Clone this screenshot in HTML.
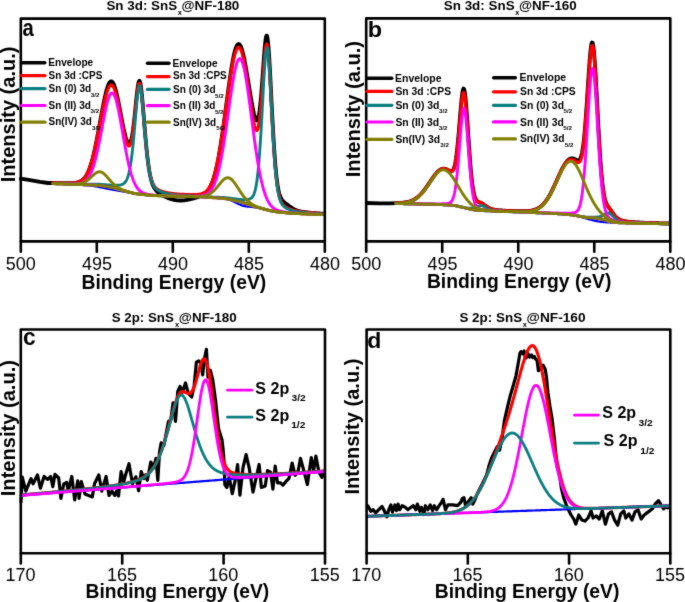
<!DOCTYPE html>
<html><head><meta charset="utf-8"><style>
html,body{margin:0;padding:0;background:#fff;}
svg{display:block;font-family:"Liberation Sans", sans-serif;font-kerning:none;}
</style></head><body>
<svg width="685" height="602" viewBox="0 0 685 602">
<defs><filter id="soft" x="0" y="0" width="685" height="602" filterUnits="userSpaceOnUse" color-interpolation-filters="sRGB"><feConvolveMatrix order="3" kernelMatrix="0.01134 0.08382 0.01134 0.08382 0.61935 0.08382 0.01134 0.08382 0.01134" divisor="1" edgeMode="duplicate" preserveAlpha="false"/></filter></defs>
<rect width="685" height="602" fill="#fff"/>
<g filter="url(#soft)">
<rect width="685" height="602" fill="#fff"/>
<g id="curves">
<path d="M20.8,178.7 L30.0,180.2 L40.0,181.9 L48.0,183.0 L53.0,183.0 L53.5,183.0 L54.0,183.0 L54.5,183.0 L55.0,183.1 L55.5,183.1 L56.0,183.1 L56.5,183.1 L57.0,183.1 L57.5,183.1 L58.0,183.1 L58.5,183.1 L59.0,183.1 L59.5,183.1 L60.0,183.1 L60.5,183.1 L61.0,183.1 L61.5,183.1 L62.0,183.1 L62.5,183.2 L63.0,183.2 L63.5,183.2 L64.0,183.2 L64.5,183.2 L65.0,183.2 L65.5,183.2 L66.0,183.2 L66.5,183.2 L67.0,183.2 L67.5,183.2 L68.0,183.2 L68.5,183.2 L69.0,183.2 L69.5,183.2 L70.0,183.2 L70.5,183.1 L71.0,183.1 L71.5,183.1 L72.0,183.1 L72.5,183.1 L73.0,183.0 L73.5,183.0 L74.0,183.0 L74.5,182.9 L75.0,182.9 L75.5,182.8 L76.0,182.7 L76.5,182.6 L77.0,182.5 L77.5,182.4 L78.0,182.3 L78.5,182.1 L79.0,182.0 L79.5,181.8 L80.0,181.5 L80.5,181.3 L81.0,181.0 L81.5,180.7 L82.0,180.4 L82.5,180.0 L83.0,179.5 L83.5,179.1 L84.0,178.5 L84.5,178.0 L85.0,177.3 L85.5,176.6 L86.0,175.8 L86.5,175.0 L87.0,174.1 L87.5,173.1 L88.0,172.1 L88.5,170.9 L89.0,169.7 L89.5,168.4 L90.0,167.0 L90.5,165.5 L91.0,163.9 L91.5,162.3 L92.0,160.5 L92.5,158.7 L93.0,156.7 L93.5,154.7 L94.0,152.6 L94.5,150.4 L95.0,148.1 L95.5,145.7 L96.0,143.3 L96.5,140.8 L97.0,138.3 L97.5,135.7 L98.0,133.0 L98.5,130.3 L99.0,127.6 L99.5,124.9 L100.0,122.1 L100.5,119.4 L101.0,116.7 L101.5,114.0 L102.0,111.3 L102.5,108.6 L103.0,106.1 L103.5,103.5 L104.0,101.1 L104.5,98.7 L105.0,96.5 L105.5,94.3 L106.0,92.3 L106.5,90.4 L107.0,88.7 L107.5,87.1 L108.0,85.7 L108.5,84.5 L109.0,83.4 L109.5,82.6 L110.0,81.9 L110.5,81.5 L111.0,81.3 L111.5,81.4 L112.0,81.6 L112.5,82.1 L113.0,82.7 L113.5,83.6 L114.0,84.8 L114.5,86.1 L115.0,87.6 L115.5,89.3 L116.0,91.1 L116.5,93.1 L117.0,95.3 L117.5,97.5 L118.0,99.9 L118.5,102.4 L119.0,104.9 L119.5,107.5 L120.0,110.1 L120.5,112.7 L121.0,115.4 L121.5,118.0 L122.0,120.6 L122.5,123.1 L123.0,125.6 L123.5,128.0 L124.0,130.3 L124.5,132.5 L125.0,134.6 L125.5,136.5 L126.0,138.3 L126.5,139.8 L127.0,141.2 L127.5,142.3 L128.0,143.1 L128.5,143.6 L129.0,143.8 L129.5,143.6 L130.0,143.0 L130.5,141.9 L131.0,140.4 L131.5,138.5 L132.0,136.1 L132.5,133.1 L133.0,129.8 L133.5,125.9 L134.0,121.7 L134.5,117.2 L135.0,112.4 L135.5,107.4 L136.0,102.4 L136.5,97.5 L137.0,92.9 L137.5,88.8 L138.0,85.3 L138.5,82.7 L139.0,81.2 L139.5,80.8 L140.0,81.7 L140.5,83.7 L141.0,86.9 L141.5,91.0 L142.0,96.0 L142.5,101.5 L143.0,107.4 L143.5,113.6 L144.0,119.8 L144.5,126.0 L145.0,132.0 L145.5,137.9 L146.0,143.4 L146.5,148.6 L147.0,153.5 L147.5,158.0 L148.0,162.1 L148.5,165.8 L149.0,169.2 L149.5,172.2 L150.0,174.9 L150.5,177.2 L151.0,179.3 L151.5,181.1 L152.0,182.8 L152.5,184.2 L153.0,185.4 L153.5,186.5 L154.0,187.4 L154.5,188.3 L155.0,189.0 L155.5,189.7 L156.0,190.3 L156.5,190.8 L157.0,191.4 L157.5,191.8 L158.0,192.3 L158.5,192.7 L159.0,193.0 L159.5,193.4 L160.0,193.8 L160.5,194.1 L161.0,194.4 L161.5,194.7 L162.0,195.0 L162.5,195.3 L163.0,195.6 L163.5,195.9 L164.0,196.1 L164.5,196.4 L165.0,196.6 L165.5,196.9 L166.0,197.1 L166.5,197.3 L167.0,197.6 L167.5,197.8 L168.0,198.0 L168.5,198.2 L169.0,198.4 L169.5,198.5 L170.0,198.7 L170.5,198.9 L171.0,199.1 L171.5,199.2 L172.0,199.4 L172.5,199.5 L173.0,199.6 L173.5,199.7 L174.0,199.8 L174.5,200.0 L175.0,200.0 L175.5,200.1 L176.0,200.2 L176.5,200.3 L177.0,200.3 L177.5,200.4 L178.0,200.4 L178.5,200.5 L179.0,200.5 L179.5,200.5 L180.0,200.5 L180.5,200.5 L181.0,200.5 L181.5,200.5 L182.0,200.5 L182.5,200.5 L183.0,200.4 L183.5,200.4 L184.0,200.3 L184.5,200.3 L185.0,200.2 L185.5,200.1 L186.0,200.1 L186.5,200.0 L187.0,199.9 L187.5,199.8 L188.0,199.7 L188.5,199.6 L189.0,199.5 L189.5,199.4 L190.0,199.3 L190.5,199.2 L191.0,199.1 L191.5,198.9 L192.0,198.8 L192.5,198.7 L193.0,198.6 L193.5,198.4 L194.0,198.3 L194.5,198.1 L195.0,198.0 L195.5,197.9 L196.0,197.7 L196.5,197.6 L197.0,197.4 L197.5,197.2 L198.0,197.1 L198.5,196.9 L199.0,196.7 L199.5,196.5 L200.0,196.3 L200.5,196.1 L201.0,195.9 L201.5,195.7 L202.0,195.4 L202.5,195.2 L203.0,194.9 L203.5,194.6 L204.0,194.2 L204.5,193.9 L205.0,193.5 L205.5,193.0 L206.0,192.6 L206.5,192.1 L207.0,191.5 L207.5,190.9 L208.0,190.3 L208.5,189.6 L209.0,188.8 L209.5,188.0 L210.0,187.1 L210.5,186.1 L211.0,185.0 L211.5,183.9 L212.0,182.7 L212.5,181.4 L213.0,180.0 L213.5,178.5 L214.0,176.8 L214.5,175.1 L215.0,173.3 L215.5,171.4 L216.0,169.3 L216.5,167.2 L217.0,164.9 L217.5,162.5 L218.0,160.0 L218.5,157.4 L219.0,154.6 L219.5,151.8 L220.0,148.8 L220.5,145.8 L221.0,142.6 L221.5,139.3 L222.0,136.0 L222.5,132.5 L223.0,129.0 L223.5,125.4 L224.0,121.8 L224.5,118.1 L225.0,114.4 L225.5,110.6 L226.0,106.8 L226.5,103.0 L227.0,99.3 L227.5,95.5 L228.0,91.8 L228.5,88.1 L229.0,84.5 L229.5,81.0 L230.0,77.5 L230.5,74.2 L231.0,70.9 L231.5,67.8 L232.0,64.8 L232.5,62.0 L233.0,59.3 L233.5,56.8 L234.0,54.5 L234.5,52.4 L235.0,50.6 L235.5,48.9 L236.0,47.5 L236.5,46.3 L237.0,45.3 L237.5,44.6 L238.0,44.2 L238.5,44.0 L239.0,44.1 L239.5,44.4 L240.0,45.0 L240.5,45.8 L241.0,46.9 L241.5,48.2 L242.0,49.7 L242.5,51.5 L243.0,53.4 L243.5,55.5 L244.0,57.8 L244.5,60.2 L245.0,62.8 L245.5,65.5 L246.0,68.3 L246.5,71.2 L247.0,74.1 L247.5,77.1 L248.0,80.1 L248.5,83.1 L249.0,86.2 L249.5,89.2 L250.0,92.3 L250.5,95.3 L251.0,98.2 L251.5,101.1 L252.0,103.9 L252.5,106.6 L253.0,109.2 L253.5,111.6 L254.0,113.9 L254.5,115.9 L255.0,117.6 L255.5,119.0 L256.0,120.0 L256.5,120.5 L257.0,120.6 L257.5,120.0 L258.0,118.8 L258.5,117.0 L259.0,114.4 L259.5,111.1 L260.0,107.1 L260.5,102.4 L261.0,96.9 L261.5,90.9 L262.0,84.4 L262.5,77.5 L263.0,70.5 L263.5,63.4 L264.0,56.5 L264.5,50.2 L265.0,44.6 L265.5,40.1 L266.0,37.0 L266.5,35.6 L267.0,35.8 L267.5,37.9 L268.0,41.8 L268.5,47.4 L269.0,54.3 L269.5,62.4 L270.0,71.4 L270.5,80.9 L271.0,90.8 L271.5,100.8 L272.0,110.6 L272.5,120.2 L273.0,129.4 L273.5,138.0 L274.0,146.1 L274.5,153.6 L275.0,160.4 L275.5,166.5 L276.0,171.9 L276.5,176.7 L277.0,180.8 L277.5,184.5 L278.0,187.5 L278.5,190.2 L279.0,192.4 L279.5,194.3 L280.0,195.8 L280.5,197.1 L281.0,198.2 L281.5,199.1 L282.0,199.9 L282.5,200.6 L283.0,201.1 L283.5,201.6 L284.0,202.1 L284.5,202.5 L285.0,202.9 L285.5,203.3 L286.0,203.7 L286.5,204.0 L287.0,204.4 L287.5,204.8 L288.0,205.2 L288.5,205.5 L289.0,205.9 L289.5,206.3 L290.0,206.6 L290.5,207.0 L291.0,207.3 L291.5,207.7 L292.0,208.0 L292.5,208.3 L293.0,208.6 L293.5,208.9 L294.0,209.2 L294.5,209.5 L295.0,209.7 L295.5,209.9 L296.0,210.1 L296.5,210.3 L297.0,210.5 L297.5,210.7 L298.0,210.8 L298.5,211.0 L299.0,211.1 L299.5,211.2 L300.0,211.3 L300.5,211.4 L301.0,211.5 L301.5,211.6 L302.0,211.7 L302.5,211.8 L303.0,211.9 L303.5,212.0 L304.0,212.0 L304.5,212.1 L305.0,212.2 L305.5,212.2 L306.0,212.3 L306.5,212.3 L307.0,212.4 L307.5,212.5 L308.0,212.5 L308.5,212.6 L309.0,212.6 L309.5,212.7 L310.0,212.7 L310.5,212.8 L311.0,212.8 L311.5,212.9 L312.0,212.9 L312.5,212.9 L313.0,213.0 L313.5,213.0 L314.0,213.1 L314.5,213.1 L315.0,213.2 L315.5,213.2 L316.0,213.2 L316.5,213.3 L317.0,213.3 L317.5,213.4 L318.0,213.4 L318.5,213.4 L319.0,213.5 L319.5,213.5 L320.0,213.5 L320.5,213.6 L321.0,213.6 L321.5,213.6 L322.0,213.7 L322.5,213.7 L323.0,213.7 L323.5,213.8 L324.0,213.8" fill="none" stroke="#000000" stroke-width="3.8" stroke-linejoin="round" stroke-linecap="round" />
<path d="M53.0,183.0 L53.5,183.0 L54.0,183.0 L54.5,183.0 L55.0,183.1 L55.5,183.1 L56.0,183.1 L56.5,183.1 L57.0,183.1 L57.5,183.1 L58.0,183.1 L58.5,183.1 L59.0,183.1 L59.5,183.1 L60.0,183.1 L60.5,183.1 L61.0,183.1 L61.5,183.1 L62.0,183.1 L62.5,183.2 L63.0,183.2 L63.5,183.2 L64.0,183.2 L64.5,183.2 L65.0,183.2 L65.5,183.2 L66.0,183.2 L66.5,183.2 L67.0,183.2 L67.5,183.2 L68.0,183.2 L68.5,183.2 L69.0,183.2 L69.5,183.2 L70.0,183.2 L70.5,183.1 L71.0,183.1 L71.5,183.1 L72.0,183.1 L72.5,183.1 L73.0,183.0 L73.5,183.0 L74.0,183.0 L74.5,182.9 L75.0,182.9 L75.5,182.8 L76.0,182.7 L76.5,182.6 L77.0,182.5 L77.5,182.4 L78.0,182.3 L78.5,182.1 L79.0,182.0 L79.5,181.8 L80.0,181.5 L80.5,181.3 L81.0,181.0 L81.5,180.7 L82.0,180.4 L82.5,180.0 L83.0,179.5 L83.5,179.1 L84.0,178.5 L84.5,178.0 L85.0,177.3 L85.5,176.6 L86.0,175.9 L86.5,175.0 L87.0,174.1 L87.5,173.1 L88.0,172.1 L88.5,171.0 L89.0,169.7 L89.5,168.4 L90.0,167.1 L90.5,165.6 L91.0,164.0 L91.5,162.4 L92.0,160.6 L92.5,158.8 L93.0,156.9 L93.5,154.9 L94.0,152.8 L94.5,150.7 L95.0,148.4 L95.5,146.1 L96.0,143.8 L96.5,141.3 L97.0,138.8 L97.5,136.3 L98.0,133.8 L98.5,131.2 L99.0,128.6 L99.5,126.0 L100.0,123.3 L100.5,120.7 L101.0,118.1 L101.5,115.6 L102.0,113.1 L102.5,110.6 L103.0,108.1 L103.5,105.8 L104.0,103.5 L104.5,101.3 L105.0,99.2 L105.5,97.2 L106.0,95.3 L106.5,93.6 L107.0,91.9 L107.5,90.5 L108.0,89.2 L108.5,88.0 L109.0,87.0 L109.5,86.2 L110.0,85.6 L110.5,85.2 L111.0,85.0 L111.5,85.0 L112.0,85.2 L112.5,85.6 L113.0,86.2 L113.5,87.0 L114.0,88.0 L114.5,89.2 L115.0,90.6 L115.5,92.2 L116.0,93.9 L116.5,95.7 L117.0,97.7 L117.5,99.9 L118.0,102.1 L118.5,104.5 L119.0,106.9 L119.5,109.4 L120.0,112.0 L120.5,114.6 L121.0,117.2 L121.5,119.8 L122.0,122.5 L122.5,125.0 L123.0,127.6 L123.5,130.0 L124.0,132.4 L124.5,134.7 L125.0,136.8 L125.5,138.8 L126.0,140.6 L126.5,142.2 L127.0,143.5 L127.5,144.6 L128.0,145.4 L128.5,145.8 L129.0,145.9 L129.5,145.7 L130.0,145.0 L130.5,143.9 L131.0,142.3 L131.5,140.3 L132.0,137.9 L132.5,135.0 L133.0,131.6 L133.5,127.8 L134.0,123.7 L134.5,119.2 L135.0,114.5 L135.5,109.6 L136.0,104.7 L136.5,99.9 L137.0,95.4 L137.5,91.3 L138.0,87.9 L138.5,85.3 L139.0,83.8 L139.5,83.4 L140.0,84.2 L140.5,86.2 L141.0,89.3 L141.5,93.3 L142.0,98.1 L142.5,103.4 L143.0,109.1 L143.5,115.1 L144.0,121.1 L144.5,127.1 L145.0,133.0 L145.5,138.6 L146.0,143.9 L146.5,149.0 L147.0,153.6 L147.5,157.9 L148.0,161.9 L148.5,165.4 L149.0,168.6 L149.5,171.5 L150.0,174.0 L150.5,176.3 L151.0,178.3 L151.5,180.0 L152.0,181.5 L152.5,182.8 L153.0,183.9 L153.5,184.9 L154.0,185.7 L154.5,186.5 L155.0,187.1 L155.5,187.7 L156.0,188.2 L156.5,188.6 L157.0,189.0 L157.5,189.3 L158.0,189.7 L158.5,190.0 L159.0,190.2 L159.5,190.5 L160.0,190.7 L160.5,190.9 L161.0,191.1 L161.5,191.3 L162.0,191.5 L162.5,191.6 L163.0,191.8 L163.5,191.9 L164.0,192.1 L164.5,192.2 L165.0,192.3 L165.5,192.4 L166.0,192.5 L166.5,192.6 L167.0,192.7 L167.5,192.8 L168.0,192.9 L168.5,193.0 L169.0,193.1 L169.5,193.2 L170.0,193.3 L170.5,193.3 L171.0,193.4 L171.5,193.5 L172.0,193.5 L172.5,193.6 L173.0,193.7 L173.5,193.7 L174.0,193.8 L174.5,193.8 L175.0,193.9 L175.5,193.9 L176.0,194.0 L176.5,194.0 L177.0,194.1 L177.5,194.1 L178.0,194.1 L178.5,194.2 L179.0,194.2 L179.5,194.3 L180.0,194.3 L180.5,194.3 L181.0,194.4 L181.5,194.4 L182.0,194.4 L182.5,194.4 L183.0,194.5 L183.5,194.5 L184.0,194.5 L184.5,194.5 L185.0,194.6 L185.5,194.6 L186.0,194.6 L186.5,194.6 L187.0,194.6 L187.5,194.7 L188.0,194.7 L188.5,194.7 L189.0,194.7 L189.5,194.7 L190.0,194.7 L190.5,194.7 L191.0,194.7 L191.5,194.7 L192.0,194.7 L192.5,194.7 L193.0,194.7 L193.5,194.7 L194.0,194.7 L194.5,194.7 L195.0,194.7 L195.5,194.7 L196.0,194.6 L196.5,194.6 L197.0,194.6 L197.5,194.5 L198.0,194.5 L198.5,194.4 L199.0,194.3 L199.5,194.3 L200.0,194.2 L200.5,194.1 L201.0,194.0 L201.5,193.8 L202.0,193.7 L202.5,193.5 L203.0,193.3 L203.5,193.1 L204.0,192.8 L204.5,192.5 L205.0,192.2 L205.5,191.9 L206.0,191.5 L206.5,191.0 L207.0,190.6 L207.5,190.0 L208.0,189.4 L208.5,188.8 L209.0,188.1 L209.5,187.3 L210.0,186.4 L210.5,185.5 L211.0,184.5 L211.5,183.4 L212.0,182.2 L212.5,180.9 L213.0,179.6 L213.5,178.1 L214.0,176.5 L214.5,174.8 L215.0,173.0 L215.5,171.1 L216.0,169.1 L216.5,167.0 L217.0,164.7 L217.5,162.4 L218.0,159.9 L218.5,157.3 L219.0,154.6 L219.5,151.8 L220.0,148.8 L220.5,145.8 L221.0,142.7 L221.5,139.4 L222.0,136.1 L222.5,132.7 L223.0,129.3 L223.5,125.8 L224.0,122.2 L224.5,118.6 L225.0,114.9 L225.5,111.2 L226.0,107.5 L226.5,103.9 L227.0,100.2 L227.5,96.6 L228.0,93.0 L228.5,89.4 L229.0,85.9 L229.5,82.5 L230.0,79.2 L230.5,76.0 L231.0,72.9 L231.5,69.9 L232.0,67.1 L232.5,64.4 L233.0,61.9 L233.5,59.5 L234.0,57.3 L234.5,55.4 L235.0,53.6 L235.5,52.0 L236.0,50.6 L236.5,49.5 L237.0,48.6 L237.5,47.9 L238.0,47.5 L238.5,47.3 L239.0,47.4 L239.5,47.7 L240.0,48.3 L240.5,49.1 L241.0,50.1 L241.5,51.4 L242.0,52.8 L242.5,54.6 L243.0,56.5 L243.5,58.6 L244.0,60.9 L244.5,63.4 L245.0,66.1 L245.5,68.9 L246.0,71.9 L246.5,75.0 L247.0,78.2 L247.5,81.5 L248.0,84.9 L248.5,88.3 L249.0,91.8 L249.5,95.3 L250.0,98.8 L250.5,102.3 L251.0,105.7 L251.5,109.1 L252.0,112.4 L252.5,115.5 L253.0,118.5 L253.5,121.2 L254.0,123.7 L254.5,125.9 L255.0,127.7 L255.5,129.1 L256.0,130.1 L256.5,130.5 L257.0,130.4 L257.5,129.7 L258.0,128.3 L258.5,126.2 L259.0,123.4 L259.5,119.9 L260.0,115.7 L260.5,110.8 L261.0,105.3 L261.5,99.2 L262.0,92.7 L262.5,85.8 L263.0,78.7 L263.5,71.7 L264.0,64.9 L264.5,58.7 L265.0,53.2 L265.5,48.8 L266.0,45.7 L266.5,44.2 L267.0,44.4 L267.5,46.4 L268.0,50.1 L268.5,55.4 L269.0,62.1 L269.5,69.9 L270.0,78.5 L270.5,87.6 L271.0,97.1 L271.5,106.6 L272.0,116.0 L272.5,125.2 L273.0,133.9 L273.5,142.2 L274.0,150.0 L274.5,157.1 L275.0,163.6 L275.5,169.5 L276.0,174.7 L276.5,179.4 L277.0,183.5 L277.5,187.0 L278.0,190.1 L278.5,192.7 L279.0,195.0 L279.5,197.0 L280.0,198.6 L280.5,200.0 L281.0,201.2 L281.5,202.2 L282.0,203.1 L282.5,203.8 L283.0,204.5 L283.5,205.1 L284.0,205.6 L284.5,206.0 L285.0,206.4 L285.5,206.8 L286.0,207.1 L286.5,207.4 L287.0,207.7 L287.5,208.0 L288.0,208.2 L288.5,208.5 L289.0,208.7 L289.5,208.9 L290.0,209.1 L290.5,209.3 L291.0,209.5 L291.5,209.6 L292.0,209.8 L292.5,209.9 L293.0,210.1 L293.5,210.2 L294.0,210.3 L294.5,210.5 L295.0,210.6 L295.5,210.7 L296.0,210.8 L296.5,210.9 L297.0,211.0 L297.5,211.1 L298.0,211.2 L298.5,211.3 L299.0,211.3 L299.5,211.4 L300.0,211.5 L300.5,211.6 L301.0,211.6 L301.5,211.7 L302.0,211.8 L302.5,211.9 L303.0,211.9 L303.5,212.0 L304.0,212.1 L304.5,212.1 L305.0,212.2 L305.5,212.2 L306.0,212.3 L306.5,212.3 L307.0,212.4 L307.5,212.5 L308.0,212.5 L308.5,212.6 L309.0,212.6 L309.5,212.7 L310.0,212.7 L310.5,212.8 L311.0,212.8 L311.5,212.9 L312.0,212.9 L312.5,212.9 L313.0,213.0 L313.5,213.0 L314.0,213.1 L314.5,213.1 L315.0,213.2 L315.5,213.2 L316.0,213.2 L316.5,213.3 L317.0,213.3 L317.5,213.4 L318.0,213.4 L318.5,213.4 L319.0,213.5 L319.5,213.5 L320.0,213.5 L320.5,213.6 L321.0,213.6 L321.5,213.6 L322.0,213.7 L322.5,213.7 L323.0,213.7 L323.5,213.8 L324.0,213.8" fill="none" stroke="#ff0000" stroke-width="3.3" stroke-linejoin="round" stroke-linecap="round" />
<path d="M53.0,183.6 L53.5,183.7 L54.0,183.7 L54.5,183.7 L55.0,183.7 L55.5,183.7 L56.0,183.7 L56.5,183.7 L57.0,183.7 L57.5,183.8 L58.0,183.8 L58.5,183.8 L59.0,183.8 L59.5,183.8 L60.0,183.9 L60.5,183.9 L61.0,183.9 L61.5,183.9 L62.0,183.9 L62.5,183.9 L63.0,184.0 L63.5,184.0 L64.0,184.0 L64.5,184.0 L65.0,184.0 L65.5,184.1 L66.0,184.1 L66.5,184.1 L67.0,184.1 L67.5,184.1 L68.0,184.1 L68.5,184.2 L69.0,184.2 L69.5,184.2 L70.0,184.2 L70.5,184.2 L71.0,184.3 L71.5,184.3 L72.0,184.3 L72.5,184.3 L73.0,184.3 L73.5,184.4 L74.0,184.4 L74.5,184.4 L75.0,184.4 L75.5,184.5 L76.0,184.5 L76.5,184.5 L77.0,184.5 L77.5,184.6 L78.0,184.6 L78.5,184.6 L79.0,184.7 L79.5,184.7 L80.0,184.7 L80.5,184.7 L81.0,184.8 L81.5,184.8 L82.0,184.9 L82.5,184.9 L83.0,184.9 L83.5,185.0 L84.0,185.0 L84.5,185.1 L85.0,185.1 L85.5,185.2 L86.0,185.2 L86.5,185.2 L87.0,185.3 L87.5,185.4 L88.0,185.4 L88.5,185.5 L89.0,185.5 L89.5,185.6 L90.0,185.6 L90.5,185.7 L91.0,185.8 L91.5,185.8 L92.0,185.9 L92.5,186.0 L93.0,186.0 L93.5,186.1 L94.0,186.2 L94.5,186.2 L95.0,186.3 L95.5,186.4 L96.0,186.5 L96.5,186.5 L97.0,186.6 L97.5,186.7 L98.0,186.8 L98.5,186.9 L99.0,187.0 L99.5,187.1 L100.0,187.2 L100.5,187.3 L101.0,187.4 L101.5,187.5 L102.0,187.6 L102.5,187.7 L103.0,187.8 L103.5,187.9 L104.0,188.0 L104.5,188.1 L105.0,188.2 L105.5,188.3 L106.0,188.4 L106.5,188.5 L107.0,188.6 L107.5,188.7 L108.0,188.8 L108.5,188.9 L109.0,189.0 L109.5,189.1 L110.0,189.2 L110.5,189.3 L111.0,189.3 L111.5,189.4 L112.0,189.5 L112.5,189.6 L113.0,189.7 L113.5,189.8 L114.0,189.9 L114.5,190.0 L115.0,190.1 L115.5,190.1 L116.0,190.2 L116.5,190.3 L117.0,190.4 L117.5,190.5 L118.0,190.6 L118.5,190.7 L119.0,190.8 L119.5,190.9 L120.0,190.9 L120.5,191.0 L121.0,191.1 L121.5,191.2 L122.0,191.3 L122.5,191.4 L123.0,191.5 L123.5,191.6 L124.0,191.7 L124.5,191.7 L125.0,191.8 L125.5,191.9 L126.0,192.0 L126.5,192.1 L127.0,192.2 L127.5,192.3 L128.0,192.4 L128.5,192.5 L129.0,192.6 L129.5,192.7 L130.0,192.8 L130.5,192.9 L131.0,193.0 L131.5,193.1 L132.0,193.2 L132.5,193.3 L133.0,193.4 L133.5,193.5 L134.0,193.6 L134.5,193.7 L135.0,193.8 L135.5,193.8 L136.0,193.9 L136.5,194.0 L137.0,194.0 L137.5,194.1 L138.0,194.1 L138.5,194.2 L139.0,194.2 L139.5,194.3 L140.0,194.3 L140.5,194.4 L141.0,194.4 L141.5,194.5 L142.0,194.5 L142.5,194.6 L143.0,194.6 L143.5,194.7 L144.0,194.7 L144.5,194.8 L145.0,194.8 L145.5,194.9 L146.0,194.9 L146.5,195.0 L147.0,195.0 L147.5,195.1 L148.0,195.1 L148.5,195.2 L149.0,195.2 L149.5,195.2 L150.0,195.3 L150.5,195.3 L151.0,195.4 L151.5,195.4 L152.0,195.4 L152.5,195.5 L153.0,195.5 L153.5,195.5 L154.0,195.6 L154.5,195.6 L155.0,195.6 L155.5,195.6 L156.0,195.7 L156.5,195.7 L157.0,195.7 L157.5,195.7 L158.0,195.7 L158.5,195.7 L159.0,195.8 L159.5,195.8 L160.0,195.8 L160.5,195.8 L161.0,195.8 L161.5,195.8 L162.0,195.8 L162.5,195.9 L163.0,195.9 L163.5,195.9 L164.0,195.9 L164.5,195.9 L165.0,195.9 L165.5,195.9 L166.0,196.0 L166.5,196.0 L167.0,196.0 L167.5,196.0 L168.0,196.0 L168.5,196.0 L169.0,196.0 L169.5,196.1 L170.0,196.1 L170.5,196.1 L171.0,196.1 L171.5,196.1 L172.0,196.1 L172.5,196.1 L173.0,196.2 L173.5,196.2 L174.0,196.2 L174.5,196.2 L175.0,196.2 L175.5,196.2 L176.0,196.2 L176.5,196.3 L177.0,196.3 L177.5,196.3 L178.0,196.3 L178.5,196.3 L179.0,196.3 L179.5,196.3 L180.0,196.3 L180.5,196.4 L181.0,196.4 L181.5,196.4 L182.0,196.4 L182.5,196.4 L183.0,196.4 L183.5,196.4 L184.0,196.5 L184.5,196.5 L185.0,196.5 L185.5,196.5 L186.0,196.5 L186.5,196.5 L187.0,196.5 L187.5,196.6 L188.0,196.6 L188.5,196.6 L189.0,196.6 L189.5,196.6 L190.0,196.6 L190.5,196.6 L191.0,196.7 L191.5,196.7 L192.0,196.7 L192.5,196.7 L193.0,196.7 L193.5,196.7 L194.0,196.7 L194.5,196.7 L195.0,196.8 L195.5,196.8 L196.0,196.8 L196.5,196.8 L197.0,196.8 L197.5,196.8 L198.0,196.9 L198.5,196.9 L199.0,196.9 L199.5,196.9 L200.0,196.9 L200.5,197.0 L201.0,197.0 L201.5,197.0 L202.0,197.0 L202.5,197.1 L203.0,197.1 L203.5,197.1 L204.0,197.2 L204.5,197.2 L205.0,197.2 L205.5,197.3 L206.0,197.3 L206.5,197.3 L207.0,197.3 L207.5,197.4 L208.0,197.4 L208.5,197.4 L209.0,197.5 L209.5,197.5 L210.0,197.5 L210.5,197.6 L211.0,197.6 L211.5,197.6 L212.0,197.7 L212.5,197.7 L213.0,197.7 L213.5,197.8 L214.0,197.8 L214.5,197.8 L215.0,197.9 L215.5,197.9 L216.0,197.9 L216.5,198.0 L217.0,198.0 L217.5,198.0 L218.0,198.1 L218.5,198.1 L219.0,198.1 L219.5,198.2 L220.0,198.2 L220.5,198.2 L221.0,198.3 L221.5,198.3 L222.0,198.4 L222.5,198.4 L223.0,198.5 L223.5,198.6 L224.0,198.6 L224.5,198.7 L225.0,198.8 L225.5,198.9 L226.0,199.0 L226.5,199.1 L227.0,199.2 L227.5,199.3 L228.0,199.5 L228.5,199.6 L229.0,199.8 L229.5,199.9 L230.0,200.1 L230.5,200.3 L231.0,200.4 L231.5,200.6 L232.0,200.8 L232.5,201.0 L233.0,201.3 L233.5,201.5 L234.0,201.7 L234.5,201.9 L235.0,202.2 L235.5,202.4 L236.0,202.7 L236.5,202.9 L237.0,203.2 L237.5,203.4 L238.0,203.7 L238.5,203.9 L239.0,204.2 L239.5,204.4 L240.0,204.6 L240.5,204.9 L241.0,205.1 L241.5,205.3 L242.0,205.4 L242.5,205.6 L243.0,205.8 L243.5,205.9 L244.0,206.0 L244.5,206.1 L245.0,206.2 L245.5,206.3 L246.0,206.4 L246.5,206.4 L247.0,206.5 L247.5,206.6 L248.0,206.6 L248.5,206.6 L249.0,206.7 L249.5,206.7 L250.0,206.8 L250.5,206.8 L251.0,206.9 L251.5,206.9 L252.0,207.0 L252.5,207.0 L253.0,207.1 L253.5,207.1 L254.0,207.2 L254.5,207.3 L255.0,207.3 L255.5,207.4 L256.0,207.5 L256.5,207.6 L257.0,207.7 L257.5,207.8 L258.0,207.9 L258.5,208.0 L259.0,208.0 L259.5,208.2 L260.0,208.3 L260.5,208.4 L261.0,208.5 L261.5,208.6 L262.0,208.7 L262.5,208.8 L263.0,208.9 L263.5,209.1 L264.0,209.2 L264.5,209.3 L265.0,209.4 L265.5,209.6 L266.0,209.7 L266.5,209.8 L267.0,209.9 L267.5,210.1 L268.0,210.2 L268.5,210.3 L269.0,210.4 L269.5,210.6 L270.0,210.7 L270.5,210.8 L271.0,210.9 L271.5,211.0 L272.0,211.1 L272.5,211.2 L273.0,211.3 L273.5,211.4 L274.0,211.5 L274.5,211.6 L275.0,211.6 L275.5,211.7 L276.0,211.8 L276.5,211.8 L277.0,211.9 L277.5,211.9 L278.0,212.0 L278.5,212.0 L279.0,212.1 L279.5,212.1 L280.0,212.2 L280.5,212.2 L281.0,212.3 L281.5,212.3 L282.0,212.4 L282.5,212.4 L283.0,212.5 L283.5,212.5 L284.0,212.6 L284.5,212.6 L285.0,212.7 L285.5,212.7 L286.0,212.8 L286.5,212.8 L287.0,212.9 L287.5,212.9 L288.0,213.0 L288.5,213.0 L289.0,213.1 L289.5,213.1 L290.0,213.2 L290.5,213.2 L291.0,213.2 L291.5,213.3 L292.0,213.3 L292.5,213.3 L293.0,213.4 L293.5,213.4 L294.0,213.4 L294.5,213.4 L295.0,213.5 L295.5,213.5 L296.0,213.5 L296.5,213.5 L297.0,213.6 L297.5,213.6 L298.0,213.6 L298.5,213.6 L299.0,213.6 L299.5,213.7 L300.0,213.7 L300.5,213.7 L301.0,213.7 L301.5,213.7 L302.0,213.8 L302.5,213.8 L303.0,213.8 L303.5,213.8 L304.0,213.9 L304.5,213.9 L305.0,213.9 L305.5,213.9 L306.0,213.9 L306.5,214.0 L307.0,214.0 L307.5,214.0 L308.0,214.0 L308.5,214.0 L309.0,214.1 L309.5,214.1 L310.0,214.1 L310.5,214.1 L311.0,214.1 L311.5,214.2 L312.0,214.2 L312.5,214.2 L313.0,214.2 L313.5,214.3 L314.0,214.3 L314.5,214.3 L315.0,214.3 L315.5,214.3 L316.0,214.4 L316.5,214.4 L317.0,214.4 L317.5,214.4 L318.0,214.4 L318.5,214.5 L319.0,214.5 L319.5,214.5 L320.0,214.5 L320.5,214.5 L321.0,214.6 L321.5,214.6 L322.0,214.6 L322.5,214.6 L323.0,214.6 L323.5,214.6 L324.0,214.6" fill="none" stroke="#0000ff" stroke-width="2.2" stroke-linejoin="round" stroke-linecap="round" />
<path d="M53.0,183.4 L53.5,183.4 L54.0,183.4 L54.5,183.4 L55.0,183.4 L55.5,183.4 L56.0,183.4 L56.5,183.5 L57.0,183.5 L57.5,183.5 L58.0,183.5 L58.5,183.5 L59.0,183.5 L59.5,183.5 L60.0,183.5 L60.5,183.6 L61.0,183.6 L61.5,183.6 L62.0,183.6 L62.5,183.6 L63.0,183.6 L63.5,183.6 L64.0,183.7 L64.5,183.7 L65.0,183.7 L65.5,183.7 L66.0,183.7 L66.5,183.7 L67.0,183.7 L67.5,183.7 L68.0,183.8 L68.5,183.8 L69.0,183.8 L69.5,183.8 L70.0,183.8 L70.5,183.8 L71.0,183.8 L71.5,183.8 L72.0,183.9 L72.5,183.9 L73.0,183.9 L73.5,183.9 L74.0,183.9 L74.5,183.9 L75.0,183.9 L75.5,183.9 L76.0,184.0 L76.5,184.0 L77.0,184.0 L77.5,184.0 L78.0,184.0 L78.5,184.0 L79.0,184.0 L79.5,184.0 L80.0,184.0 L80.5,184.1 L81.0,184.1 L81.5,184.1 L82.0,184.1 L82.5,184.1 L83.0,184.1 L83.5,184.1 L84.0,184.1 L84.5,184.1 L85.0,184.1 L85.5,184.1 L86.0,184.2 L86.5,184.2 L87.0,184.2 L87.5,184.2 L88.0,184.2 L88.5,184.2 L89.0,184.2 L89.5,184.2 L90.0,184.2 L90.5,184.2 L91.0,184.2 L91.5,184.2 L92.0,184.2 L92.5,184.2 L93.0,184.2 L93.5,184.2 L94.0,184.2 L94.5,184.2 L95.0,184.2 L95.5,184.2 L96.0,184.2 L96.5,184.2 L97.0,184.3 L97.5,184.3 L98.0,184.3 L98.5,184.3 L99.0,184.3 L99.5,184.3 L100.0,184.3 L100.5,184.4 L101.0,184.4 L101.5,184.4 L102.0,184.5 L102.5,184.5 L103.0,184.5 L103.5,184.6 L104.0,184.6 L104.5,184.7 L105.0,184.7 L105.5,184.7 L106.0,184.8 L106.5,184.8 L107.0,184.9 L107.5,184.9 L108.0,184.9 L108.5,185.0 L109.0,185.0 L109.5,185.0 L110.0,185.1 L110.5,185.1 L111.0,185.1 L111.5,185.1 L112.0,185.2 L112.5,185.2 L113.0,185.2 L113.5,185.3 L114.0,185.3 L114.5,185.3 L115.0,185.3 L115.5,185.3 L116.0,185.3 L116.5,185.3 L117.0,185.3 L117.5,185.3 L118.0,185.3 L118.5,185.2 L119.0,185.2 L119.5,185.1 L120.0,185.1 L120.5,185.0 L121.0,184.8 L121.5,184.7 L122.0,184.5 L122.5,184.3 L123.0,184.0 L123.5,183.7 L124.0,183.3 L124.5,182.9 L125.0,182.4 L125.5,181.7 L126.0,181.0 L126.5,180.1 L127.0,179.1 L127.5,177.8 L128.0,176.4 L128.5,174.7 L129.0,172.8 L129.5,170.5 L130.0,168.0 L130.5,165.1 L131.0,161.9 L131.5,158.3 L132.0,154.3 L132.5,149.9 L133.0,145.2 L133.5,140.1 L134.0,134.7 L134.5,129.1 L135.0,123.3 L135.5,117.4 L136.0,111.6 L136.5,105.9 L137.0,100.6 L137.5,95.8 L138.0,91.7 L138.5,88.6 L139.0,86.5 L139.5,85.7 L140.0,86.2 L140.5,87.8 L141.0,90.7 L141.5,94.5 L142.0,99.1 L142.5,104.4 L143.0,110.1 L143.5,116.0 L144.0,122.0 L144.5,128.0 L145.0,133.9 L145.5,139.5 L146.0,144.8 L146.5,149.9 L147.0,154.6 L147.5,158.9 L148.0,162.8 L148.5,166.4 L149.0,169.6 L149.5,172.4 L150.0,175.0 L150.5,177.2 L151.0,179.1 L151.5,180.9 L152.0,182.3 L152.5,183.6 L153.0,184.7 L153.5,185.7 L154.0,186.5 L154.5,187.3 L155.0,187.9 L155.5,188.5 L156.0,189.0 L156.5,189.4 L157.0,189.8 L157.5,190.1 L158.0,190.4 L158.5,190.7 L159.0,191.0 L159.5,191.2 L160.0,191.5 L160.5,191.7 L161.0,191.9 L161.5,192.0 L162.0,192.2 L162.5,192.4 L163.0,192.5 L163.5,192.7 L164.0,192.8 L164.5,192.9 L165.0,193.1 L165.5,193.2 L166.0,193.3 L166.5,193.4 L167.0,193.5 L167.5,193.6 L168.0,193.7 L168.5,193.8 L169.0,193.9 L169.5,194.0 L170.0,194.0 L170.5,194.1 L171.0,194.2 L171.5,194.3 L172.0,194.3 L172.5,194.4 L173.0,194.5 L173.5,194.5 L174.0,194.6 L174.5,194.6 L175.0,194.7 L175.5,194.7 L176.0,194.8 L176.5,194.9 L177.0,194.9 L177.5,195.0 L178.0,195.0 L178.5,195.0 L179.0,195.1 L179.5,195.1 L180.0,195.2 L180.5,195.2 L181.0,195.3 L181.5,195.3 L182.0,195.3 L182.5,195.4 L183.0,195.4 L183.5,195.4 L184.0,195.5 L184.5,195.5 L185.0,195.6 L185.5,195.6 L186.0,195.6 L186.5,195.7 L187.0,195.7 L187.5,195.7 L188.0,195.7 L188.5,195.8 L189.0,195.8 L189.5,195.8 L190.0,195.9 L190.5,195.9 L191.0,195.9 L191.5,195.9 L192.0,196.0 L192.5,196.0 L193.0,196.0 L193.5,196.1 L194.0,196.1 L194.5,196.1 L195.0,196.1 L195.5,196.2 L196.0,196.2 L196.5,196.2 L197.0,196.2 L197.5,196.3 L198.0,196.3 L198.5,196.3 L199.0,196.4 L199.5,196.4 L200.0,196.4 L200.5,196.4 L201.0,196.5 L201.5,196.5 L202.0,196.5 L202.5,196.6 L203.0,196.6 L203.5,196.7 L204.0,196.7 L204.5,196.7 L205.0,196.8 L205.5,196.8 L206.0,196.8 L206.5,196.9 L207.0,196.9 L207.5,197.0 L208.0,197.0 L208.5,197.0 L209.0,197.1 L209.5,197.1 L210.0,197.1 L210.5,197.2 L211.0,197.2 L211.5,197.3 L212.0,197.3 L212.5,197.3 L213.0,197.4 L213.5,197.4 L214.0,197.4 L214.5,197.5 L215.0,197.5 L215.5,197.6 L216.0,197.6 L216.5,197.6 L217.0,197.7 L217.5,197.7 L218.0,197.7 L218.5,197.8 L219.0,197.8 L219.5,197.8 L220.0,197.9 L220.5,197.9 L221.0,198.0 L221.5,198.0 L222.0,198.1 L222.5,198.1 L223.0,198.2 L223.5,198.2 L224.0,198.3 L224.5,198.3 L225.0,198.4 L225.5,198.5 L226.0,198.6 L226.5,198.6 L227.0,198.7 L227.5,198.8 L228.0,198.9 L228.5,199.0 L229.0,199.1 L229.5,199.2 L230.0,199.3 L230.5,199.4 L231.0,199.5 L231.5,199.6 L232.0,199.7 L232.5,199.8 L233.0,200.0 L233.5,200.1 L234.0,200.2 L234.5,200.3 L235.0,200.4 L235.5,200.5 L236.0,200.6 L236.5,200.8 L237.0,200.9 L237.5,201.0 L238.0,201.2 L238.5,201.3 L239.0,201.4 L239.5,201.6 L240.0,201.7 L240.5,201.8 L241.0,202.0 L241.5,202.1 L242.0,202.3 L242.5,202.4 L243.0,202.6 L243.5,202.7 L244.0,202.9 L244.5,203.0 L245.0,203.2 L245.5,203.3 L246.0,203.5 L246.5,203.6 L247.0,203.8 L247.5,203.9 L248.0,204.1 L248.5,204.3 L249.0,204.4 L249.5,204.6 L250.0,204.8 L250.5,205.0 L251.0,205.1 L251.5,205.3 L252.0,205.5 L252.5,205.7 L253.0,205.8 L253.5,206.0 L254.0,206.2 L254.5,206.3 L255.0,206.5 L255.5,206.7 L256.0,206.8 L256.5,207.0 L257.0,207.1 L257.5,207.3 L258.0,207.4 L258.5,207.6 L259.0,207.7 L259.5,207.8 L260.0,208.0 L260.5,208.1 L261.0,208.2 L261.5,208.4 L262.0,208.5 L262.5,208.6 L263.0,208.8 L263.5,208.9 L264.0,209.0 L264.5,209.2 L265.0,209.3 L265.5,209.4 L266.0,209.5 L266.5,209.7 L267.0,209.8 L267.5,209.9 L268.0,210.1 L268.5,210.2 L269.0,210.3 L269.5,210.4 L270.0,210.6 L270.5,210.7 L271.0,210.8 L271.5,210.9 L272.0,211.0 L272.5,211.1 L273.0,211.2 L273.5,211.3 L274.0,211.4 L274.5,211.4 L275.0,211.5 L275.5,211.6 L276.0,211.7 L276.5,211.7 L277.0,211.8 L277.5,211.8 L278.0,211.9 L278.5,211.9 L279.0,212.0 L279.5,212.0 L280.0,212.1 L280.5,212.2 L281.0,212.2 L281.5,212.3 L282.0,212.3 L282.5,212.4 L283.0,212.4 L283.5,212.5 L284.0,212.5 L284.5,212.6 L285.0,212.6 L285.5,212.7 L286.0,212.7 L286.5,212.8 L287.0,212.8 L287.5,212.9 L288.0,212.9 L288.5,212.9 L289.0,213.0 L289.5,213.0 L290.0,213.1 L290.5,213.1 L291.0,213.1 L291.5,213.2 L292.0,213.2 L292.5,213.2 L293.0,213.3 L293.5,213.3 L294.0,213.3 L294.5,213.4 L295.0,213.4 L295.5,213.4 L296.0,213.4 L296.5,213.5 L297.0,213.5 L297.5,213.5 L298.0,213.5 L298.5,213.5 L299.0,213.6 L299.5,213.6 L300.0,213.6 L300.5,213.6 L301.0,213.6 L301.5,213.7 L302.0,213.7 L302.5,213.7 L303.0,213.7 L303.5,213.8 L304.0,213.8 L304.5,213.8 L305.0,213.8 L305.5,213.8 L306.0,213.9 L306.5,213.9 L307.0,213.9 L307.5,213.9 L308.0,214.0 L308.5,214.0 L309.0,214.0 L309.5,214.0 L310.0,214.0 L310.5,214.1 L311.0,214.1 L311.5,214.1 L312.0,214.1 L312.5,214.1 L313.0,214.2 L313.5,214.2 L314.0,214.2 L314.5,214.2 L315.0,214.3 L315.5,214.3 L316.0,214.3 L316.5,214.3 L317.0,214.3 L317.5,214.4 L318.0,214.4 L318.5,214.4 L319.0,214.4 L319.5,214.4 L320.0,214.5 L320.5,214.5 L321.0,214.5 L321.5,214.5 L322.0,214.5 L322.5,214.6 L323.0,214.6 L323.5,214.6 L324.0,214.6" fill="none" stroke="#0b7f7f" stroke-width="2.9" stroke-linejoin="round" stroke-linecap="round" />
<path d="M53.0,183.6 L53.5,183.6 L54.0,183.6 L54.5,183.6 L55.0,183.6 L55.5,183.7 L56.0,183.7 L56.5,183.7 L57.0,183.7 L57.5,183.7 L58.0,183.7 L58.5,183.8 L59.0,183.8 L59.5,183.8 L60.0,183.8 L60.5,183.8 L61.0,183.8 L61.5,183.9 L62.0,183.9 L62.5,183.9 L63.0,183.9 L63.5,183.9 L64.0,184.0 L64.5,184.0 L65.0,184.0 L65.5,184.0 L66.0,184.0 L66.5,184.0 L67.0,184.1 L67.5,184.1 L68.0,184.1 L68.5,184.1 L69.0,184.1 L69.5,184.1 L70.0,184.2 L70.5,184.2 L71.0,184.2 L71.5,184.2 L72.0,184.2 L72.5,184.3 L73.0,184.3 L73.5,184.3 L74.0,184.3 L74.5,184.3 L75.0,184.3 L75.5,184.4 L76.0,184.4 L76.5,184.4 L77.0,184.4 L77.5,184.4 L78.0,184.5 L78.5,184.5 L79.0,184.5 L79.5,184.5 L80.0,184.5 L80.5,184.5 L81.0,184.6 L81.5,184.6 L82.0,184.6 L82.5,184.6 L83.0,184.6 L83.5,184.7 L84.0,184.7 L84.5,184.7 L85.0,184.7 L85.5,184.7 L86.0,184.8 L86.5,184.8 L87.0,184.8 L87.5,184.8 L88.0,184.9 L88.5,184.9 L89.0,184.9 L89.5,184.9 L90.0,184.9 L90.5,185.0 L91.0,185.0 L91.5,185.0 L92.0,185.0 L92.5,185.0 L93.0,185.1 L93.5,185.1 L94.0,185.1 L94.5,185.1 L95.0,185.1 L95.5,185.2 L96.0,185.2 L96.5,185.2 L97.0,185.2 L97.5,185.3 L98.0,185.3 L98.5,185.4 L99.0,185.4 L99.5,185.4 L100.0,185.5 L100.5,185.5 L101.0,185.6 L101.5,185.7 L102.0,185.7 L102.5,185.8 L103.0,185.9 L103.5,186.0 L104.0,186.0 L104.5,186.1 L105.0,186.2 L105.5,186.3 L106.0,186.4 L106.5,186.5 L107.0,186.6 L107.5,186.6 L108.0,186.7 L108.5,186.8 L109.0,186.9 L109.5,187.0 L110.0,187.1 L110.5,187.2 L111.0,187.3 L111.5,187.4 L112.0,187.5 L112.5,187.7 L113.0,187.8 L113.5,187.9 L114.0,188.0 L114.5,188.2 L115.0,188.3 L115.5,188.4 L116.0,188.6 L116.5,188.7 L117.0,188.8 L117.5,189.0 L118.0,189.1 L118.5,189.2 L119.0,189.4 L119.5,189.5 L120.0,189.6 L120.5,189.8 L121.0,189.9 L121.5,190.1 L122.0,190.2 L122.5,190.3 L123.0,190.5 L123.5,190.6 L124.0,190.7 L124.5,190.9 L125.0,191.0 L125.5,191.1 L126.0,191.3 L126.5,191.4 L127.0,191.5 L127.5,191.7 L128.0,191.8 L128.5,191.9 L129.0,192.1 L129.5,192.2 L130.0,192.3 L130.5,192.5 L131.0,192.6 L131.5,192.7 L132.0,192.8 L132.5,193.0 L133.0,193.1 L133.5,193.2 L134.0,193.3 L134.5,193.4 L135.0,193.5 L135.5,193.6 L136.0,193.7 L136.5,193.7 L137.0,193.8 L137.5,193.9 L138.0,193.9 L138.5,194.0 L139.0,194.1 L139.5,194.1 L140.0,194.2 L140.5,194.2 L141.0,194.3 L141.5,194.3 L142.0,194.4 L142.5,194.4 L143.0,194.5 L143.5,194.5 L144.0,194.6 L144.5,194.6 L145.0,194.7 L145.5,194.7 L146.0,194.8 L146.5,194.8 L147.0,194.9 L147.5,194.9 L148.0,195.0 L148.5,195.0 L149.0,195.1 L149.5,195.1 L150.0,195.1 L150.5,195.2 L151.0,195.2 L151.5,195.3 L152.0,195.3 L152.5,195.3 L153.0,195.4 L153.5,195.4 L154.0,195.4 L154.5,195.5 L155.0,195.5 L155.5,195.5 L156.0,195.5 L156.5,195.5 L157.0,195.5 L157.5,195.6 L158.0,195.6 L158.5,195.6 L159.0,195.6 L159.5,195.6 L160.0,195.6 L160.5,195.6 L161.0,195.7 L161.5,195.7 L162.0,195.7 L162.5,195.7 L163.0,195.7 L163.5,195.7 L164.0,195.7 L164.5,195.7 L165.0,195.8 L165.5,195.8 L166.0,195.8 L166.5,195.8 L167.0,195.8 L167.5,195.8 L168.0,195.8 L168.5,195.8 L169.0,195.8 L169.5,195.9 L170.0,195.9 L170.5,195.9 L171.0,195.9 L171.5,195.9 L172.0,195.9 L172.5,195.9 L173.0,195.9 L173.5,196.0 L174.0,196.0 L174.5,196.0 L175.0,196.0 L175.5,196.0 L176.0,196.0 L176.5,196.0 L177.0,196.0 L177.5,196.0 L178.0,196.1 L178.5,196.1 L179.0,196.1 L179.5,196.1 L180.0,196.1 L180.5,196.1 L181.0,196.1 L181.5,196.1 L182.0,196.1 L182.5,196.2 L183.0,196.2 L183.5,196.2 L184.0,196.2 L184.5,196.2 L185.0,196.2 L185.5,196.2 L186.0,196.2 L186.5,196.2 L187.0,196.2 L187.5,196.3 L188.0,196.3 L188.5,196.3 L189.0,196.3 L189.5,196.3 L190.0,196.3 L190.5,196.3 L191.0,196.3 L191.5,196.3 L192.0,196.3 L192.5,196.4 L193.0,196.4 L193.5,196.4 L194.0,196.4 L194.5,196.4 L195.0,196.4 L195.5,196.4 L196.0,196.4 L196.5,196.4 L197.0,196.4 L197.5,196.5 L198.0,196.5 L198.5,196.5 L199.0,196.5 L199.5,196.5 L200.0,196.5 L200.5,196.5 L201.0,196.6 L201.5,196.6 L202.0,196.6 L202.5,196.6 L203.0,196.6 L203.5,196.7 L204.0,196.7 L204.5,196.7 L205.0,196.7 L205.5,196.8 L206.0,196.8 L206.5,196.8 L207.0,196.8 L207.5,196.9 L208.0,196.9 L208.5,196.9 L209.0,196.9 L209.5,196.9 L210.0,197.0 L210.5,197.0 L211.0,197.0 L211.5,197.0 L212.0,197.1 L212.5,197.1 L213.0,197.1 L213.5,197.1 L214.0,197.1 L214.5,197.2 L215.0,197.2 L215.5,197.2 L216.0,197.2 L216.5,197.2 L217.0,197.2 L217.5,197.3 L218.0,197.3 L218.5,197.3 L219.0,197.3 L219.5,197.3 L220.0,197.4 L220.5,197.4 L221.0,197.4 L221.5,197.4 L222.0,197.4 L222.5,197.5 L223.0,197.5 L223.5,197.5 L224.0,197.5 L224.5,197.6 L225.0,197.6 L225.5,197.7 L226.0,197.7 L226.5,197.8 L227.0,197.8 L227.5,197.9 L228.0,198.0 L228.5,198.0 L229.0,198.1 L229.5,198.1 L230.0,198.2 L230.5,198.3 L231.0,198.3 L231.5,198.4 L232.0,198.5 L232.5,198.5 L233.0,198.6 L233.5,198.7 L234.0,198.7 L234.5,198.8 L235.0,198.8 L235.5,198.9 L236.0,199.0 L236.5,199.0 L237.0,199.1 L237.5,199.1 L238.0,199.2 L238.5,199.3 L239.0,199.3 L239.5,199.4 L240.0,199.4 L240.5,199.5 L241.0,199.5 L241.5,199.6 L242.0,199.6 L242.5,199.6 L243.0,199.7 L243.5,199.7 L244.0,199.7 L244.5,199.7 L245.0,199.7 L245.5,199.7 L246.0,199.7 L246.5,199.6 L247.0,199.6 L247.5,199.5 L248.0,199.5 L248.5,199.4 L249.0,199.2 L249.5,199.1 L250.0,198.9 L250.5,198.6 L251.0,198.3 L251.5,197.9 L252.0,197.4 L252.5,196.8 L253.0,196.1 L253.5,195.1 L254.0,194.0 L254.5,192.6 L255.0,190.9 L255.5,188.9 L256.0,186.4 L256.5,183.6 L257.0,180.2 L257.5,176.3 L258.0,171.8 L258.5,166.7 L259.0,160.9 L259.5,154.5 L260.0,147.4 L260.5,139.8 L261.0,131.6 L261.5,122.9 L262.0,113.8 L262.5,104.5 L263.0,95.2 L263.5,85.9 L264.0,77.1 L264.5,68.9 L265.0,61.7 L265.5,55.7 L266.0,51.2 L266.5,48.4 L267.0,47.6 L267.5,48.7 L268.0,51.7 L268.5,56.5 L269.0,62.7 L269.5,70.2 L270.0,78.6 L270.5,87.7 L271.0,97.2 L271.5,106.8 L272.0,116.3 L272.5,125.6 L273.0,134.5 L273.5,142.9 L274.0,150.8 L274.5,158.1 L275.0,164.7 L275.5,170.7 L276.0,176.0 L276.5,180.7 L277.0,184.8 L277.5,188.4 L278.0,191.4 L278.5,194.1 L279.0,196.3 L279.5,198.2 L280.0,199.9 L280.5,201.2 L281.0,202.4 L281.5,203.3 L282.0,204.2 L282.5,204.9 L283.0,205.5 L283.5,206.0 L284.0,206.5 L284.5,206.9 L285.0,207.3 L285.5,207.7 L286.0,208.0 L286.5,208.3 L287.0,208.5 L287.5,208.8 L288.0,209.0 L288.5,209.2 L289.0,209.4 L289.5,209.6 L290.0,209.8 L290.5,210.0 L291.0,210.1 L291.5,210.3 L292.0,210.4 L292.5,210.6 L293.0,210.7 L293.5,210.8 L294.0,210.9 L294.5,211.1 L295.0,211.2 L295.5,211.3 L296.0,211.4 L296.5,211.5 L297.0,211.5 L297.5,211.6 L298.0,211.7 L298.5,211.8 L299.0,211.9 L299.5,211.9 L300.0,212.0 L300.5,212.1 L301.0,212.1 L301.5,212.2 L302.0,212.3 L302.5,212.3 L303.0,212.4 L303.5,212.5 L304.0,212.5 L304.5,212.6 L305.0,212.6 L305.5,212.7 L306.0,212.7 L306.5,212.8 L307.0,212.8 L307.5,212.9 L308.0,212.9 L308.5,213.0 L309.0,213.0 L309.5,213.1 L310.0,213.1 L310.5,213.2 L311.0,213.2 L311.5,213.2 L312.0,213.3 L312.5,213.3 L313.0,213.4 L313.5,213.4 L314.0,213.4 L314.5,213.5 L315.0,213.5 L315.5,213.6 L316.0,213.6 L316.5,213.6 L317.0,213.7 L317.5,213.7 L318.0,213.7 L318.5,213.8 L319.0,213.8 L319.5,213.8 L320.0,213.9 L320.5,213.9 L321.0,213.9 L321.5,214.0 L322.0,214.0 L322.5,214.0 L323.0,214.0 L323.5,214.1 L324.0,214.1" fill="none" stroke="#0b7f7f" stroke-width="2.9" stroke-linejoin="round" stroke-linecap="round" />
<path d="M53.0,183.4 L53.5,183.5 L54.0,183.5 L54.5,183.5 L55.0,183.5 L55.5,183.5 L56.0,183.5 L56.5,183.5 L57.0,183.5 L57.5,183.5 L58.0,183.6 L58.5,183.6 L59.0,183.6 L59.5,183.6 L60.0,183.6 L60.5,183.6 L61.0,183.6 L61.5,183.6 L62.0,183.7 L62.5,183.7 L63.0,183.7 L63.5,183.7 L64.0,183.7 L64.5,183.7 L65.0,183.7 L65.5,183.7 L66.0,183.8 L66.5,183.8 L67.0,183.8 L67.5,183.8 L68.0,183.8 L68.5,183.8 L69.0,183.8 L69.5,183.8 L70.0,183.8 L70.5,183.8 L71.0,183.8 L71.5,183.8 L72.0,183.8 L72.5,183.8 L73.0,183.8 L73.5,183.8 L74.0,183.8 L74.5,183.8 L75.0,183.8 L75.5,183.8 L76.0,183.7 L76.5,183.7 L77.0,183.7 L77.5,183.6 L78.0,183.6 L78.5,183.5 L79.0,183.4 L79.5,183.4 L80.0,183.3 L80.5,183.1 L81.0,183.0 L81.5,182.9 L82.0,182.7 L82.5,182.5 L83.0,182.3 L83.5,182.0 L84.0,181.8 L84.5,181.5 L85.0,181.1 L85.5,180.7 L86.0,180.3 L86.5,179.8 L87.0,179.3 L87.5,178.7 L88.0,178.1 L88.5,177.4 L89.0,176.6 L89.5,175.8 L90.0,174.8 L90.5,173.9 L91.0,172.8 L91.5,171.6 L92.0,170.4 L92.5,169.1 L93.0,167.7 L93.5,166.1 L94.0,164.5 L94.5,162.8 L95.0,161.0 L95.5,159.2 L96.0,157.2 L96.5,155.1 L97.0,152.9 L97.5,150.7 L98.0,148.4 L98.5,146.0 L99.0,143.6 L99.5,141.0 L100.0,138.5 L100.5,135.9 L101.0,133.2 L101.5,130.6 L102.0,127.9 L102.5,125.3 L103.0,122.6 L103.5,120.0 L104.0,117.4 L104.5,114.9 L105.0,112.5 L105.5,110.1 L106.0,107.8 L106.5,105.7 L107.0,103.6 L107.5,101.7 L108.0,100.0 L108.5,98.4 L109.0,97.0 L109.5,95.8 L110.0,94.8 L110.5,94.0 L111.0,93.5 L111.5,93.1 L112.0,93.0 L112.5,93.1 L113.0,93.4 L113.5,93.9 L114.0,94.7 L114.5,95.7 L115.0,96.9 L115.5,98.3 L116.0,99.8 L116.5,101.6 L117.0,103.5 L117.5,105.6 L118.0,107.9 L118.5,110.2 L119.0,112.7 L119.5,115.3 L120.0,117.9 L120.5,120.7 L121.0,123.4 L121.5,126.3 L122.0,129.1 L122.5,132.0 L123.0,134.9 L123.5,137.7 L124.0,140.6 L124.5,143.4 L125.0,146.1 L125.5,148.8 L126.0,151.5 L126.5,154.0 L127.0,156.5 L127.5,159.0 L128.0,161.3 L128.5,163.6 L129.0,165.7 L129.5,167.8 L130.0,169.7 L130.5,171.6 L131.0,173.4 L131.5,175.1 L132.0,176.6 L132.5,178.1 L133.0,179.5 L133.5,180.8 L134.0,182.0 L134.5,183.2 L135.0,184.2 L135.5,185.2 L136.0,186.1 L136.5,186.9 L137.0,187.6 L137.5,188.3 L138.0,188.9 L138.5,189.5 L139.0,190.0 L139.5,190.5 L140.0,190.9 L140.5,191.3 L141.0,191.7 L141.5,192.0 L142.0,192.3 L142.5,192.5 L143.0,192.8 L143.5,193.0 L144.0,193.2 L144.5,193.4 L145.0,193.6 L145.5,193.7 L146.0,193.9 L146.5,194.0 L147.0,194.1 L147.5,194.2 L148.0,194.3 L148.5,194.4 L149.0,194.5 L149.5,194.6 L150.0,194.7 L150.5,194.8 L151.0,194.8 L151.5,194.9 L152.0,195.0 L152.5,195.0 L153.0,195.1 L153.5,195.1 L154.0,195.2 L154.5,195.2 L155.0,195.2 L155.5,195.3 L156.0,195.3 L156.5,195.3 L157.0,195.4 L157.5,195.4 L158.0,195.4 L158.5,195.4 L159.0,195.5 L159.5,195.5 L160.0,195.5 L160.5,195.5 L161.0,195.5 L161.5,195.6 L162.0,195.6 L162.5,195.6 L163.0,195.6 L163.5,195.6 L164.0,195.7 L164.5,195.7 L165.0,195.7 L165.5,195.7 L166.0,195.7 L166.5,195.7 L167.0,195.8 L167.5,195.8 L168.0,195.8 L168.5,195.8 L169.0,195.8 L169.5,195.8 L170.0,195.9 L170.5,195.9 L171.0,195.9 L171.5,195.9 L172.0,195.9 L172.5,196.0 L173.0,196.0 L173.5,196.0 L174.0,196.0 L174.5,196.0 L175.0,196.0 L175.5,196.1 L176.0,196.1 L176.5,196.1 L177.0,196.1 L177.5,196.1 L178.0,196.1 L178.5,196.1 L179.0,196.2 L179.5,196.2 L180.0,196.2 L180.5,196.2 L181.0,196.2 L181.5,196.2 L182.0,196.3 L182.5,196.3 L183.0,196.3 L183.5,196.3 L184.0,196.3 L184.5,196.3 L185.0,196.4 L185.5,196.4 L186.0,196.4 L186.5,196.4 L187.0,196.4 L187.5,196.4 L188.0,196.4 L188.5,196.5 L189.0,196.5 L189.5,196.5 L190.0,196.5 L190.5,196.5 L191.0,196.5 L191.5,196.6 L192.0,196.6 L192.5,196.6 L193.0,196.6 L193.5,196.6 L194.0,196.6 L194.5,196.6 L195.0,196.7 L195.5,196.7 L196.0,196.7 L196.5,196.7 L197.0,196.7 L197.5,196.7 L198.0,196.8 L198.5,196.8 L199.0,196.8 L199.5,196.8 L200.0,196.9 L200.5,196.9 L201.0,196.9 L201.5,196.9 L202.0,197.0 L202.5,197.0 L203.0,197.0 L203.5,197.0 L204.0,197.1 L204.5,197.1 L205.0,197.1 L205.5,197.2 L206.0,197.2 L206.5,197.2 L207.0,197.3 L207.5,197.3 L208.0,197.3 L208.5,197.4 L209.0,197.4 L209.5,197.4 L210.0,197.5 L210.5,197.5 L211.0,197.5 L211.5,197.6 L212.0,197.6 L212.5,197.6 L213.0,197.7 L213.5,197.7 L214.0,197.7 L214.5,197.8 L215.0,197.8 L215.5,197.8 L216.0,197.9 L216.5,197.9 L217.0,197.9 L217.5,198.0 L218.0,198.0 L218.5,198.0 L219.0,198.1 L219.5,198.1 L220.0,198.1 L220.5,198.2 L221.0,198.2 L221.5,198.2 L222.0,198.3 L222.5,198.3 L223.0,198.4 L223.5,198.4 L224.0,198.5 L224.5,198.6 L225.0,198.6 L225.5,198.7 L226.0,198.8 L226.5,198.8 L227.0,198.9 L227.5,199.0 L228.0,199.1 L228.5,199.2 L229.0,199.3 L229.5,199.4 L230.0,199.5 L230.5,199.6 L231.0,199.7 L231.5,199.8 L232.0,199.9 L232.5,200.0 L233.0,200.1 L233.5,200.2 L234.0,200.3 L234.5,200.5 L235.0,200.6 L235.5,200.7 L236.0,200.8 L236.5,200.9 L237.0,201.1 L237.5,201.2 L238.0,201.3 L238.5,201.4 L239.0,201.6 L239.5,201.7 L240.0,201.9 L240.5,202.0 L241.0,202.1 L241.5,202.3 L242.0,202.4 L242.5,202.6 L243.0,202.7 L243.5,202.9 L244.0,203.0 L244.5,203.2 L245.0,203.3 L245.5,203.5 L246.0,203.6 L246.5,203.8 L247.0,203.9 L247.5,204.1 L248.0,204.2 L248.5,204.4 L249.0,204.6 L249.5,204.7 L250.0,204.9 L250.5,205.1 L251.0,205.3 L251.5,205.4 L252.0,205.6 L252.5,205.8 L253.0,206.0 L253.5,206.1 L254.0,206.3 L254.5,206.5 L255.0,206.6 L255.5,206.8 L256.0,206.9 L256.5,207.1 L257.0,207.2 L257.5,207.4 L258.0,207.5 L258.5,207.7 L259.0,207.8 L259.5,207.9 L260.0,208.1 L260.5,208.2 L261.0,208.3 L261.5,208.5 L262.0,208.6 L262.5,208.7 L263.0,208.9 L263.5,209.0 L264.0,209.1 L264.5,209.2 L265.0,209.4 L265.5,209.5 L266.0,209.6 L266.5,209.8 L267.0,209.9 L267.5,210.0 L268.0,210.2 L268.5,210.3 L269.0,210.4 L269.5,210.5 L270.0,210.6 L270.5,210.8 L271.0,210.9 L271.5,211.0 L272.0,211.1 L272.5,211.2 L273.0,211.3 L273.5,211.4 L274.0,211.5 L274.5,211.5 L275.0,211.6 L275.5,211.7 L276.0,211.7 L276.5,211.8 L277.0,211.9 L277.5,211.9 L278.0,212.0 L278.5,212.0 L279.0,212.1 L279.5,212.1 L280.0,212.2 L280.5,212.2 L281.0,212.3 L281.5,212.3 L282.0,212.4 L282.5,212.4 L283.0,212.5 L283.5,212.5 L284.0,212.6 L284.5,212.6 L285.0,212.7 L285.5,212.7 L286.0,212.8 L286.5,212.8 L287.0,212.9 L287.5,212.9 L288.0,213.0 L288.5,213.0 L289.0,213.1 L289.5,213.1 L290.0,213.1 L290.5,213.2 L291.0,213.2 L291.5,213.2 L292.0,213.3 L292.5,213.3 L293.0,213.3 L293.5,213.4 L294.0,213.4 L294.5,213.4 L295.0,213.4 L295.5,213.5 L296.0,213.5 L296.5,213.5 L297.0,213.5 L297.5,213.6 L298.0,213.6 L298.5,213.6 L299.0,213.6 L299.5,213.6 L300.0,213.7 L300.5,213.7 L301.0,213.7 L301.5,213.7 L302.0,213.7 L302.5,213.8 L303.0,213.8 L303.5,213.8 L304.0,213.8 L304.5,213.9 L305.0,213.9 L305.5,213.9 L306.0,213.9 L306.5,213.9 L307.0,214.0 L307.5,214.0 L308.0,214.0 L308.5,214.0 L309.0,214.0 L309.5,214.1 L310.0,214.1 L310.5,214.1 L311.0,214.1 L311.5,214.2 L312.0,214.2 L312.5,214.2 L313.0,214.2 L313.5,214.2 L314.0,214.3 L314.5,214.3 L315.0,214.3 L315.5,214.3 L316.0,214.3 L316.5,214.4 L317.0,214.4 L317.5,214.4 L318.0,214.4 L318.5,214.4 L319.0,214.5 L319.5,214.5 L320.0,214.5 L320.5,214.5 L321.0,214.5 L321.5,214.6 L322.0,214.6 L322.5,214.6 L323.0,214.6 L323.5,214.6 L324.0,214.6" fill="none" stroke="#ff00ff" stroke-width="2.9" stroke-linejoin="round" stroke-linecap="round" />
<path d="M53.0,183.6 L53.5,183.6 L54.0,183.6 L54.5,183.6 L55.0,183.6 L55.5,183.7 L56.0,183.7 L56.5,183.7 L57.0,183.7 L57.5,183.7 L58.0,183.7 L58.5,183.8 L59.0,183.8 L59.5,183.8 L60.0,183.8 L60.5,183.8 L61.0,183.8 L61.5,183.9 L62.0,183.9 L62.5,183.9 L63.0,183.9 L63.5,183.9 L64.0,184.0 L64.5,184.0 L65.0,184.0 L65.5,184.0 L66.0,184.0 L66.5,184.0 L67.0,184.1 L67.5,184.1 L68.0,184.1 L68.5,184.1 L69.0,184.1 L69.5,184.1 L70.0,184.2 L70.5,184.2 L71.0,184.2 L71.5,184.2 L72.0,184.2 L72.5,184.3 L73.0,184.3 L73.5,184.3 L74.0,184.3 L74.5,184.3 L75.0,184.3 L75.5,184.4 L76.0,184.4 L76.5,184.4 L77.0,184.4 L77.5,184.4 L78.0,184.5 L78.5,184.5 L79.0,184.5 L79.5,184.5 L80.0,184.5 L80.5,184.6 L81.0,184.6 L81.5,184.6 L82.0,184.6 L82.5,184.6 L83.0,184.7 L83.5,184.7 L84.0,184.7 L84.5,184.7 L85.0,184.7 L85.5,184.8 L86.0,184.8 L86.5,184.8 L87.0,184.8 L87.5,184.8 L88.0,184.9 L88.5,184.9 L89.0,184.9 L89.5,184.9 L90.0,184.9 L90.5,185.0 L91.0,185.0 L91.5,185.0 L92.0,185.0 L92.5,185.0 L93.0,185.1 L93.5,185.1 L94.0,185.1 L94.5,185.1 L95.0,185.1 L95.5,185.2 L96.0,185.2 L96.5,185.2 L97.0,185.2 L97.5,185.3 L98.0,185.3 L98.5,185.4 L99.0,185.4 L99.5,185.4 L100.0,185.5 L100.5,185.5 L101.0,185.6 L101.5,185.7 L102.0,185.7 L102.5,185.8 L103.0,185.9 L103.5,186.0 L104.0,186.0 L104.5,186.1 L105.0,186.2 L105.5,186.3 L106.0,186.4 L106.5,186.5 L107.0,186.6 L107.5,186.6 L108.0,186.7 L108.5,186.8 L109.0,186.9 L109.5,187.0 L110.0,187.1 L110.5,187.2 L111.0,187.3 L111.5,187.4 L112.0,187.5 L112.5,187.7 L113.0,187.8 L113.5,187.9 L114.0,188.0 L114.5,188.2 L115.0,188.3 L115.5,188.4 L116.0,188.5 L116.5,188.7 L117.0,188.8 L117.5,189.0 L118.0,189.1 L118.5,189.2 L119.0,189.4 L119.5,189.5 L120.0,189.6 L120.5,189.8 L121.0,189.9 L121.5,190.1 L122.0,190.2 L122.5,190.3 L123.0,190.5 L123.5,190.6 L124.0,190.7 L124.5,190.9 L125.0,191.0 L125.5,191.1 L126.0,191.3 L126.5,191.4 L127.0,191.5 L127.5,191.7 L128.0,191.8 L128.5,191.9 L129.0,192.1 L129.5,192.2 L130.0,192.3 L130.5,192.5 L131.0,192.6 L131.5,192.7 L132.0,192.8 L132.5,193.0 L133.0,193.1 L133.5,193.2 L134.0,193.3 L134.5,193.4 L135.0,193.5 L135.5,193.6 L136.0,193.6 L136.5,193.7 L137.0,193.8 L137.5,193.9 L138.0,193.9 L138.5,194.0 L139.0,194.0 L139.5,194.1 L140.0,194.2 L140.5,194.2 L141.0,194.3 L141.5,194.3 L142.0,194.4 L142.5,194.4 L143.0,194.5 L143.5,194.5 L144.0,194.6 L144.5,194.6 L145.0,194.7 L145.5,194.7 L146.0,194.7 L146.5,194.8 L147.0,194.8 L147.5,194.9 L148.0,194.9 L148.5,195.0 L149.0,195.0 L149.5,195.1 L150.0,195.1 L150.5,195.2 L151.0,195.2 L151.5,195.2 L152.0,195.3 L152.5,195.3 L153.0,195.3 L153.5,195.4 L154.0,195.4 L154.5,195.4 L155.0,195.4 L155.5,195.5 L156.0,195.5 L156.5,195.5 L157.0,195.5 L157.5,195.5 L158.0,195.5 L158.5,195.6 L159.0,195.6 L159.5,195.6 L160.0,195.6 L160.5,195.6 L161.0,195.6 L161.5,195.6 L162.0,195.6 L162.5,195.6 L163.0,195.7 L163.5,195.7 L164.0,195.7 L164.5,195.7 L165.0,195.7 L165.5,195.7 L166.0,195.7 L166.5,195.7 L167.0,195.7 L167.5,195.8 L168.0,195.8 L168.5,195.8 L169.0,195.8 L169.5,195.8 L170.0,195.8 L170.5,195.8 L171.0,195.8 L171.5,195.8 L172.0,195.8 L172.5,195.9 L173.0,195.9 L173.5,195.9 L174.0,195.9 L174.5,195.9 L175.0,195.9 L175.5,195.9 L176.0,195.9 L176.5,195.9 L177.0,195.9 L177.5,195.9 L178.0,196.0 L178.5,196.0 L179.0,196.0 L179.5,196.0 L180.0,196.0 L180.5,196.0 L181.0,196.0 L181.5,196.0 L182.0,196.0 L182.5,196.0 L183.0,196.0 L183.5,196.0 L184.0,196.0 L184.5,196.1 L185.0,196.1 L185.5,196.1 L186.0,196.1 L186.5,196.1 L187.0,196.1 L187.5,196.1 L188.0,196.1 L188.5,196.1 L189.0,196.1 L189.5,196.1 L190.0,196.1 L190.5,196.1 L191.0,196.1 L191.5,196.1 L192.0,196.1 L192.5,196.1 L193.0,196.1 L193.5,196.1 L194.0,196.1 L194.5,196.1 L195.0,196.1 L195.5,196.1 L196.0,196.0 L196.5,196.0 L197.0,196.0 L197.5,196.0 L198.0,196.0 L198.5,195.9 L199.0,195.9 L199.5,195.8 L200.0,195.8 L200.5,195.7 L201.0,195.7 L201.5,195.6 L202.0,195.5 L202.5,195.4 L203.0,195.3 L203.5,195.2 L204.0,195.1 L204.5,194.9 L205.0,194.7 L205.5,194.5 L206.0,194.3 L206.5,194.1 L207.0,193.8 L207.5,193.5 L208.0,193.1 L208.5,192.7 L209.0,192.3 L209.5,191.8 L210.0,191.3 L210.5,190.7 L211.0,190.1 L211.5,189.4 L212.0,188.6 L212.5,187.8 L213.0,186.9 L213.5,185.9 L214.0,184.8 L214.5,183.7 L215.0,182.4 L215.5,181.1 L216.0,179.7 L216.5,178.2 L217.0,176.5 L217.5,174.8 L218.0,173.0 L218.5,171.0 L219.0,169.0 L219.5,166.8 L220.0,164.5 L220.5,162.1 L221.0,159.6 L221.5,157.0 L222.0,154.2 L222.5,151.4 L223.0,148.5 L223.5,145.4 L224.0,142.3 L224.5,139.1 L225.0,135.8 L225.5,132.4 L226.0,129.0 L226.5,125.5 L227.0,122.0 L227.5,118.4 L228.0,114.9 L228.5,111.3 L229.0,107.7 L229.5,104.1 L230.0,100.6 L230.5,97.1 L231.0,93.7 L231.5,90.3 L232.0,87.0 L232.5,83.9 L233.0,80.8 L233.5,77.9 L234.0,75.2 L234.5,72.6 L235.0,70.2 L235.5,68.0 L236.0,66.0 L236.5,64.2 L237.0,62.6 L237.5,61.3 L238.0,60.3 L238.5,59.5 L239.0,59.0 L239.5,58.7 L240.0,58.7 L240.5,59.0 L241.0,59.5 L241.5,60.3 L242.0,61.4 L242.5,62.7 L243.0,64.3 L243.5,66.1 L244.0,68.2 L244.5,70.4 L245.0,72.9 L245.5,75.6 L246.0,78.4 L246.5,81.4 L247.0,84.6 L247.5,87.9 L248.0,91.3 L248.5,94.9 L249.0,98.5 L249.5,102.2 L250.0,106.0 L250.5,109.8 L251.0,113.6 L251.5,117.5 L252.0,121.3 L252.5,125.2 L253.0,129.0 L253.5,132.8 L254.0,136.5 L254.5,140.2 L255.0,143.8 L255.5,147.3 L256.0,150.7 L256.5,154.0 L257.0,157.3 L257.5,160.4 L258.0,163.4 L258.5,166.4 L259.0,169.2 L259.5,171.8 L260.0,174.4 L260.5,176.9 L261.0,179.2 L261.5,181.4 L262.0,183.5 L262.5,185.5 L263.0,187.4 L263.5,189.2 L264.0,190.9 L264.5,192.5 L265.0,194.0 L265.5,195.4 L266.0,196.7 L266.5,197.9 L267.0,199.1 L267.5,200.1 L268.0,201.1 L268.5,202.0 L269.0,202.9 L269.5,203.7 L270.0,204.4 L270.5,205.1 L271.0,205.7 L271.5,206.3 L272.0,206.8 L272.5,207.3 L273.0,207.7 L273.5,208.1 L274.0,208.5 L274.5,208.8 L275.0,209.1 L275.5,209.4 L276.0,209.7 L276.5,209.9 L277.0,210.1 L277.5,210.3 L278.0,210.5 L278.5,210.6 L279.0,210.8 L279.5,210.9 L280.0,211.1 L280.5,211.2 L281.0,211.3 L281.5,211.4 L282.0,211.5 L282.5,211.6 L283.0,211.7 L283.5,211.8 L284.0,211.8 L284.5,211.9 L285.0,212.0 L285.5,212.1 L286.0,212.2 L286.5,212.2 L287.0,212.3 L287.5,212.4 L288.0,212.4 L288.5,212.5 L289.0,212.5 L289.5,212.6 L290.0,212.6 L290.5,212.7 L291.0,212.7 L291.5,212.8 L292.0,212.8 L292.5,212.9 L293.0,212.9 L293.5,212.9 L294.0,213.0 L294.5,213.0 L295.0,213.0 L295.5,213.1 L296.0,213.1 L296.5,213.1 L297.0,213.2 L297.5,213.2 L298.0,213.2 L298.5,213.2 L299.0,213.3 L299.5,213.3 L300.0,213.3 L300.5,213.4 L301.0,213.4 L301.5,213.4 L302.0,213.4 L302.5,213.5 L303.0,213.5 L303.5,213.5 L304.0,213.5 L304.5,213.6 L305.0,213.6 L305.5,213.6 L306.0,213.6 L306.5,213.7 L307.0,213.7 L307.5,213.7 L308.0,213.7 L308.5,213.8 L309.0,213.8 L309.5,213.8 L310.0,213.8 L310.5,213.9 L311.0,213.9 L311.5,213.9 L312.0,213.9 L312.5,214.0 L313.0,214.0 L313.5,214.0 L314.0,214.0 L314.5,214.1 L315.0,214.1 L315.5,214.1 L316.0,214.1 L316.5,214.2 L317.0,214.2 L317.5,214.2 L318.0,214.2 L318.5,214.3 L319.0,214.3 L319.5,214.3 L320.0,214.3 L320.5,214.3 L321.0,214.4 L321.5,214.4 L322.0,214.4 L322.5,214.4 L323.0,214.4 L323.5,214.4 L324.0,214.5" fill="none" stroke="#ff00ff" stroke-width="2.9" stroke-linejoin="round" stroke-linecap="round" />
<path d="M53.0,183.6 L53.5,183.6 L54.0,183.6 L54.5,183.6 L55.0,183.6 L55.5,183.6 L56.0,183.6 L56.5,183.7 L57.0,183.7 L57.5,183.7 L58.0,183.7 L58.5,183.7 L59.0,183.7 L59.5,183.8 L60.0,183.8 L60.5,183.8 L61.0,183.8 L61.5,183.8 L62.0,183.8 L62.5,183.8 L63.0,183.9 L63.5,183.9 L64.0,183.9 L64.5,183.9 L65.0,183.9 L65.5,183.9 L66.0,184.0 L66.5,184.0 L67.0,184.0 L67.5,184.0 L68.0,184.0 L68.5,184.0 L69.0,184.0 L69.5,184.0 L70.0,184.1 L70.5,184.1 L71.0,184.1 L71.5,184.1 L72.0,184.1 L72.5,184.1 L73.0,184.1 L73.5,184.1 L74.0,184.1 L74.5,184.1 L75.0,184.0 L75.5,184.0 L76.0,184.0 L76.5,184.0 L77.0,183.9 L77.5,183.9 L78.0,183.8 L78.5,183.8 L79.0,183.7 L79.5,183.6 L80.0,183.5 L80.5,183.4 L81.0,183.3 L81.5,183.2 L82.0,183.0 L82.5,182.9 L83.0,182.7 L83.5,182.5 L84.0,182.3 L84.5,182.0 L85.0,181.8 L85.5,181.5 L86.0,181.2 L86.5,180.9 L87.0,180.5 L87.5,180.2 L88.0,179.8 L88.5,179.4 L89.0,179.0 L89.5,178.5 L90.0,178.1 L90.5,177.7 L91.0,177.2 L91.5,176.7 L92.0,176.3 L92.5,175.8 L93.0,175.4 L93.5,174.9 L94.0,174.5 L94.5,174.1 L95.0,173.7 L95.5,173.3 L96.0,173.0 L96.5,172.7 L97.0,172.4 L97.5,172.2 L98.0,172.0 L98.5,171.9 L99.0,171.8 L99.5,171.8 L100.0,171.8 L100.5,171.9 L101.0,172.0 L101.5,172.2 L102.0,172.4 L102.5,172.7 L103.0,173.1 L103.5,173.4 L104.0,173.8 L104.5,174.3 L105.0,174.8 L105.5,175.3 L106.0,175.8 L106.5,176.3 L107.0,176.9 L107.5,177.5 L108.0,178.0 L108.5,178.6 L109.0,179.2 L109.5,179.7 L110.0,180.3 L110.5,180.9 L111.0,181.4 L111.5,182.0 L112.0,182.5 L112.5,183.0 L113.0,183.5 L113.5,184.0 L114.0,184.5 L114.5,184.9 L115.0,185.3 L115.5,185.8 L116.0,186.1 L116.5,186.5 L117.0,186.9 L117.5,187.2 L118.0,187.5 L118.5,187.9 L119.0,188.1 L119.5,188.4 L120.0,188.7 L120.5,188.9 L121.0,189.2 L121.5,189.4 L122.0,189.6 L122.5,189.8 L123.0,190.0 L123.5,190.2 L124.0,190.4 L124.5,190.6 L125.0,190.8 L125.5,190.9 L126.0,191.1 L126.5,191.2 L127.0,191.4 L127.5,191.6 L128.0,191.7 L128.5,191.9 L129.0,192.0 L129.5,192.1 L130.0,192.3 L130.5,192.4 L131.0,192.6 L131.5,192.7 L132.0,192.8 L132.5,192.9 L133.0,193.1 L133.5,193.2 L134.0,193.3 L134.5,193.4 L135.0,193.5 L135.5,193.6 L136.0,193.7 L136.5,193.8 L137.0,193.8 L137.5,193.9 L138.0,194.0 L138.5,194.0 L139.0,194.1 L139.5,194.2 L140.0,194.2 L140.5,194.3 L141.0,194.3 L141.5,194.4 L142.0,194.4 L142.5,194.5 L143.0,194.5 L143.5,194.6 L144.0,194.6 L144.5,194.7 L145.0,194.7 L145.5,194.8 L146.0,194.8 L146.5,194.9 L147.0,194.9 L147.5,195.0 L148.0,195.0 L148.5,195.1 L149.0,195.1 L149.5,195.2 L150.0,195.2 L150.5,195.3 L151.0,195.3 L151.5,195.4 L152.0,195.4 L152.5,195.4 L153.0,195.5 L153.5,195.5 L154.0,195.5 L154.5,195.6 L155.0,195.6 L155.5,195.6 L156.0,195.6 L156.5,195.6 L157.0,195.7 L157.5,195.7 L158.0,195.7 L158.5,195.7 L159.0,195.7 L159.5,195.7 L160.0,195.8 L160.5,195.8 L161.0,195.8 L161.5,195.8 L162.0,195.8 L162.5,195.8 L163.0,195.8 L163.5,195.9 L164.0,195.9 L164.5,195.9 L165.0,195.9 L165.5,195.9 L166.0,195.9 L166.5,195.9 L167.0,196.0 L167.5,196.0 L168.0,196.0 L168.5,196.0 L169.0,196.0 L169.5,196.0 L170.0,196.0 L170.5,196.1 L171.0,196.1 L171.5,196.1 L172.0,196.1 L172.5,196.1 L173.0,196.1 L173.5,196.1 L174.0,196.2 L174.5,196.2 L175.0,196.2 L175.5,196.2 L176.0,196.2 L176.5,196.2 L177.0,196.2 L177.5,196.3 L178.0,196.3 L178.5,196.3 L179.0,196.3 L179.5,196.3 L180.0,196.3 L180.5,196.3 L181.0,196.4 L181.5,196.4 L182.0,196.4 L182.5,196.4 L183.0,196.4 L183.5,196.4 L184.0,196.4 L184.5,196.5 L185.0,196.5 L185.5,196.5 L186.0,196.5 L186.5,196.5 L187.0,196.5 L187.5,196.5 L188.0,196.6 L188.5,196.6 L189.0,196.6 L189.5,196.6 L190.0,196.6 L190.5,196.6 L191.0,196.6 L191.5,196.6 L192.0,196.7 L192.5,196.7 L193.0,196.7 L193.5,196.7 L194.0,196.7 L194.5,196.7 L195.0,196.7 L195.5,196.8 L196.0,196.8 L196.5,196.8 L197.0,196.8 L197.5,196.8 L198.0,196.8 L198.5,196.9 L199.0,196.9 L199.5,196.9 L200.0,196.9 L200.5,197.0 L201.0,197.0 L201.5,197.0 L202.0,197.0 L202.5,197.1 L203.0,197.1 L203.5,197.1 L204.0,197.1 L204.5,197.2 L205.0,197.2 L205.5,197.2 L206.0,197.3 L206.5,197.3 L207.0,197.3 L207.5,197.4 L208.0,197.4 L208.5,197.4 L209.0,197.5 L209.5,197.5 L210.0,197.5 L210.5,197.6 L211.0,197.6 L211.5,197.6 L212.0,197.7 L212.5,197.7 L213.0,197.7 L213.5,197.8 L214.0,197.8 L214.5,197.8 L215.0,197.8 L215.5,197.9 L216.0,197.9 L216.5,197.9 L217.0,198.0 L217.5,198.0 L218.0,198.0 L218.5,198.1 L219.0,198.1 L219.5,198.1 L220.0,198.2 L220.5,198.2 L221.0,198.3 L221.5,198.3 L222.0,198.3 L222.5,198.4 L223.0,198.4 L223.5,198.5 L224.0,198.5 L224.5,198.6 L225.0,198.7 L225.5,198.7 L226.0,198.8 L226.5,198.9 L227.0,199.0 L227.5,199.1 L228.0,199.2 L228.5,199.2 L229.0,199.3 L229.5,199.4 L230.0,199.5 L230.5,199.6 L231.0,199.7 L231.5,199.9 L232.0,200.0 L232.5,200.1 L233.0,200.2 L233.5,200.3 L234.0,200.4 L234.5,200.5 L235.0,200.6 L235.5,200.7 L236.0,200.8 L236.5,201.0 L237.0,201.1 L237.5,201.2 L238.0,201.3 L238.5,201.5 L239.0,201.6 L239.5,201.8 L240.0,201.9 L240.5,202.0 L241.0,202.2 L241.5,202.3 L242.0,202.5 L242.5,202.6 L243.0,202.7 L243.5,202.9 L244.0,203.0 L244.5,203.2 L245.0,203.3 L245.5,203.5 L246.0,203.6 L246.5,203.8 L247.0,204.0 L247.5,204.1 L248.0,204.3 L248.5,204.4 L249.0,204.6 L249.5,204.8 L250.0,204.9 L250.5,205.1 L251.0,205.3 L251.5,205.5 L252.0,205.6 L252.5,205.8 L253.0,206.0 L253.5,206.2 L254.0,206.3 L254.5,206.5 L255.0,206.7 L255.5,206.8 L256.0,207.0 L256.5,207.1 L257.0,207.3 L257.5,207.4 L258.0,207.5 L258.5,207.7 L259.0,207.8 L259.5,208.0 L260.0,208.1 L260.5,208.2 L261.0,208.4 L261.5,208.5 L262.0,208.6 L262.5,208.8 L263.0,208.9 L263.5,209.0 L264.0,209.1 L264.5,209.3 L265.0,209.4 L265.5,209.5 L266.0,209.7 L266.5,209.8 L267.0,209.9 L267.5,210.1 L268.0,210.2 L268.5,210.3 L269.0,210.4 L269.5,210.6 L270.0,210.7 L270.5,210.8 L271.0,210.9 L271.5,211.0 L272.0,211.1 L272.5,211.2 L273.0,211.3 L273.5,211.4 L274.0,211.5 L274.5,211.6 L275.0,211.6 L275.5,211.7 L276.0,211.8 L276.5,211.8 L277.0,211.9 L277.5,211.9 L278.0,212.0 L278.5,212.0 L279.0,212.1 L279.5,212.1 L280.0,212.2 L280.5,212.2 L281.0,212.3 L281.5,212.3 L282.0,212.4 L282.5,212.4 L283.0,212.5 L283.5,212.5 L284.0,212.6 L284.5,212.6 L285.0,212.7 L285.5,212.7 L286.0,212.8 L286.5,212.8 L287.0,212.9 L287.5,212.9 L288.0,213.0 L288.5,213.0 L289.0,213.1 L289.5,213.1 L290.0,213.2 L290.5,213.2 L291.0,213.2 L291.5,213.3 L292.0,213.3 L292.5,213.3 L293.0,213.4 L293.5,213.4 L294.0,213.4 L294.5,213.4 L295.0,213.5 L295.5,213.5 L296.0,213.5 L296.5,213.5 L297.0,213.5 L297.5,213.6 L298.0,213.6 L298.5,213.6 L299.0,213.6 L299.5,213.7 L300.0,213.7 L300.5,213.7 L301.0,213.7 L301.5,213.7 L302.0,213.8 L302.5,213.8 L303.0,213.8 L303.5,213.8 L304.0,213.8 L304.5,213.9 L305.0,213.9 L305.5,213.9 L306.0,213.9 L306.5,214.0 L307.0,214.0 L307.5,214.0 L308.0,214.0 L308.5,214.0 L309.0,214.1 L309.5,214.1 L310.0,214.1 L310.5,214.1 L311.0,214.1 L311.5,214.2 L312.0,214.2 L312.5,214.2 L313.0,214.2 L313.5,214.3 L314.0,214.3 L314.5,214.3 L315.0,214.3 L315.5,214.3 L316.0,214.4 L316.5,214.4 L317.0,214.4 L317.5,214.4 L318.0,214.4 L318.5,214.5 L319.0,214.5 L319.5,214.5 L320.0,214.5 L320.5,214.5 L321.0,214.6 L321.5,214.6 L322.0,214.6 L322.5,214.6 L323.0,214.6 L323.5,214.6 L324.0,214.6" fill="none" stroke="#808000" stroke-width="2.9" stroke-linejoin="round" stroke-linecap="round" />
<path d="M53.0,183.6 L53.5,183.6 L54.0,183.7 L54.5,183.7 L55.0,183.7 L55.5,183.7 L56.0,183.7 L56.5,183.7 L57.0,183.7 L57.5,183.8 L58.0,183.8 L58.5,183.8 L59.0,183.8 L59.5,183.8 L60.0,183.8 L60.5,183.9 L61.0,183.9 L61.5,183.9 L62.0,183.9 L62.5,183.9 L63.0,183.9 L63.5,184.0 L64.0,184.0 L64.5,184.0 L65.0,184.0 L65.5,184.0 L66.0,184.1 L66.5,184.1 L67.0,184.1 L67.5,184.1 L68.0,184.1 L68.5,184.1 L69.0,184.2 L69.5,184.2 L70.0,184.2 L70.5,184.2 L71.0,184.2 L71.5,184.3 L72.0,184.3 L72.5,184.3 L73.0,184.3 L73.5,184.3 L74.0,184.3 L74.5,184.4 L75.0,184.4 L75.5,184.4 L76.0,184.4 L76.5,184.4 L77.0,184.5 L77.5,184.5 L78.0,184.5 L78.5,184.5 L79.0,184.5 L79.5,184.6 L80.0,184.6 L80.5,184.6 L81.0,184.6 L81.5,184.6 L82.0,184.7 L82.5,184.7 L83.0,184.7 L83.5,184.7 L84.0,184.7 L84.5,184.8 L85.0,184.8 L85.5,184.8 L86.0,184.8 L86.5,184.8 L87.0,184.9 L87.5,184.9 L88.0,184.9 L88.5,184.9 L89.0,184.9 L89.5,185.0 L90.0,185.0 L90.5,185.0 L91.0,185.0 L91.5,185.0 L92.0,185.1 L92.5,185.1 L93.0,185.1 L93.5,185.1 L94.0,185.1 L94.5,185.2 L95.0,185.2 L95.5,185.2 L96.0,185.2 L96.5,185.3 L97.0,185.3 L97.5,185.3 L98.0,185.4 L98.5,185.4 L99.0,185.4 L99.5,185.5 L100.0,185.5 L100.5,185.6 L101.0,185.7 L101.5,185.7 L102.0,185.8 L102.5,185.9 L103.0,185.9 L103.5,186.0 L104.0,186.1 L104.5,186.2 L105.0,186.3 L105.5,186.4 L106.0,186.4 L106.5,186.5 L107.0,186.6 L107.5,186.7 L108.0,186.8 L108.5,186.9 L109.0,187.0 L109.5,187.1 L110.0,187.2 L110.5,187.3 L111.0,187.4 L111.5,187.5 L112.0,187.6 L112.5,187.7 L113.0,187.8 L113.5,188.0 L114.0,188.1 L114.5,188.2 L115.0,188.3 L115.5,188.5 L116.0,188.6 L116.5,188.7 L117.0,188.9 L117.5,189.0 L118.0,189.2 L118.5,189.3 L119.0,189.4 L119.5,189.6 L120.0,189.7 L120.5,189.8 L121.0,190.0 L121.5,190.1 L122.0,190.3 L122.5,190.4 L123.0,190.5 L123.5,190.7 L124.0,190.8 L124.5,190.9 L125.0,191.1 L125.5,191.2 L126.0,191.3 L126.5,191.5 L127.0,191.6 L127.5,191.8 L128.0,191.9 L128.5,192.0 L129.0,192.2 L129.5,192.3 L130.0,192.4 L130.5,192.5 L131.0,192.7 L131.5,192.8 L132.0,192.9 L132.5,193.0 L133.0,193.2 L133.5,193.3 L134.0,193.4 L134.5,193.5 L135.0,193.6 L135.5,193.7 L136.0,193.7 L136.5,193.8 L137.0,193.9 L137.5,194.0 L138.0,194.0 L138.5,194.1 L139.0,194.1 L139.5,194.2 L140.0,194.3 L140.5,194.3 L141.0,194.4 L141.5,194.4 L142.0,194.5 L142.5,194.5 L143.0,194.6 L143.5,194.6 L144.0,194.7 L144.5,194.7 L145.0,194.8 L145.5,194.8 L146.0,194.9 L146.5,194.9 L147.0,195.0 L147.5,195.0 L148.0,195.1 L148.5,195.1 L149.0,195.1 L149.5,195.2 L150.0,195.2 L150.5,195.3 L151.0,195.3 L151.5,195.4 L152.0,195.4 L152.5,195.4 L153.0,195.5 L153.5,195.5 L154.0,195.5 L154.5,195.5 L155.0,195.6 L155.5,195.6 L156.0,195.6 L156.5,195.6 L157.0,195.6 L157.5,195.7 L158.0,195.7 L158.5,195.7 L159.0,195.7 L159.5,195.7 L160.0,195.7 L160.5,195.7 L161.0,195.8 L161.5,195.8 L162.0,195.8 L162.5,195.8 L163.0,195.8 L163.5,195.8 L164.0,195.8 L164.5,195.9 L165.0,195.9 L165.5,195.9 L166.0,195.9 L166.5,195.9 L167.0,195.9 L167.5,195.9 L168.0,195.9 L168.5,196.0 L169.0,196.0 L169.5,196.0 L170.0,196.0 L170.5,196.0 L171.0,196.0 L171.5,196.0 L172.0,196.0 L172.5,196.1 L173.0,196.1 L173.5,196.1 L174.0,196.1 L174.5,196.1 L175.0,196.1 L175.5,196.1 L176.0,196.1 L176.5,196.1 L177.0,196.2 L177.5,196.2 L178.0,196.2 L178.5,196.2 L179.0,196.2 L179.5,196.2 L180.0,196.2 L180.5,196.2 L181.0,196.3 L181.5,196.3 L182.0,196.3 L182.5,196.3 L183.0,196.3 L183.5,196.3 L184.0,196.3 L184.5,196.3 L185.0,196.3 L185.5,196.4 L186.0,196.4 L186.5,196.4 L187.0,196.4 L187.5,196.4 L188.0,196.4 L188.5,196.4 L189.0,196.4 L189.5,196.4 L190.0,196.4 L190.5,196.4 L191.0,196.5 L191.5,196.5 L192.0,196.5 L192.5,196.5 L193.0,196.5 L193.5,196.5 L194.0,196.5 L194.5,196.5 L195.0,196.5 L195.5,196.5 L196.0,196.5 L196.5,196.5 L197.0,196.5 L197.5,196.5 L198.0,196.4 L198.5,196.4 L199.0,196.4 L199.5,196.4 L200.0,196.4 L200.5,196.3 L201.0,196.3 L201.5,196.3 L202.0,196.2 L202.5,196.2 L203.0,196.1 L203.5,196.0 L204.0,195.9 L204.5,195.8 L205.0,195.7 L205.5,195.6 L206.0,195.5 L206.5,195.3 L207.0,195.2 L207.5,195.0 L208.0,194.8 L208.5,194.5 L209.0,194.3 L209.5,194.0 L210.0,193.7 L210.5,193.4 L211.0,193.1 L211.5,192.7 L212.0,192.3 L212.5,191.9 L213.0,191.5 L213.5,191.0 L214.0,190.6 L214.5,190.1 L215.0,189.5 L215.5,189.0 L216.0,188.4 L216.5,187.9 L217.0,187.3 L217.5,186.7 L218.0,186.0 L218.5,185.4 L219.0,184.8 L219.5,184.2 L220.0,183.6 L220.5,183.0 L221.0,182.4 L221.5,181.8 L222.0,181.2 L222.5,180.7 L223.0,180.2 L223.5,179.7 L224.0,179.3 L224.5,178.9 L225.0,178.6 L225.5,178.3 L226.0,178.1 L226.5,177.9 L227.0,177.8 L227.5,177.7 L228.0,177.7 L228.5,177.8 L229.0,177.9 L229.5,178.1 L230.0,178.4 L230.5,178.7 L231.0,179.0 L231.5,179.4 L232.0,179.9 L232.5,180.4 L233.0,181.0 L233.5,181.5 L234.0,182.2 L234.5,182.8 L235.0,183.5 L235.5,184.2 L236.0,185.0 L236.5,185.7 L237.0,186.5 L237.5,187.3 L238.0,188.0 L238.5,188.8 L239.0,189.6 L239.5,190.4 L240.0,191.2 L240.5,191.9 L241.0,192.7 L241.5,193.4 L242.0,194.1 L242.5,194.8 L243.0,195.5 L243.5,196.2 L244.0,196.8 L244.5,197.4 L245.0,198.0 L245.5,198.6 L246.0,199.1 L246.5,199.6 L247.0,200.1 L247.5,200.6 L248.0,201.1 L248.5,201.5 L249.0,202.0 L249.5,202.4 L250.0,202.8 L250.5,203.1 L251.0,203.5 L251.5,203.8 L252.0,204.2 L252.5,204.5 L253.0,204.8 L253.5,205.1 L254.0,205.3 L254.5,205.6 L255.0,205.8 L255.5,206.1 L256.0,206.3 L256.5,206.5 L257.0,206.7 L257.5,206.9 L258.0,207.1 L258.5,207.2 L259.0,207.4 L259.5,207.6 L260.0,207.7 L260.5,207.9 L261.0,208.0 L261.5,208.2 L262.0,208.3 L262.5,208.5 L263.0,208.6 L263.5,208.8 L264.0,208.9 L264.5,209.1 L265.0,209.2 L265.5,209.3 L266.0,209.5 L266.5,209.6 L267.0,209.7 L267.5,209.9 L268.0,210.0 L268.5,210.1 L269.0,210.3 L269.5,210.4 L270.0,210.5 L270.5,210.6 L271.0,210.8 L271.5,210.9 L272.0,211.0 L272.5,211.1 L273.0,211.2 L273.5,211.3 L274.0,211.3 L274.5,211.4 L275.0,211.5 L275.5,211.6 L276.0,211.6 L276.5,211.7 L277.0,211.8 L277.5,211.8 L278.0,211.9 L278.5,211.9 L279.0,212.0 L279.5,212.0 L280.0,212.1 L280.5,212.1 L281.0,212.2 L281.5,212.3 L282.0,212.3 L282.5,212.4 L283.0,212.4 L283.5,212.5 L284.0,212.5 L284.5,212.6 L285.0,212.6 L285.5,212.7 L286.0,212.7 L286.5,212.8 L287.0,212.8 L287.5,212.9 L288.0,212.9 L288.5,213.0 L289.0,213.0 L289.5,213.0 L290.0,213.1 L290.5,213.1 L291.0,213.2 L291.5,213.2 L292.0,213.2 L292.5,213.3 L293.0,213.3 L293.5,213.3 L294.0,213.3 L294.5,213.4 L295.0,213.4 L295.5,213.4 L296.0,213.4 L296.5,213.5 L297.0,213.5 L297.5,213.5 L298.0,213.5 L298.5,213.6 L299.0,213.6 L299.5,213.6 L300.0,213.6 L300.5,213.6 L301.0,213.7 L301.5,213.7 L302.0,213.7 L302.5,213.7 L303.0,213.8 L303.5,213.8 L304.0,213.8 L304.5,213.8 L305.0,213.8 L305.5,213.9 L306.0,213.9 L306.5,213.9 L307.0,213.9 L307.5,214.0 L308.0,214.0 L308.5,214.0 L309.0,214.0 L309.5,214.0 L310.0,214.1 L310.5,214.1 L311.0,214.1 L311.5,214.1 L312.0,214.2 L312.5,214.2 L313.0,214.2 L313.5,214.2 L314.0,214.2 L314.5,214.3 L315.0,214.3 L315.5,214.3 L316.0,214.3 L316.5,214.3 L317.0,214.4 L317.5,214.4 L318.0,214.4 L318.5,214.4 L319.0,214.5 L319.5,214.5 L320.0,214.5 L320.5,214.5 L321.0,214.5 L321.5,214.5 L322.0,214.6 L322.5,214.6 L323.0,214.6 L323.5,214.6 L324.0,214.6" fill="none" stroke="#808000" stroke-width="2.9" stroke-linejoin="round" stroke-linecap="round" />
<path d="M366.8,203.0 L380.0,203.3 L390.0,203.4 L396.0,203.1 L396.5,203.1 L397.0,203.1 L397.5,203.0 L398.0,203.0 L398.5,203.0 L399.0,203.0 L399.5,203.0 L400.0,202.9 L400.5,202.9 L401.0,202.9 L401.5,202.8 L402.0,202.8 L402.5,202.8 L403.0,202.7 L403.5,202.7 L404.0,202.6 L404.5,202.5 L405.0,202.5 L405.5,202.4 L406.0,202.3 L406.5,202.2 L407.0,202.1 L407.5,202.0 L408.0,201.9 L408.5,201.8 L409.0,201.7 L409.5,201.5 L410.0,201.4 L410.5,201.2 L411.0,201.0 L411.5,200.8 L412.0,200.6 L412.5,200.4 L413.0,200.1 L413.5,199.9 L414.0,199.6 L414.5,199.3 L415.0,199.0 L415.5,198.7 L416.0,198.4 L416.5,198.0 L417.0,197.7 L417.5,197.3 L418.0,196.9 L418.5,196.4 L419.0,196.0 L419.5,195.5 L420.0,195.0 L420.5,194.5 L421.0,194.0 L421.5,193.4 L422.0,192.9 L422.5,192.3 L423.0,191.7 L423.5,191.1 L424.0,190.4 L424.5,189.8 L425.0,189.1 L425.5,188.4 L426.0,187.8 L426.5,187.0 L427.0,186.3 L427.5,185.6 L428.0,184.9 L428.5,184.1 L429.0,183.4 L429.5,182.6 L430.0,181.9 L430.5,181.1 L431.0,180.4 L431.5,179.7 L432.0,178.9 L432.5,178.2 L433.0,177.5 L433.5,176.8 L434.0,176.1 L434.5,175.4 L435.0,174.8 L435.5,174.2 L436.0,173.6 L436.5,173.0 L437.0,172.4 L437.5,171.9 L438.0,171.4 L438.5,171.0 L439.0,170.6 L439.5,170.2 L440.0,169.9 L440.5,169.6 L441.0,169.3 L441.5,169.1 L442.0,168.9 L442.5,168.8 L443.0,168.7 L443.5,168.7 L444.0,168.7 L444.5,168.8 L445.0,168.8 L445.5,169.0 L446.0,169.1 L446.5,169.3 L447.0,169.5 L447.5,169.8 L448.0,170.1 L448.5,170.3 L449.0,170.6 L449.5,170.8 L450.0,171.0 L450.5,171.2 L451.0,171.3 L451.5,171.2 L452.0,171.0 L452.5,170.6 L453.0,170.0 L453.5,169.1 L454.0,167.8 L454.5,166.2 L455.0,164.1 L455.5,161.5 L456.0,158.5 L456.5,154.8 L457.0,150.7 L457.5,146.0 L458.0,140.8 L458.5,135.1 L459.0,129.2 L459.5,123.1 L460.0,116.9 L460.5,110.9 L461.0,105.1 L461.5,99.9 L462.0,95.5 L462.5,92.0 L463.0,89.7 L463.5,88.6 L464.0,88.9 L464.5,90.6 L465.0,93.7 L465.5,97.9 L466.0,103.2 L466.5,109.4 L467.0,116.3 L467.5,123.5 L468.0,131.0 L468.5,138.6 L469.0,146.0 L469.5,153.1 L470.0,159.8 L470.5,166.1 L471.0,171.8 L471.5,176.9 L472.0,181.4 L472.5,185.3 L473.0,188.7 L473.5,191.5 L474.0,193.9 L474.5,195.9 L475.0,197.4 L475.5,198.7 L476.0,199.7 L476.5,200.4 L477.0,201.0 L477.5,201.4 L478.0,201.7 L478.5,201.9 L479.0,202.1 L479.5,202.3 L480.0,202.4 L480.5,202.6 L481.0,202.8 L481.5,203.0 L482.0,203.3 L482.5,203.6 L483.0,203.9 L483.5,204.3 L484.0,204.7 L484.5,205.1 L485.0,205.4 L485.5,205.8 L486.0,206.2 L486.5,206.6 L487.0,206.9 L487.5,207.2 L488.0,207.5 L488.5,207.8 L489.0,208.0 L489.5,208.3 L490.0,208.5 L490.5,208.7 L491.0,208.9 L491.5,209.0 L492.0,209.2 L492.5,209.3 L493.0,209.4 L493.5,209.5 L494.0,209.6 L494.5,209.7 L495.0,209.8 L495.5,209.9 L496.0,210.0 L496.5,210.0 L497.0,210.1 L497.5,210.2 L498.0,210.2 L498.5,210.3 L499.0,210.3 L499.5,210.4 L500.0,210.4 L500.5,210.4 L501.0,210.5 L501.5,210.5 L502.0,210.5 L502.5,210.6 L503.0,210.6 L503.5,210.6 L504.0,210.7 L504.5,210.7 L505.0,210.7 L505.5,210.8 L506.0,210.8 L506.5,210.8 L507.0,210.8 L507.5,210.8 L508.0,210.9 L508.5,210.9 L509.0,210.9 L509.5,210.9 L510.0,211.0 L510.5,211.0 L511.0,211.0 L511.5,211.0 L512.0,211.0 L512.5,211.0 L513.0,211.1 L513.5,211.1 L514.0,211.1 L514.5,211.1 L515.0,211.1 L515.5,211.1 L516.0,211.1 L516.5,211.2 L517.0,211.2 L517.5,211.2 L518.0,211.2 L518.5,211.2 L519.0,211.2 L519.5,211.2 L520.0,211.2 L520.5,211.2 L521.0,211.2 L521.5,211.2 L522.0,211.2 L522.5,211.2 L523.0,211.2 L523.5,211.2 L524.0,211.2 L524.5,211.2 L525.0,211.2 L525.5,211.2 L526.0,211.2 L526.5,211.1 L527.0,211.1 L527.5,211.1 L528.0,211.0 L528.5,211.0 L529.0,210.9 L529.5,210.9 L530.0,210.8 L530.5,210.8 L531.0,210.7 L531.5,210.6 L532.0,210.5 L532.5,210.4 L533.0,210.3 L533.5,210.1 L534.0,210.0 L534.5,209.8 L535.0,209.7 L535.5,209.5 L536.0,209.3 L536.5,209.1 L537.0,208.9 L537.5,208.6 L538.0,208.3 L538.5,208.1 L539.0,207.7 L539.5,207.4 L540.0,207.1 L540.5,206.7 L541.0,206.3 L541.5,205.9 L542.0,205.4 L542.5,205.0 L543.0,204.5 L543.5,204.0 L544.0,203.4 L544.5,202.8 L545.0,202.2 L545.5,201.6 L546.0,200.9 L546.5,200.2 L547.0,199.5 L547.5,198.8 L548.0,198.0 L548.5,197.2 L549.0,196.3 L549.5,195.5 L550.0,194.6 L550.5,193.7 L551.0,192.7 L551.5,191.7 L552.0,190.8 L552.5,189.7 L553.0,188.7 L553.5,187.7 L554.0,186.6 L554.5,185.5 L555.0,184.4 L555.5,183.3 L556.0,182.2 L556.5,181.1 L557.0,179.9 L557.5,178.8 L558.0,177.7 L558.5,176.6 L559.0,175.5 L559.5,174.4 L560.0,173.3 L560.5,172.3 L561.0,171.2 L561.5,170.2 L562.0,169.2 L562.5,168.2 L563.0,167.3 L563.5,166.4 L564.0,165.5 L564.5,164.7 L565.0,163.9 L565.5,163.2 L566.0,162.5 L566.5,161.9 L567.0,161.3 L567.5,160.7 L568.0,160.2 L568.5,159.8 L569.0,159.4 L569.5,159.0 L570.0,158.8 L570.5,158.6 L571.0,158.4 L571.5,158.3 L572.0,158.3 L572.5,158.3 L573.0,158.4 L573.5,158.5 L574.0,158.7 L574.5,158.9 L575.0,159.1 L575.5,159.4 L576.0,159.7 L576.5,159.9 L577.0,160.2 L577.5,160.4 L578.0,160.5 L578.5,160.4 L579.0,160.2 L579.5,159.8 L580.0,159.2 L580.5,158.2 L581.0,156.9 L581.5,155.1 L582.0,152.9 L582.5,150.2 L583.0,146.9 L583.5,143.0 L584.0,138.6 L584.5,133.5 L585.0,127.8 L585.5,121.5 L586.0,114.7 L586.5,107.4 L587.0,99.9 L587.5,92.1 L588.0,84.2 L588.5,76.5 L589.0,69.1 L589.5,62.2 L590.0,56.0 L590.5,50.8 L591.0,46.7 L591.5,43.8 L592.0,42.5 L592.5,42.6 L593.0,44.3 L593.5,47.5 L594.0,52.2 L594.5,58.1 L595.0,65.2 L595.5,73.2 L596.0,81.9 L596.5,91.1 L597.0,100.6 L597.5,110.2 L598.0,119.7 L598.5,129.0 L599.0,137.9 L599.5,146.4 L600.0,154.3 L600.5,161.6 L601.0,168.3 L601.5,174.3 L602.0,179.6 L602.5,184.3 L603.0,188.4 L603.5,191.9 L604.0,194.9 L604.5,197.4 L605.0,199.5 L605.5,201.2 L606.0,202.6 L606.5,203.8 L607.0,204.7 L607.5,205.6 L608.0,206.3 L608.5,207.0 L609.0,207.7 L609.5,208.4 L610.0,209.0 L610.5,209.8 L611.0,210.5 L611.5,211.2 L612.0,211.9 L612.5,212.7 L613.0,213.4 L613.5,214.1 L614.0,214.7 L614.5,215.4 L615.0,215.9 L615.5,216.5 L616.0,217.0 L616.5,217.5 L617.0,217.9 L617.5,218.3 L618.0,218.7 L618.5,219.0 L619.0,219.3 L619.5,219.6 L620.0,219.8 L620.5,220.0 L621.0,220.2 L621.5,220.4 L622.0,220.6 L622.5,220.7 L623.0,220.8 L623.5,220.9 L624.0,221.1 L624.5,221.1 L625.0,221.2 L625.5,221.3 L626.0,221.4 L626.5,221.5 L627.0,221.5 L627.5,221.6 L628.0,221.7 L628.5,221.7 L629.0,221.8 L629.5,221.8 L630.0,221.9 L630.5,221.9 L631.0,222.0 L631.5,222.0 L632.0,222.1 L632.5,222.1 L633.0,222.1 L633.5,222.2 L634.0,222.2 L634.5,222.2 L635.0,222.3 L635.5,222.3 L636.0,222.3 L636.5,222.4 L637.0,222.4 L637.5,222.4 L638.0,222.5 L638.5,222.5 L639.0,222.5 L639.5,222.5 L640.0,222.6 L640.5,222.6 L641.0,222.6 L641.5,222.6 L642.0,222.7 L642.5,222.7 L643.0,222.7 L643.5,222.7 L644.0,222.8 L644.5,222.8 L645.0,222.8 L645.5,222.8 L646.0,222.8 L646.5,222.9 L647.0,222.9 L647.5,222.9 L648.0,222.9 L648.5,222.9 L649.0,222.9 L649.5,223.0 L650.0,223.0 L650.5,223.0 L651.0,223.0 L651.5,223.0 L652.0,223.0 L652.5,223.1 L653.0,223.1 L653.5,223.1 L654.0,223.1 L654.5,223.1 L655.0,223.1 L655.5,223.2 L656.0,223.2 L656.5,223.2 L657.0,223.2 L657.5,223.2 L658.0,223.2 L658.5,223.2 L659.0,223.3 L659.5,223.3 L660.0,223.3 L660.5,223.3 L661.0,223.3 L661.5,223.3 L662.0,223.3 L662.5,223.3 L663.0,223.4 L663.5,223.4 L664.0,223.4 L664.5,223.4 L665.0,223.4 L665.5,223.4 L666.0,223.4 L666.5,223.4 L667.0,223.5 L667.5,223.5 L668.0,223.5 L668.5,223.5" fill="none" stroke="#000000" stroke-width="3.8" stroke-linejoin="round" stroke-linecap="round" />
<path d="M396.0,203.1 L396.5,203.1 L397.0,203.1 L397.5,203.0 L398.0,203.0 L398.5,203.0 L399.0,203.0 L399.5,203.0 L400.0,202.9 L400.5,202.9 L401.0,202.9 L401.5,202.8 L402.0,202.8 L402.5,202.8 L403.0,202.7 L403.5,202.7 L404.0,202.6 L404.5,202.5 L405.0,202.5 L405.5,202.4 L406.0,202.3 L406.5,202.2 L407.0,202.1 L407.5,202.0 L408.0,201.9 L408.5,201.8 L409.0,201.7 L409.5,201.5 L410.0,201.4 L410.5,201.2 L411.0,201.0 L411.5,200.8 L412.0,200.6 L412.5,200.4 L413.0,200.1 L413.5,199.9 L414.0,199.6 L414.5,199.3 L415.0,199.0 L415.5,198.7 L416.0,198.4 L416.5,198.0 L417.0,197.7 L417.5,197.3 L418.0,196.9 L418.5,196.4 L419.0,196.0 L419.5,195.5 L420.0,195.0 L420.5,194.5 L421.0,194.0 L421.5,193.4 L422.0,192.9 L422.5,192.3 L423.0,191.7 L423.5,191.1 L424.0,190.4 L424.5,189.8 L425.0,189.1 L425.5,188.4 L426.0,187.8 L426.5,187.0 L427.0,186.3 L427.5,185.6 L428.0,184.9 L428.5,184.1 L429.0,183.4 L429.5,182.6 L430.0,181.9 L430.5,181.1 L431.0,180.4 L431.5,179.7 L432.0,178.9 L432.5,178.2 L433.0,177.5 L433.5,176.8 L434.0,176.1 L434.5,175.4 L435.0,174.8 L435.5,174.2 L436.0,173.6 L436.5,173.0 L437.0,172.4 L437.5,171.9 L438.0,171.4 L438.5,171.0 L439.0,170.6 L439.5,170.2 L440.0,169.9 L440.5,169.6 L441.0,169.3 L441.5,169.1 L442.0,168.9 L442.5,168.8 L443.0,168.7 L443.5,168.7 L444.0,168.7 L444.5,168.8 L445.0,168.8 L445.5,169.0 L446.0,169.1 L446.5,169.3 L447.0,169.6 L447.5,169.8 L448.0,170.1 L448.5,170.4 L449.0,170.6 L449.5,170.9 L450.0,171.1 L450.5,171.3 L451.0,171.4 L451.5,171.4 L452.0,171.3 L452.5,170.9 L453.0,170.4 L453.5,169.6 L454.0,168.4 L454.5,166.9 L455.0,165.0 L455.5,162.6 L456.0,159.6 L456.5,156.2 L457.0,152.2 L457.5,147.8 L458.0,142.8 L458.5,137.4 L459.0,131.7 L459.5,125.8 L460.0,119.9 L460.5,114.1 L461.0,108.5 L461.5,103.5 L462.0,99.2 L462.5,95.9 L463.0,93.6 L463.5,92.6 L464.0,92.9 L464.5,94.6 L465.0,97.5 L465.5,101.7 L466.0,106.9 L466.5,112.9 L467.0,119.5 L467.5,126.6 L468.0,133.9 L468.5,141.2 L469.0,148.3 L469.5,155.2 L470.0,161.7 L470.5,167.7 L471.0,173.2 L471.5,178.1 L472.0,182.4 L472.5,186.2 L473.0,189.4 L473.5,192.2 L474.0,194.4 L474.5,196.3 L475.0,197.8 L475.5,199.0 L476.0,199.9 L476.5,200.6 L477.0,201.1 L477.5,201.5 L478.0,201.8 L478.5,202.0 L479.0,202.2 L479.5,202.3 L480.0,202.4 L480.5,202.6 L481.0,202.8 L481.5,203.0 L482.0,203.3 L482.5,203.6 L483.0,203.9 L483.5,204.3 L484.0,204.7 L484.5,205.1 L485.0,205.4 L485.5,205.8 L486.0,206.2 L486.5,206.6 L487.0,206.9 L487.5,207.2 L488.0,207.5 L488.5,207.8 L489.0,208.0 L489.5,208.3 L490.0,208.5 L490.5,208.7 L491.0,208.9 L491.5,209.0 L492.0,209.2 L492.5,209.3 L493.0,209.4 L493.5,209.5 L494.0,209.6 L494.5,209.7 L495.0,209.8 L495.5,209.9 L496.0,210.0 L496.5,210.0 L497.0,210.1 L497.5,210.2 L498.0,210.2 L498.5,210.3 L499.0,210.3 L499.5,210.4 L500.0,210.4 L500.5,210.4 L501.0,210.5 L501.5,210.5 L502.0,210.5 L502.5,210.6 L503.0,210.6 L503.5,210.6 L504.0,210.7 L504.5,210.7 L505.0,210.7 L505.5,210.8 L506.0,210.8 L506.5,210.8 L507.0,210.8 L507.5,210.8 L508.0,210.9 L508.5,210.9 L509.0,210.9 L509.5,210.9 L510.0,211.0 L510.5,211.0 L511.0,211.0 L511.5,211.0 L512.0,211.0 L512.5,211.0 L513.0,211.1 L513.5,211.1 L514.0,211.1 L514.5,211.1 L515.0,211.1 L515.5,211.1 L516.0,211.1 L516.5,211.2 L517.0,211.2 L517.5,211.2 L518.0,211.2 L518.5,211.2 L519.0,211.2 L519.5,211.2 L520.0,211.2 L520.5,211.2 L521.0,211.2 L521.5,211.2 L522.0,211.2 L522.5,211.2 L523.0,211.2 L523.5,211.2 L524.0,211.2 L524.5,211.2 L525.0,211.2 L525.5,211.2 L526.0,211.2 L526.5,211.1 L527.0,211.1 L527.5,211.1 L528.0,211.0 L528.5,211.0 L529.0,210.9 L529.5,210.9 L530.0,210.8 L530.5,210.8 L531.0,210.7 L531.5,210.6 L532.0,210.5 L532.5,210.4 L533.0,210.3 L533.5,210.1 L534.0,210.0 L534.5,209.8 L535.0,209.7 L535.5,209.5 L536.0,209.3 L536.5,209.1 L537.0,208.9 L537.5,208.6 L538.0,208.3 L538.5,208.1 L539.0,207.7 L539.5,207.4 L540.0,207.1 L540.5,206.7 L541.0,206.3 L541.5,205.9 L542.0,205.4 L542.5,205.0 L543.0,204.5 L543.5,204.0 L544.0,203.4 L544.5,202.8 L545.0,202.2 L545.5,201.6 L546.0,200.9 L546.5,200.2 L547.0,199.5 L547.5,198.8 L548.0,198.0 L548.5,197.2 L549.0,196.3 L549.5,195.5 L550.0,194.6 L550.5,193.7 L551.0,192.7 L551.5,191.7 L552.0,190.8 L552.5,189.7 L553.0,188.7 L553.5,187.7 L554.0,186.6 L554.5,185.5 L555.0,184.4 L555.5,183.3 L556.0,182.2 L556.5,181.1 L557.0,180.0 L557.5,178.8 L558.0,177.7 L558.5,176.6 L559.0,175.5 L559.5,174.4 L560.0,173.3 L560.5,172.3 L561.0,171.2 L561.5,170.2 L562.0,169.3 L562.5,168.3 L563.0,167.4 L563.5,166.5 L564.0,165.7 L564.5,164.9 L565.0,164.1 L565.5,163.4 L566.0,162.8 L566.5,162.2 L567.0,161.6 L567.5,161.1 L568.0,160.7 L568.5,160.3 L569.0,160.0 L569.5,159.8 L570.0,159.6 L570.5,159.5 L571.0,159.4 L571.5,159.4 L572.0,159.5 L572.5,159.6 L573.0,159.8 L573.5,160.0 L574.0,160.3 L574.5,160.6 L575.0,160.9 L575.5,161.2 L576.0,161.6 L576.5,161.9 L577.0,162.2 L577.5,162.4 L578.0,162.5 L578.5,162.5 L579.0,162.3 L579.5,161.9 L580.0,161.2 L580.5,160.2 L581.0,158.9 L581.5,157.1 L582.0,154.9 L582.5,152.1 L583.0,148.9 L583.5,145.0 L584.0,140.5 L584.5,135.5 L585.0,129.8 L585.5,123.6 L586.0,116.9 L586.5,109.7 L587.0,102.2 L587.5,94.5 L588.0,86.8 L588.5,79.2 L589.0,71.9 L589.5,65.1 L590.0,59.0 L590.5,53.8 L591.0,49.8 L591.5,47.0 L592.0,45.6 L592.5,45.7 L593.0,47.4 L593.5,50.5 L594.0,55.0 L594.5,60.9 L595.0,67.8 L595.5,75.6 L596.0,84.2 L596.5,93.2 L597.0,102.5 L597.5,111.9 L598.0,121.3 L598.5,130.4 L599.0,139.2 L599.5,147.5 L600.0,155.2 L600.5,162.4 L601.0,168.9 L601.5,174.8 L602.0,180.1 L602.5,184.7 L603.0,188.7 L603.5,192.1 L604.0,195.1 L604.5,197.5 L605.0,199.6 L605.5,201.3 L606.0,202.7 L606.5,203.8 L607.0,204.8 L607.5,205.6 L608.0,206.3 L608.5,207.0 L609.0,207.7 L609.5,208.4 L610.0,209.1 L610.5,209.8 L611.0,210.5 L611.5,211.2 L612.0,211.9 L612.5,212.7 L613.0,213.4 L613.5,214.1 L614.0,214.7 L614.5,215.4 L615.0,215.9 L615.5,216.5 L616.0,217.0 L616.5,217.5 L617.0,217.9 L617.5,218.3 L618.0,218.7 L618.5,219.0 L619.0,219.3 L619.5,219.6 L620.0,219.8 L620.5,220.0 L621.0,220.2 L621.5,220.4 L622.0,220.6 L622.5,220.7 L623.0,220.8 L623.5,220.9 L624.0,221.1 L624.5,221.1 L625.0,221.2 L625.5,221.3 L626.0,221.4 L626.5,221.5 L627.0,221.5 L627.5,221.6 L628.0,221.7 L628.5,221.7 L629.0,221.8 L629.5,221.8 L630.0,221.9 L630.5,221.9 L631.0,222.0 L631.5,222.0 L632.0,222.1 L632.5,222.1 L633.0,222.1 L633.5,222.2 L634.0,222.2 L634.5,222.2 L635.0,222.3 L635.5,222.3 L636.0,222.3 L636.5,222.4 L637.0,222.4 L637.5,222.4 L638.0,222.5 L638.5,222.5 L639.0,222.5 L639.5,222.5 L640.0,222.6 L640.5,222.6 L641.0,222.6 L641.5,222.6 L642.0,222.7 L642.5,222.7 L643.0,222.7 L643.5,222.7 L644.0,222.8 L644.5,222.8 L645.0,222.8 L645.5,222.8 L646.0,222.8 L646.5,222.9 L647.0,222.9 L647.5,222.9 L648.0,222.9 L648.5,222.9 L649.0,222.9 L649.5,223.0 L650.0,223.0 L650.5,223.0 L651.0,223.0 L651.5,223.0 L652.0,223.0 L652.5,223.1 L653.0,223.1 L653.5,223.1 L654.0,223.1 L654.5,223.1 L655.0,223.1 L655.5,223.2 L656.0,223.2 L656.5,223.2 L657.0,223.2 L657.5,223.2 L658.0,223.2 L658.5,223.2 L659.0,223.3 L659.5,223.3 L660.0,223.3 L660.5,223.3 L661.0,223.3 L661.5,223.3 L662.0,223.3 L662.5,223.3 L663.0,223.4 L663.5,223.4 L664.0,223.4 L664.5,223.4 L665.0,223.4 L665.5,223.4 L666.0,223.4 L666.5,223.4 L667.0,223.5 L667.5,223.5 L668.0,223.5 L668.5,223.5" fill="none" stroke="#ff0000" stroke-width="3.3" stroke-linejoin="round" stroke-linecap="round" />
<path d="M396.0,203.5 L396.5,203.5 L397.0,203.5 L397.5,203.5 L398.0,203.6 L398.5,203.6 L399.0,203.6 L399.5,203.6 L400.0,203.6 L400.5,203.6 L401.0,203.6 L401.5,203.6 L402.0,203.6 L402.5,203.6 L403.0,203.7 L403.5,203.7 L404.0,203.7 L404.5,203.7 L405.0,203.7 L405.5,203.7 L406.0,203.7 L406.5,203.7 L407.0,203.8 L407.5,203.8 L408.0,203.8 L408.5,203.8 L409.0,203.8 L409.5,203.8 L410.0,203.8 L410.5,203.8 L411.0,203.8 L411.5,203.9 L412.0,203.9 L412.5,203.9 L413.0,203.9 L413.5,203.9 L414.0,203.9 L414.5,203.9 L415.0,203.9 L415.5,203.9 L416.0,204.0 L416.5,204.0 L417.0,204.0 L417.5,204.0 L418.0,204.0 L418.5,204.0 L419.0,204.0 L419.5,204.0 L420.0,204.0 L420.5,204.1 L421.0,204.1 L421.5,204.1 L422.0,204.1 L422.5,204.1 L423.0,204.1 L423.5,204.1 L424.0,204.1 L424.5,204.1 L425.0,204.2 L425.5,204.2 L426.0,204.2 L426.5,204.2 L427.0,204.2 L427.5,204.2 L428.0,204.2 L428.5,204.2 L429.0,204.3 L429.5,204.3 L430.0,204.3 L430.5,204.3 L431.0,204.3 L431.5,204.3 L432.0,204.3 L432.5,204.3 L433.0,204.3 L433.5,204.4 L434.0,204.4 L434.5,204.4 L435.0,204.4 L435.5,204.4 L436.0,204.4 L436.5,204.4 L437.0,204.4 L437.5,204.5 L438.0,204.5 L438.5,204.5 L439.0,204.5 L439.5,204.5 L440.0,204.6 L440.5,204.6 L441.0,204.6 L441.5,204.6 L442.0,204.7 L442.5,204.7 L443.0,204.7 L443.5,204.7 L444.0,204.8 L444.5,204.8 L445.0,204.8 L445.5,204.9 L446.0,204.9 L446.5,204.9 L447.0,205.0 L447.5,205.0 L448.0,205.0 L448.5,205.1 L449.0,205.1 L449.5,205.1 L450.0,205.2 L450.5,205.2 L451.0,205.3 L451.5,205.3 L452.0,205.3 L452.5,205.4 L453.0,205.4 L453.5,205.5 L454.0,205.6 L454.5,205.6 L455.0,205.7 L455.5,205.8 L456.0,205.9 L456.5,206.0 L457.0,206.1 L457.5,206.2 L458.0,206.3 L458.5,206.4 L459.0,206.5 L459.5,206.6 L460.0,206.8 L460.5,206.9 L461.0,207.0 L461.5,207.1 L462.0,207.2 L462.5,207.4 L463.0,207.5 L463.5,207.6 L464.0,207.7 L464.5,207.9 L465.0,208.0 L465.5,208.1 L466.0,208.2 L466.5,208.3 L467.0,208.5 L467.5,208.6 L468.0,208.7 L468.5,208.8 L469.0,208.9 L469.5,209.0 L470.0,209.1 L470.5,209.2 L471.0,209.4 L471.5,209.5 L472.0,209.6 L472.5,209.7 L473.0,209.8 L473.5,209.8 L474.0,209.9 L474.5,210.0 L475.0,210.1 L475.5,210.1 L476.0,210.2 L476.5,210.3 L477.0,210.3 L477.5,210.3 L478.0,210.4 L478.5,210.4 L479.0,210.5 L479.5,210.5 L480.0,210.5 L480.5,210.5 L481.0,210.6 L481.5,210.6 L482.0,210.6 L482.5,210.6 L483.0,210.7 L483.5,210.7 L484.0,210.7 L484.5,210.7 L485.0,210.7 L485.5,210.8 L486.0,210.8 L486.5,210.8 L487.0,210.8 L487.5,210.9 L488.0,210.9 L488.5,210.9 L489.0,210.9 L489.5,210.9 L490.0,211.0 L490.5,211.0 L491.0,211.0 L491.5,211.0 L492.0,211.0 L492.5,211.1 L493.0,211.1 L493.5,211.1 L494.0,211.1 L494.5,211.2 L495.0,211.2 L495.5,211.2 L496.0,211.2 L496.5,211.2 L497.0,211.3 L497.5,211.3 L498.0,211.3 L498.5,211.3 L499.0,211.3 L499.5,211.4 L500.0,211.4 L500.5,211.4 L501.0,211.4 L501.5,211.4 L502.0,211.5 L502.5,211.5 L503.0,211.5 L503.5,211.5 L504.0,211.5 L504.5,211.5 L505.0,211.5 L505.5,211.6 L506.0,211.6 L506.5,211.6 L507.0,211.6 L507.5,211.6 L508.0,211.6 L508.5,211.7 L509.0,211.7 L509.5,211.7 L510.0,211.7 L510.5,211.7 L511.0,211.7 L511.5,211.7 L512.0,211.8 L512.5,211.8 L513.0,211.8 L513.5,211.8 L514.0,211.8 L514.5,211.8 L515.0,211.9 L515.5,211.9 L516.0,211.9 L516.5,211.9 L517.0,211.9 L517.5,211.9 L518.0,211.9 L518.5,212.0 L519.0,212.0 L519.5,212.0 L520.0,212.0 L520.5,212.0 L521.0,212.1 L521.5,212.1 L522.0,212.1 L522.5,212.1 L523.0,212.1 L523.5,212.2 L524.0,212.2 L524.5,212.2 L525.0,212.2 L525.5,212.2 L526.0,212.3 L526.5,212.3 L527.0,212.3 L527.5,212.3 L528.0,212.4 L528.5,212.4 L529.0,212.4 L529.5,212.4 L530.0,212.5 L530.5,212.5 L531.0,212.5 L531.5,212.5 L532.0,212.5 L532.5,212.6 L533.0,212.6 L533.5,212.6 L534.0,212.6 L534.5,212.7 L535.0,212.7 L535.5,212.7 L536.0,212.7 L536.5,212.7 L537.0,212.8 L537.5,212.8 L538.0,212.8 L538.5,212.8 L539.0,212.9 L539.5,212.9 L540.0,212.9 L540.5,212.9 L541.0,212.9 L541.5,213.0 L542.0,213.0 L542.5,213.0 L543.0,213.0 L543.5,213.1 L544.0,213.1 L544.5,213.1 L545.0,213.1 L545.5,213.1 L546.0,213.2 L546.5,213.2 L547.0,213.2 L547.5,213.2 L548.0,213.3 L548.5,213.3 L549.0,213.3 L549.5,213.3 L550.0,213.4 L550.5,213.4 L551.0,213.4 L551.5,213.4 L552.0,213.4 L552.5,213.5 L553.0,213.5 L553.5,213.5 L554.0,213.5 L554.5,213.6 L555.0,213.6 L555.5,213.6 L556.0,213.6 L556.5,213.7 L557.0,213.7 L557.5,213.7 L558.0,213.7 L558.5,213.8 L559.0,213.8 L559.5,213.8 L560.0,213.9 L560.5,213.9 L561.0,213.9 L561.5,214.0 L562.0,214.0 L562.5,214.0 L563.0,214.1 L563.5,214.1 L564.0,214.2 L564.5,214.2 L565.0,214.3 L565.5,214.3 L566.0,214.4 L566.5,214.4 L567.0,214.5 L567.5,214.5 L568.0,214.5 L568.5,214.6 L569.0,214.6 L569.5,214.7 L570.0,214.7 L570.5,214.8 L571.0,214.9 L571.5,214.9 L572.0,215.0 L572.5,215.0 L573.0,215.1 L573.5,215.2 L574.0,215.3 L574.5,215.3 L575.0,215.4 L575.5,215.5 L576.0,215.6 L576.5,215.8 L577.0,215.9 L577.5,216.0 L578.0,216.1 L578.5,216.3 L579.0,216.4 L579.5,216.5 L580.0,216.7 L580.5,216.8 L581.0,217.0 L581.5,217.1 L582.0,217.2 L582.5,217.4 L583.0,217.5 L583.5,217.7 L584.0,217.8 L584.5,218.0 L585.0,218.1 L585.5,218.3 L586.0,218.4 L586.5,218.5 L587.0,218.7 L587.5,218.8 L588.0,219.0 L588.5,219.1 L589.0,219.2 L589.5,219.4 L590.0,219.5 L590.5,219.6 L591.0,219.8 L591.5,219.9 L592.0,220.0 L592.5,220.2 L593.0,220.3 L593.5,220.4 L594.0,220.5 L594.5,220.7 L595.0,220.8 L595.5,220.9 L596.0,221.0 L596.5,221.1 L597.0,221.2 L597.5,221.3 L598.0,221.4 L598.5,221.5 L599.0,221.5 L599.5,221.6 L600.0,221.7 L600.5,221.7 L601.0,221.8 L601.5,221.9 L602.0,221.9 L602.5,222.0 L603.0,222.0 L603.5,222.1 L604.0,222.1 L604.5,222.1 L605.0,222.2 L605.5,222.2 L606.0,222.3 L606.5,222.3 L607.0,222.3 L607.5,222.4 L608.0,222.4 L608.5,222.4 L609.0,222.5 L609.5,222.5 L610.0,222.5 L610.5,222.6 L611.0,222.6 L611.5,222.6 L612.0,222.6 L612.5,222.6 L613.0,222.7 L613.5,222.7 L614.0,222.7 L614.5,222.7 L615.0,222.7 L615.5,222.7 L616.0,222.7 L616.5,222.8 L617.0,222.8 L617.5,222.8 L618.0,222.8 L618.5,222.8 L619.0,222.8 L619.5,222.8 L620.0,222.8 L620.5,222.8 L621.0,222.9 L621.5,222.9 L622.0,222.9 L622.5,222.9 L623.0,222.9 L623.5,222.9 L624.0,222.9 L624.5,222.9 L625.0,223.0 L625.5,223.0 L626.0,223.0 L626.5,223.0 L627.0,223.0 L627.5,223.0 L628.0,223.0 L628.5,223.0 L629.0,223.0 L629.5,223.1 L630.0,223.1 L630.5,223.1 L631.0,223.1 L631.5,223.1 L632.0,223.1 L632.5,223.1 L633.0,223.1 L633.5,223.1 L634.0,223.2 L634.5,223.2 L635.0,223.2 L635.5,223.2 L636.0,223.2 L636.5,223.2 L637.0,223.2 L637.5,223.2 L638.0,223.3 L638.5,223.3 L639.0,223.3 L639.5,223.3 L640.0,223.3 L640.5,223.3 L641.0,223.3 L641.5,223.3 L642.0,223.3 L642.5,223.3 L643.0,223.4 L643.5,223.4 L644.0,223.4 L644.5,223.4 L645.0,223.4 L645.5,223.4 L646.0,223.4 L646.5,223.4 L647.0,223.4 L647.5,223.4 L648.0,223.4 L648.5,223.4 L649.0,223.5 L649.5,223.5 L650.0,223.5 L650.5,223.5 L651.0,223.5 L651.5,223.5 L652.0,223.5 L652.5,223.5 L653.0,223.5 L653.5,223.5 L654.0,223.5 L654.5,223.6 L655.0,223.6 L655.5,223.6 L656.0,223.6 L656.5,223.6 L657.0,223.6 L657.5,223.6 L658.0,223.6 L658.5,223.6 L659.0,223.6 L659.5,223.6 L660.0,223.6 L660.5,223.7 L661.0,223.7 L661.5,223.7 L662.0,223.7 L662.5,223.7 L663.0,223.7 L663.5,223.7 L664.0,223.7 L664.5,223.7 L665.0,223.7 L665.5,223.7 L666.0,223.7 L666.5,223.7 L667.0,223.8 L667.5,223.8 L668.0,223.8 L668.5,223.8" fill="none" stroke="#0000ff" stroke-width="2.2" stroke-linejoin="round" stroke-linecap="round" />
<path d="M396.0,203.5 L396.5,203.5 L397.0,203.5 L397.5,203.5 L398.0,203.5 L398.5,203.5 L399.0,203.6 L399.5,203.6 L400.0,203.6 L400.5,203.6 L401.0,203.6 L401.5,203.6 L402.0,203.6 L402.5,203.6 L403.0,203.6 L403.5,203.7 L404.0,203.7 L404.5,203.7 L405.0,203.7 L405.5,203.7 L406.0,203.7 L406.5,203.7 L407.0,203.7 L407.5,203.7 L408.0,203.8 L408.5,203.8 L409.0,203.8 L409.5,203.8 L410.0,203.8 L410.5,203.8 L411.0,203.8 L411.5,203.8 L412.0,203.8 L412.5,203.9 L413.0,203.9 L413.5,203.9 L414.0,203.9 L414.5,203.9 L415.0,203.9 L415.5,203.9 L416.0,203.9 L416.5,203.9 L417.0,204.0 L417.5,204.0 L418.0,204.0 L418.5,204.0 L419.0,204.0 L419.5,204.0 L420.0,204.0 L420.5,204.0 L421.0,204.0 L421.5,204.0 L422.0,204.1 L422.5,204.1 L423.0,204.1 L423.5,204.1 L424.0,204.1 L424.5,204.1 L425.0,204.1 L425.5,204.1 L426.0,204.1 L426.5,204.2 L427.0,204.2 L427.5,204.2 L428.0,204.2 L428.5,204.2 L429.0,204.2 L429.5,204.2 L430.0,204.2 L430.5,204.2 L431.0,204.3 L431.5,204.3 L432.0,204.3 L432.5,204.3 L433.0,204.3 L433.5,204.3 L434.0,204.3 L434.5,204.3 L435.0,204.3 L435.5,204.3 L436.0,204.4 L436.5,204.4 L437.0,204.4 L437.5,204.4 L438.0,204.4 L438.5,204.4 L439.0,204.4 L439.5,204.5 L440.0,204.5 L440.5,204.5 L441.0,204.5 L441.5,204.6 L442.0,204.6 L442.5,204.6 L443.0,204.6 L443.5,204.7 L444.0,204.7 L444.5,204.7 L445.0,204.8 L445.5,204.8 L446.0,204.8 L446.5,204.8 L447.0,204.9 L447.5,204.9 L448.0,204.9 L448.5,205.0 L449.0,205.0 L449.5,205.0 L450.0,205.1 L450.5,205.1 L451.0,205.1 L451.5,205.2 L452.0,205.2 L452.5,205.3 L453.0,205.3 L453.5,205.4 L454.0,205.4 L454.5,205.5 L455.0,205.6 L455.5,205.6 L456.0,205.7 L456.5,205.8 L457.0,205.9 L457.5,206.0 L458.0,206.1 L458.5,206.2 L459.0,206.3 L459.5,206.4 L460.0,206.5 L460.5,206.6 L461.0,206.8 L461.5,206.9 L462.0,207.0 L462.5,207.1 L463.0,207.2 L463.5,207.3 L464.0,207.4 L464.5,207.5 L465.0,207.6 L465.5,207.7 L466.0,207.8 L466.5,207.9 L467.0,207.9 L467.5,208.0 L468.0,208.1 L468.5,208.1 L469.0,208.2 L469.5,208.2 L470.0,208.2 L470.5,208.3 L471.0,208.3 L471.5,208.2 L472.0,208.2 L472.5,208.1 L473.0,208.1 L473.5,208.0 L474.0,207.9 L474.5,207.7 L475.0,207.5 L475.5,207.4 L476.0,207.2 L476.5,206.9 L477.0,206.7 L477.5,206.5 L478.0,206.3 L478.5,206.0 L479.0,205.8 L479.5,205.7 L480.0,205.6 L480.5,205.5 L481.0,205.5 L481.5,205.6 L482.0,205.7 L482.5,205.8 L483.0,206.0 L483.5,206.3 L484.0,206.6 L484.5,206.9 L485.0,207.2 L485.5,207.4 L486.0,207.7 L486.5,208.0 L487.0,208.3 L487.5,208.6 L488.0,208.8 L488.5,209.0 L489.0,209.2 L489.5,209.4 L490.0,209.6 L490.5,209.8 L491.0,209.9 L491.5,210.0 L492.0,210.2 L492.5,210.3 L493.0,210.4 L493.5,210.4 L494.0,210.5 L494.5,210.6 L495.0,210.7 L495.5,210.7 L496.0,210.8 L496.5,210.8 L497.0,210.9 L497.5,210.9 L498.0,211.0 L498.5,211.0 L499.0,211.0 L499.5,211.1 L500.0,211.1 L500.5,211.1 L501.0,211.2 L501.5,211.2 L502.0,211.2 L502.5,211.3 L503.0,211.3 L503.5,211.3 L504.0,211.3 L504.5,211.3 L505.0,211.4 L505.5,211.4 L506.0,211.4 L506.5,211.4 L507.0,211.5 L507.5,211.5 L508.0,211.5 L508.5,211.5 L509.0,211.5 L509.5,211.6 L510.0,211.6 L510.5,211.6 L511.0,211.6 L511.5,211.6 L512.0,211.7 L512.5,211.7 L513.0,211.7 L513.5,211.7 L514.0,211.7 L514.5,211.7 L515.0,211.8 L515.5,211.8 L516.0,211.8 L516.5,211.8 L517.0,211.8 L517.5,211.9 L518.0,211.9 L518.5,211.9 L519.0,211.9 L519.5,211.9 L520.0,211.9 L520.5,212.0 L521.0,212.0 L521.5,212.0 L522.0,212.0 L522.5,212.1 L523.0,212.1 L523.5,212.1 L524.0,212.1 L524.5,212.1 L525.0,212.2 L525.5,212.2 L526.0,212.2 L526.5,212.2 L527.0,212.3 L527.5,212.3 L528.0,212.3 L528.5,212.3 L529.0,212.4 L529.5,212.4 L530.0,212.4 L530.5,212.4 L531.0,212.5 L531.5,212.5 L532.0,212.5 L532.5,212.5 L533.0,212.5 L533.5,212.6 L534.0,212.6 L534.5,212.6 L535.0,212.6 L535.5,212.7 L536.0,212.7 L536.5,212.7 L537.0,212.7 L537.5,212.8 L538.0,212.8 L538.5,212.8 L539.0,212.8 L539.5,212.8 L540.0,212.9 L540.5,212.9 L541.0,212.9 L541.5,212.9 L542.0,213.0 L542.5,213.0 L543.0,213.0 L543.5,213.0 L544.0,213.1 L544.5,213.1 L545.0,213.1 L545.5,213.1 L546.0,213.1 L546.5,213.2 L547.0,213.2 L547.5,213.2 L548.0,213.2 L548.5,213.3 L549.0,213.3 L549.5,213.3 L550.0,213.3 L550.5,213.4 L551.0,213.4 L551.5,213.4 L552.0,213.4 L552.5,213.4 L553.0,213.5 L553.5,213.5 L554.0,213.5 L554.5,213.5 L555.0,213.6 L555.5,213.6 L556.0,213.6 L556.5,213.6 L557.0,213.7 L557.5,213.7 L558.0,213.7 L558.5,213.7 L559.0,213.8 L559.5,213.8 L560.0,213.8 L560.5,213.9 L561.0,213.9 L561.5,214.0 L562.0,214.0 L562.5,214.0 L563.0,214.1 L563.5,214.1 L564.0,214.2 L564.5,214.2 L565.0,214.3 L565.5,214.3 L566.0,214.3 L566.5,214.4 L567.0,214.4 L567.5,214.5 L568.0,214.5 L568.5,214.6 L569.0,214.6 L569.5,214.7 L570.0,214.7 L570.5,214.8 L571.0,214.8 L571.5,214.9 L572.0,214.9 L572.5,215.0 L573.0,215.1 L573.5,215.1 L574.0,215.2 L574.5,215.3 L575.0,215.4 L575.5,215.5 L576.0,215.6 L576.5,215.7 L577.0,215.8 L577.5,215.9 L578.0,216.0 L578.5,216.1 L579.0,216.2 L579.5,216.3 L580.0,216.4 L580.5,216.5 L581.0,216.6 L581.5,216.7 L582.0,216.8 L582.5,216.9 L583.0,217.0 L583.5,217.1 L584.0,217.2 L584.5,217.2 L585.0,217.3 L585.5,217.4 L586.0,217.4 L586.5,217.5 L587.0,217.5 L587.5,217.5 L588.0,217.6 L588.5,217.6 L589.0,217.6 L589.5,217.7 L590.0,217.7 L590.5,217.7 L591.0,217.7 L591.5,217.7 L592.0,217.8 L592.5,217.8 L593.0,217.8 L593.5,217.8 L594.0,217.9 L594.5,217.9 L595.0,218.0 L595.5,218.0 L596.0,218.1 L596.5,218.1 L597.0,218.2 L597.5,218.3 L598.0,218.4 L598.5,218.5 L599.0,218.6 L599.5,218.7 L600.0,218.8 L600.5,218.9 L601.0,219.0 L601.5,219.1 L602.0,219.3 L602.5,219.4 L603.0,219.5 L603.5,219.7 L604.0,219.8 L604.5,220.0 L605.0,220.1 L605.5,220.3 L606.0,220.4 L606.5,220.6 L607.0,220.7 L607.5,220.9 L608.0,221.0 L608.5,221.2 L609.0,221.3 L609.5,221.4 L610.0,221.5 L610.5,221.7 L611.0,221.8 L611.5,221.9 L612.0,222.0 L612.5,222.1 L613.0,222.1 L613.5,222.2 L614.0,222.3 L614.5,222.3 L615.0,222.4 L615.5,222.4 L616.0,222.5 L616.5,222.5 L617.0,222.6 L617.5,222.6 L618.0,222.6 L618.5,222.7 L619.0,222.7 L619.5,222.7 L620.0,222.8 L620.5,222.8 L621.0,222.8 L621.5,222.8 L622.0,222.8 L622.5,222.9 L623.0,222.9 L623.5,222.9 L624.0,222.9 L624.5,222.9 L625.0,222.9 L625.5,222.9 L626.0,223.0 L626.5,223.0 L627.0,223.0 L627.5,223.0 L628.0,223.0 L628.5,223.0 L629.0,223.0 L629.5,223.0 L630.0,223.1 L630.5,223.1 L631.0,223.1 L631.5,223.1 L632.0,223.1 L632.5,223.1 L633.0,223.1 L633.5,223.1 L634.0,223.2 L634.5,223.2 L635.0,223.2 L635.5,223.2 L636.0,223.2 L636.5,223.2 L637.0,223.2 L637.5,223.2 L638.0,223.2 L638.5,223.3 L639.0,223.3 L639.5,223.3 L640.0,223.3 L640.5,223.3 L641.0,223.3 L641.5,223.3 L642.0,223.3 L642.5,223.3 L643.0,223.3 L643.5,223.4 L644.0,223.4 L644.5,223.4 L645.0,223.4 L645.5,223.4 L646.0,223.4 L646.5,223.4 L647.0,223.4 L647.5,223.4 L648.0,223.4 L648.5,223.4 L649.0,223.5 L649.5,223.5 L650.0,223.5 L650.5,223.5 L651.0,223.5 L651.5,223.5 L652.0,223.5 L652.5,223.5 L653.0,223.5 L653.5,223.5 L654.0,223.5 L654.5,223.5 L655.0,223.6 L655.5,223.6 L656.0,223.6 L656.5,223.6 L657.0,223.6 L657.5,223.6 L658.0,223.6 L658.5,223.6 L659.0,223.6 L659.5,223.6 L660.0,223.6 L660.5,223.7 L661.0,223.7 L661.5,223.7 L662.0,223.7 L662.5,223.7 L663.0,223.7 L663.5,223.7 L664.0,223.7 L664.5,223.7 L665.0,223.7 L665.5,223.7 L666.0,223.7 L666.5,223.7 L667.0,223.8 L667.5,223.8 L668.0,223.8 L668.5,223.8" fill="none" stroke="#0b7f7f" stroke-width="2.9" stroke-linejoin="round" stroke-linecap="round" />
<path d="M396.0,203.5 L396.5,203.5 L397.0,203.5 L397.5,203.5 L398.0,203.6 L398.5,203.6 L399.0,203.6 L399.5,203.6 L400.0,203.6 L400.5,203.6 L401.0,203.6 L401.5,203.6 L402.0,203.6 L402.5,203.6 L403.0,203.7 L403.5,203.7 L404.0,203.7 L404.5,203.7 L405.0,203.7 L405.5,203.7 L406.0,203.7 L406.5,203.7 L407.0,203.7 L407.5,203.8 L408.0,203.8 L408.5,203.8 L409.0,203.8 L409.5,203.8 L410.0,203.8 L410.5,203.8 L411.0,203.8 L411.5,203.8 L412.0,203.9 L412.5,203.9 L413.0,203.9 L413.5,203.9 L414.0,203.9 L414.5,203.9 L415.0,203.9 L415.5,203.9 L416.0,203.9 L416.5,204.0 L417.0,204.0 L417.5,204.0 L418.0,204.0 L418.5,204.0 L419.0,204.0 L419.5,204.0 L420.0,204.0 L420.5,204.1 L421.0,204.1 L421.5,204.1 L422.0,204.1 L422.5,204.1 L423.0,204.1 L423.5,204.1 L424.0,204.1 L424.5,204.1 L425.0,204.2 L425.5,204.2 L426.0,204.2 L426.5,204.2 L427.0,204.2 L427.5,204.2 L428.0,204.2 L428.5,204.2 L429.0,204.2 L429.5,204.3 L430.0,204.3 L430.5,204.3 L431.0,204.3 L431.5,204.3 L432.0,204.3 L432.5,204.3 L433.0,204.3 L433.5,204.3 L434.0,204.4 L434.5,204.4 L435.0,204.4 L435.5,204.4 L436.0,204.4 L436.5,204.4 L437.0,204.4 L437.5,204.5 L438.0,204.5 L438.5,204.5 L439.0,204.5 L439.5,204.5 L440.0,204.5 L440.5,204.6 L441.0,204.6 L441.5,204.6 L442.0,204.6 L442.5,204.7 L443.0,204.7 L443.5,204.7 L444.0,204.8 L444.5,204.8 L445.0,204.8 L445.5,204.9 L446.0,204.9 L446.5,204.9 L447.0,205.0 L447.5,205.0 L448.0,205.0 L448.5,205.1 L449.0,205.1 L449.5,205.1 L450.0,205.2 L450.5,205.2 L451.0,205.2 L451.5,205.3 L452.0,205.3 L452.5,205.4 L453.0,205.4 L453.5,205.5 L454.0,205.6 L454.5,205.6 L455.0,205.7 L455.5,205.8 L456.0,205.9 L456.5,206.0 L457.0,206.1 L457.5,206.2 L458.0,206.3 L458.5,206.4 L459.0,206.5 L459.5,206.6 L460.0,206.8 L460.5,206.9 L461.0,207.0 L461.5,207.1 L462.0,207.2 L462.5,207.4 L463.0,207.5 L463.5,207.6 L464.0,207.7 L464.5,207.8 L465.0,208.0 L465.5,208.1 L466.0,208.2 L466.5,208.3 L467.0,208.4 L467.5,208.6 L468.0,208.7 L468.5,208.8 L469.0,208.9 L469.5,209.0 L470.0,209.1 L470.5,209.2 L471.0,209.3 L471.5,209.5 L472.0,209.6 L472.5,209.7 L473.0,209.7 L473.5,209.8 L474.0,209.9 L474.5,210.0 L475.0,210.1 L475.5,210.1 L476.0,210.2 L476.5,210.2 L477.0,210.3 L477.5,210.3 L478.0,210.4 L478.5,210.4 L479.0,210.4 L479.5,210.5 L480.0,210.5 L480.5,210.5 L481.0,210.5 L481.5,210.6 L482.0,210.6 L482.5,210.6 L483.0,210.6 L483.5,210.7 L484.0,210.7 L484.5,210.7 L485.0,210.7 L485.5,210.8 L486.0,210.8 L486.5,210.8 L487.0,210.8 L487.5,210.8 L488.0,210.9 L488.5,210.9 L489.0,210.9 L489.5,210.9 L490.0,210.9 L490.5,211.0 L491.0,211.0 L491.5,211.0 L492.0,211.0 L492.5,211.1 L493.0,211.1 L493.5,211.1 L494.0,211.1 L494.5,211.1 L495.0,211.2 L495.5,211.2 L496.0,211.2 L496.5,211.2 L497.0,211.3 L497.5,211.3 L498.0,211.3 L498.5,211.3 L499.0,211.3 L499.5,211.3 L500.0,211.4 L500.5,211.4 L501.0,211.4 L501.5,211.4 L502.0,211.4 L502.5,211.5 L503.0,211.5 L503.5,211.5 L504.0,211.5 L504.5,211.5 L505.0,211.5 L505.5,211.5 L506.0,211.6 L506.5,211.6 L507.0,211.6 L507.5,211.6 L508.0,211.6 L508.5,211.6 L509.0,211.7 L509.5,211.7 L510.0,211.7 L510.5,211.7 L511.0,211.7 L511.5,211.7 L512.0,211.7 L512.5,211.8 L513.0,211.8 L513.5,211.8 L514.0,211.8 L514.5,211.8 L515.0,211.8 L515.5,211.8 L516.0,211.9 L516.5,211.9 L517.0,211.9 L517.5,211.9 L518.0,211.9 L518.5,211.9 L519.0,212.0 L519.5,212.0 L520.0,212.0 L520.5,212.0 L521.0,212.0 L521.5,212.1 L522.0,212.1 L522.5,212.1 L523.0,212.1 L523.5,212.1 L524.0,212.2 L524.5,212.2 L525.0,212.2 L525.5,212.2 L526.0,212.2 L526.5,212.3 L527.0,212.3 L527.5,212.3 L528.0,212.3 L528.5,212.4 L529.0,212.4 L529.5,212.4 L530.0,212.4 L530.5,212.4 L531.0,212.5 L531.5,212.5 L532.0,212.5 L532.5,212.5 L533.0,212.6 L533.5,212.6 L534.0,212.6 L534.5,212.6 L535.0,212.6 L535.5,212.7 L536.0,212.7 L536.5,212.7 L537.0,212.7 L537.5,212.8 L538.0,212.8 L538.5,212.8 L539.0,212.8 L539.5,212.8 L540.0,212.9 L540.5,212.9 L541.0,212.9 L541.5,212.9 L542.0,213.0 L542.5,213.0 L543.0,213.0 L543.5,213.0 L544.0,213.0 L544.5,213.1 L545.0,213.1 L545.5,213.1 L546.0,213.1 L546.5,213.1 L547.0,213.2 L547.5,213.2 L548.0,213.2 L548.5,213.2 L549.0,213.3 L549.5,213.3 L550.0,213.3 L550.5,213.3 L551.0,213.3 L551.5,213.4 L552.0,213.4 L552.5,213.4 L553.0,213.4 L553.5,213.5 L554.0,213.5 L554.5,213.5 L555.0,213.5 L555.5,213.5 L556.0,213.6 L556.5,213.6 L557.0,213.6 L557.5,213.6 L558.0,213.7 L558.5,213.7 L559.0,213.7 L559.5,213.8 L560.0,213.8 L560.5,213.8 L561.0,213.9 L561.5,213.9 L562.0,213.9 L562.5,214.0 L563.0,214.0 L563.5,214.1 L564.0,214.1 L564.5,214.1 L565.0,214.2 L565.5,214.2 L566.0,214.3 L566.5,214.3 L567.0,214.4 L567.5,214.4 L568.0,214.4 L568.5,214.5 L569.0,214.5 L569.5,214.6 L570.0,214.6 L570.5,214.7 L571.0,214.7 L571.5,214.8 L572.0,214.8 L572.5,214.9 L573.0,214.9 L573.5,215.0 L574.0,215.1 L574.5,215.2 L575.0,215.2 L575.5,215.3 L576.0,215.4 L576.5,215.5 L577.0,215.6 L577.5,215.7 L578.0,215.8 L578.5,215.9 L579.0,216.0 L579.5,216.1 L580.0,216.2 L580.5,216.3 L581.0,216.4 L581.5,216.5 L582.0,216.6 L582.5,216.7 L583.0,216.8 L583.5,216.8 L584.0,216.9 L584.5,217.0 L585.0,217.0 L585.5,217.1 L586.0,217.1 L586.5,217.1 L587.0,217.2 L587.5,217.2 L588.0,217.2 L588.5,217.2 L589.0,217.2 L589.5,217.2 L590.0,217.2 L590.5,217.2 L591.0,217.2 L591.5,217.2 L592.0,217.2 L592.5,217.2 L593.0,217.2 L593.5,217.2 L594.0,217.2 L594.5,217.2 L595.0,217.1 L595.5,217.1 L596.0,217.1 L596.5,217.1 L597.0,217.0 L597.5,217.0 L598.0,216.9 L598.5,216.9 L599.0,216.8 L599.5,216.7 L600.0,216.6 L600.5,216.4 L601.0,216.3 L601.5,216.1 L602.0,215.9 L602.5,215.7 L603.0,215.4 L603.5,215.2 L604.0,214.9 L604.5,214.6 L605.0,214.3 L605.5,214.0 L606.0,213.7 L606.5,213.5 L607.0,213.3 L607.5,213.1 L608.0,213.0 L608.5,213.0 L609.0,213.1 L609.5,213.3 L610.0,213.5 L610.5,213.9 L611.0,214.3 L611.5,214.8 L612.0,215.3 L612.5,215.8 L613.0,216.3 L613.5,216.8 L614.0,217.3 L614.5,217.8 L615.0,218.3 L615.5,218.7 L616.0,219.1 L616.5,219.5 L617.0,219.9 L617.5,220.2 L618.0,220.4 L618.5,220.7 L619.0,220.9 L619.5,221.1 L620.0,221.3 L620.5,221.5 L621.0,221.6 L621.5,221.7 L622.0,221.9 L622.5,222.0 L623.0,222.0 L623.5,222.1 L624.0,222.2 L624.5,222.3 L625.0,222.3 L625.5,222.4 L626.0,222.4 L626.5,222.5 L627.0,222.5 L627.5,222.5 L628.0,222.6 L628.5,222.6 L629.0,222.6 L629.5,222.7 L630.0,222.7 L630.5,222.7 L631.0,222.7 L631.5,222.8 L632.0,222.8 L632.5,222.8 L633.0,222.8 L633.5,222.9 L634.0,222.9 L634.5,222.9 L635.0,222.9 L635.5,223.0 L636.0,223.0 L636.5,223.0 L637.0,223.0 L637.5,223.0 L638.0,223.0 L638.5,223.1 L639.0,223.1 L639.5,223.1 L640.0,223.1 L640.5,223.1 L641.0,223.1 L641.5,223.2 L642.0,223.2 L642.5,223.2 L643.0,223.2 L643.5,223.2 L644.0,223.2 L644.5,223.2 L645.0,223.3 L645.5,223.3 L646.0,223.3 L646.5,223.3 L647.0,223.3 L647.5,223.3 L648.0,223.3 L648.5,223.3 L649.0,223.3 L649.5,223.4 L650.0,223.4 L650.5,223.4 L651.0,223.4 L651.5,223.4 L652.0,223.4 L652.5,223.4 L653.0,223.4 L653.5,223.4 L654.0,223.5 L654.5,223.5 L655.0,223.5 L655.5,223.5 L656.0,223.5 L656.5,223.5 L657.0,223.5 L657.5,223.5 L658.0,223.5 L658.5,223.5 L659.0,223.6 L659.5,223.6 L660.0,223.6 L660.5,223.6 L661.0,223.6 L661.5,223.6 L662.0,223.6 L662.5,223.6 L663.0,223.6 L663.5,223.6 L664.0,223.7 L664.5,223.7 L665.0,223.7 L665.5,223.7 L666.0,223.7 L666.5,223.7 L667.0,223.7 L667.5,223.7 L668.0,223.7 L668.5,223.7" fill="none" stroke="#0b7f7f" stroke-width="2.9" stroke-linejoin="round" stroke-linecap="round" />
<path d="M396.0,203.4 L396.5,203.4 L397.0,203.4 L397.5,203.5 L398.0,203.5 L398.5,203.5 L399.0,203.5 L399.5,203.5 L400.0,203.5 L400.5,203.5 L401.0,203.5 L401.5,203.5 L402.0,203.5 L402.5,203.5 L403.0,203.5 L403.5,203.6 L404.0,203.6 L404.5,203.6 L405.0,203.6 L405.5,203.6 L406.0,203.6 L406.5,203.6 L407.0,203.6 L407.5,203.6 L408.0,203.6 L408.5,203.7 L409.0,203.7 L409.5,203.7 L410.0,203.7 L410.5,203.7 L411.0,203.7 L411.5,203.7 L412.0,203.7 L412.5,203.7 L413.0,203.7 L413.5,203.7 L414.0,203.7 L414.5,203.8 L415.0,203.8 L415.5,203.8 L416.0,203.8 L416.5,203.8 L417.0,203.8 L417.5,203.8 L418.0,203.8 L418.5,203.8 L419.0,203.8 L419.5,203.8 L420.0,203.8 L420.5,203.8 L421.0,203.8 L421.5,203.9 L422.0,203.9 L422.5,203.9 L423.0,203.9 L423.5,203.9 L424.0,203.9 L424.5,203.9 L425.0,203.9 L425.5,203.9 L426.0,203.9 L426.5,203.9 L427.0,203.9 L427.5,203.9 L428.0,203.9 L428.5,203.9 L429.0,203.9 L429.5,203.9 L430.0,203.9 L430.5,203.9 L431.0,203.9 L431.5,203.9 L432.0,203.9 L432.5,203.9 L433.0,203.9 L433.5,203.9 L434.0,203.9 L434.5,203.9 L435.0,203.9 L435.5,203.9 L436.0,203.9 L436.5,203.9 L437.0,203.9 L437.5,203.9 L438.0,203.9 L438.5,203.9 L439.0,203.9 L439.5,203.9 L440.0,203.9 L440.5,203.9 L441.0,203.9 L441.5,203.8 L442.0,203.8 L442.5,203.8 L443.0,203.8 L443.5,203.8 L444.0,203.8 L444.5,203.8 L445.0,203.8 L445.5,203.7 L446.0,203.7 L446.5,203.6 L447.0,203.6 L447.5,203.5 L448.0,203.4 L448.5,203.3 L449.0,203.1 L449.5,202.9 L450.0,202.7 L450.5,202.3 L451.0,201.9 L451.5,201.3 L452.0,200.5 L452.5,199.6 L453.0,198.4 L453.5,196.9 L454.0,195.1 L454.5,193.0 L455.0,190.4 L455.5,187.3 L456.0,183.8 L456.5,179.7 L457.0,175.1 L457.5,170.1 L458.0,164.5 L458.5,158.6 L459.0,152.4 L459.5,146.0 L460.0,139.6 L460.5,133.3 L461.0,127.3 L461.5,121.8 L462.0,117.0 L462.5,113.1 L463.0,110.3 L463.5,108.7 L464.0,108.5 L464.5,109.5 L465.0,111.8 L465.5,115.3 L466.0,119.8 L466.5,125.2 L467.0,131.1 L467.5,137.5 L468.0,144.1 L468.5,150.8 L469.0,157.4 L469.5,163.7 L470.0,169.7 L470.5,175.2 L471.0,180.3 L471.5,184.9 L472.0,188.9 L472.5,192.5 L473.0,195.5 L473.5,198.1 L474.0,200.3 L474.5,202.1 L475.0,203.5 L475.5,204.7 L476.0,205.7 L476.5,206.5 L477.0,207.1 L477.5,207.6 L478.0,208.0 L478.5,208.3 L479.0,208.6 L479.5,208.8 L480.0,209.0 L480.5,209.1 L481.0,209.2 L481.5,209.3 L482.0,209.4 L482.5,209.5 L483.0,209.6 L483.5,209.7 L484.0,209.7 L484.5,209.8 L485.0,209.9 L485.5,209.9 L486.0,210.0 L486.5,210.0 L487.0,210.1 L487.5,210.1 L488.0,210.2 L488.5,210.2 L489.0,210.3 L489.5,210.3 L490.0,210.4 L490.5,210.4 L491.0,210.5 L491.5,210.5 L492.0,210.5 L492.5,210.6 L493.0,210.6 L493.5,210.7 L494.0,210.7 L494.5,210.7 L495.0,210.8 L495.5,210.8 L496.0,210.8 L496.5,210.9 L497.0,210.9 L497.5,210.9 L498.0,211.0 L498.5,211.0 L499.0,211.0 L499.5,211.0 L500.0,211.1 L500.5,211.1 L501.0,211.1 L501.5,211.2 L502.0,211.2 L502.5,211.2 L503.0,211.2 L503.5,211.2 L504.0,211.3 L504.5,211.3 L505.0,211.3 L505.5,211.3 L506.0,211.4 L506.5,211.4 L507.0,211.4 L507.5,211.4 L508.0,211.4 L508.5,211.5 L509.0,211.5 L509.5,211.5 L510.0,211.5 L510.5,211.5 L511.0,211.5 L511.5,211.6 L512.0,211.6 L512.5,211.6 L513.0,211.6 L513.5,211.6 L514.0,211.7 L514.5,211.7 L515.0,211.7 L515.5,211.7 L516.0,211.7 L516.5,211.8 L517.0,211.8 L517.5,211.8 L518.0,211.8 L518.5,211.8 L519.0,211.8 L519.5,211.9 L520.0,211.9 L520.5,211.9 L521.0,211.9 L521.5,212.0 L522.0,212.0 L522.5,212.0 L523.0,212.0 L523.5,212.0 L524.0,212.1 L524.5,212.1 L525.0,212.1 L525.5,212.1 L526.0,212.2 L526.5,212.2 L527.0,212.2 L527.5,212.2 L528.0,212.3 L528.5,212.3 L529.0,212.3 L529.5,212.3 L530.0,212.4 L530.5,212.4 L531.0,212.4 L531.5,212.4 L532.0,212.5 L532.5,212.5 L533.0,212.5 L533.5,212.5 L534.0,212.5 L534.5,212.6 L535.0,212.6 L535.5,212.6 L536.0,212.6 L536.5,212.7 L537.0,212.7 L537.5,212.7 L538.0,212.7 L538.5,212.8 L539.0,212.8 L539.5,212.8 L540.0,212.8 L540.5,212.9 L541.0,212.9 L541.5,212.9 L542.0,212.9 L542.5,212.9 L543.0,213.0 L543.5,213.0 L544.0,213.0 L544.5,213.0 L545.0,213.1 L545.5,213.1 L546.0,213.1 L546.5,213.1 L547.0,213.2 L547.5,213.2 L548.0,213.2 L548.5,213.2 L549.0,213.2 L549.5,213.3 L550.0,213.3 L550.5,213.3 L551.0,213.3 L551.5,213.4 L552.0,213.4 L552.5,213.4 L553.0,213.4 L553.5,213.5 L554.0,213.5 L554.5,213.5 L555.0,213.5 L555.5,213.6 L556.0,213.6 L556.5,213.6 L557.0,213.6 L557.5,213.7 L558.0,213.7 L558.5,213.7 L559.0,213.7 L559.5,213.8 L560.0,213.8 L560.5,213.8 L561.0,213.9 L561.5,213.9 L562.0,214.0 L562.5,214.0 L563.0,214.1 L563.5,214.1 L564.0,214.1 L564.5,214.2 L565.0,214.2 L565.5,214.3 L566.0,214.3 L566.5,214.4 L567.0,214.4 L567.5,214.5 L568.0,214.5 L568.5,214.6 L569.0,214.6 L569.5,214.7 L570.0,214.7 L570.5,214.8 L571.0,214.8 L571.5,214.9 L572.0,214.9 L572.5,215.0 L573.0,215.0 L573.5,215.1 L574.0,215.2 L574.5,215.3 L575.0,215.4 L575.5,215.4 L576.0,215.5 L576.5,215.6 L577.0,215.7 L577.5,215.9 L578.0,216.0 L578.5,216.1 L579.0,216.2 L579.5,216.3 L580.0,216.4 L580.5,216.5 L581.0,216.6 L581.5,216.7 L582.0,216.8 L582.5,216.9 L583.0,217.0 L583.5,217.1 L584.0,217.1 L584.5,217.2 L585.0,217.3 L585.5,217.3 L586.0,217.4 L586.5,217.4 L587.0,217.5 L587.5,217.5 L588.0,217.6 L588.5,217.6 L589.0,217.6 L589.5,217.6 L590.0,217.7 L590.5,217.7 L591.0,217.7 L591.5,217.7 L592.0,217.7 L592.5,217.8 L593.0,217.8 L593.5,217.8 L594.0,217.9 L594.5,217.9 L595.0,218.0 L595.5,218.0 L596.0,218.1 L596.5,218.1 L597.0,218.2 L597.5,218.3 L598.0,218.4 L598.5,218.5 L599.0,218.5 L599.5,218.7 L600.0,218.8 L600.5,218.9 L601.0,219.0 L601.5,219.1 L602.0,219.2 L602.5,219.4 L603.0,219.5 L603.5,219.7 L604.0,219.8 L604.5,220.0 L605.0,220.1 L605.5,220.3 L606.0,220.4 L606.5,220.6 L607.0,220.7 L607.5,220.9 L608.0,221.0 L608.5,221.2 L609.0,221.3 L609.5,221.4 L610.0,221.5 L610.5,221.6 L611.0,221.8 L611.5,221.9 L612.0,222.0 L612.5,222.0 L613.0,222.1 L613.5,222.2 L614.0,222.3 L614.5,222.3 L615.0,222.4 L615.5,222.4 L616.0,222.5 L616.5,222.5 L617.0,222.6 L617.5,222.6 L618.0,222.6 L618.5,222.7 L619.0,222.7 L619.5,222.7 L620.0,222.7 L620.5,222.8 L621.0,222.8 L621.5,222.8 L622.0,222.8 L622.5,222.8 L623.0,222.9 L623.5,222.9 L624.0,222.9 L624.5,222.9 L625.0,222.9 L625.5,222.9 L626.0,223.0 L626.5,223.0 L627.0,223.0 L627.5,223.0 L628.0,223.0 L628.5,223.0 L629.0,223.0 L629.5,223.0 L630.0,223.1 L630.5,223.1 L631.0,223.1 L631.5,223.1 L632.0,223.1 L632.5,223.1 L633.0,223.1 L633.5,223.1 L634.0,223.1 L634.5,223.2 L635.0,223.2 L635.5,223.2 L636.0,223.2 L636.5,223.2 L637.0,223.2 L637.5,223.2 L638.0,223.2 L638.5,223.2 L639.0,223.3 L639.5,223.3 L640.0,223.3 L640.5,223.3 L641.0,223.3 L641.5,223.3 L642.0,223.3 L642.5,223.3 L643.0,223.3 L643.5,223.3 L644.0,223.4 L644.5,223.4 L645.0,223.4 L645.5,223.4 L646.0,223.4 L646.5,223.4 L647.0,223.4 L647.5,223.4 L648.0,223.4 L648.5,223.4 L649.0,223.4 L649.5,223.5 L650.0,223.5 L650.5,223.5 L651.0,223.5 L651.5,223.5 L652.0,223.5 L652.5,223.5 L653.0,223.5 L653.5,223.5 L654.0,223.5 L654.5,223.5 L655.0,223.5 L655.5,223.6 L656.0,223.6 L656.5,223.6 L657.0,223.6 L657.5,223.6 L658.0,223.6 L658.5,223.6 L659.0,223.6 L659.5,223.6 L660.0,223.6 L660.5,223.6 L661.0,223.7 L661.5,223.7 L662.0,223.7 L662.5,223.7 L663.0,223.7 L663.5,223.7 L664.0,223.7 L664.5,223.7 L665.0,223.7 L665.5,223.7 L666.0,223.7 L666.5,223.7 L667.0,223.7 L667.5,223.8 L668.0,223.8 L668.5,223.8" fill="none" stroke="#ff00ff" stroke-width="2.9" stroke-linejoin="round" stroke-linecap="round" />
<path d="M396.0,203.5 L396.5,203.5 L397.0,203.5 L397.5,203.5 L398.0,203.5 L398.5,203.5 L399.0,203.6 L399.5,203.6 L400.0,203.6 L400.5,203.6 L401.0,203.6 L401.5,203.6 L402.0,203.6 L402.5,203.6 L403.0,203.6 L403.5,203.6 L404.0,203.7 L404.5,203.7 L405.0,203.7 L405.5,203.7 L406.0,203.7 L406.5,203.7 L407.0,203.7 L407.5,203.7 L408.0,203.7 L408.5,203.8 L409.0,203.8 L409.5,203.8 L410.0,203.8 L410.5,203.8 L411.0,203.8 L411.5,203.8 L412.0,203.8 L412.5,203.8 L413.0,203.9 L413.5,203.9 L414.0,203.9 L414.5,203.9 L415.0,203.9 L415.5,203.9 L416.0,203.9 L416.5,203.9 L417.0,204.0 L417.5,204.0 L418.0,204.0 L418.5,204.0 L419.0,204.0 L419.5,204.0 L420.0,204.0 L420.5,204.0 L421.0,204.0 L421.5,204.1 L422.0,204.1 L422.5,204.1 L423.0,204.1 L423.5,204.1 L424.0,204.1 L424.5,204.1 L425.0,204.1 L425.5,204.1 L426.0,204.2 L426.5,204.2 L427.0,204.2 L427.5,204.2 L428.0,204.2 L428.5,204.2 L429.0,204.2 L429.5,204.2 L430.0,204.2 L430.5,204.3 L431.0,204.3 L431.5,204.3 L432.0,204.3 L432.5,204.3 L433.0,204.3 L433.5,204.3 L434.0,204.3 L434.5,204.3 L435.0,204.4 L435.5,204.4 L436.0,204.4 L436.5,204.4 L437.0,204.4 L437.5,204.4 L438.0,204.4 L438.5,204.5 L439.0,204.5 L439.5,204.5 L440.0,204.5 L440.5,204.5 L441.0,204.6 L441.5,204.6 L442.0,204.6 L442.5,204.6 L443.0,204.7 L443.5,204.7 L444.0,204.7 L444.5,204.8 L445.0,204.8 L445.5,204.8 L446.0,204.9 L446.5,204.9 L447.0,204.9 L447.5,205.0 L448.0,205.0 L448.5,205.0 L449.0,205.1 L449.5,205.1 L450.0,205.1 L450.5,205.2 L451.0,205.2 L451.5,205.3 L452.0,205.3 L452.5,205.4 L453.0,205.4 L453.5,205.5 L454.0,205.5 L454.5,205.6 L455.0,205.7 L455.5,205.8 L456.0,205.8 L456.5,205.9 L457.0,206.0 L457.5,206.1 L458.0,206.2 L458.5,206.4 L459.0,206.5 L459.5,206.6 L460.0,206.7 L460.5,206.8 L461.0,207.0 L461.5,207.1 L462.0,207.2 L462.5,207.3 L463.0,207.4 L463.5,207.6 L464.0,207.7 L464.5,207.8 L465.0,207.9 L465.5,208.0 L466.0,208.2 L466.5,208.3 L467.0,208.4 L467.5,208.5 L468.0,208.6 L468.5,208.7 L469.0,208.9 L469.5,209.0 L470.0,209.1 L470.5,209.2 L471.0,209.3 L471.5,209.4 L472.0,209.5 L472.5,209.6 L473.0,209.7 L473.5,209.8 L474.0,209.9 L474.5,209.9 L475.0,210.0 L475.5,210.1 L476.0,210.1 L476.5,210.2 L477.0,210.2 L477.5,210.3 L478.0,210.3 L478.5,210.4 L479.0,210.4 L479.5,210.4 L480.0,210.4 L480.5,210.5 L481.0,210.5 L481.5,210.5 L482.0,210.5 L482.5,210.6 L483.0,210.6 L483.5,210.6 L484.0,210.6 L484.5,210.6 L485.0,210.7 L485.5,210.7 L486.0,210.7 L486.5,210.7 L487.0,210.8 L487.5,210.8 L488.0,210.8 L488.5,210.8 L489.0,210.8 L489.5,210.9 L490.0,210.9 L490.5,210.9 L491.0,210.9 L491.5,210.9 L492.0,211.0 L492.5,211.0 L493.0,211.0 L493.5,211.0 L494.0,211.1 L494.5,211.1 L495.0,211.1 L495.5,211.1 L496.0,211.1 L496.5,211.2 L497.0,211.2 L497.5,211.2 L498.0,211.2 L498.5,211.2 L499.0,211.3 L499.5,211.3 L500.0,211.3 L500.5,211.3 L501.0,211.3 L501.5,211.3 L502.0,211.4 L502.5,211.4 L503.0,211.4 L503.5,211.4 L504.0,211.4 L504.5,211.4 L505.0,211.4 L505.5,211.5 L506.0,211.5 L506.5,211.5 L507.0,211.5 L507.5,211.5 L508.0,211.5 L508.5,211.5 L509.0,211.6 L509.5,211.6 L510.0,211.6 L510.5,211.6 L511.0,211.6 L511.5,211.6 L512.0,211.6 L512.5,211.6 L513.0,211.7 L513.5,211.7 L514.0,211.7 L514.5,211.7 L515.0,211.7 L515.5,211.7 L516.0,211.7 L516.5,211.8 L517.0,211.8 L517.5,211.8 L518.0,211.8 L518.5,211.8 L519.0,211.8 L519.5,211.8 L520.0,211.9 L520.5,211.9 L521.0,211.9 L521.5,211.9 L522.0,211.9 L522.5,211.9 L523.0,212.0 L523.5,212.0 L524.0,212.0 L524.5,212.0 L525.0,212.0 L525.5,212.1 L526.0,212.1 L526.5,212.1 L527.0,212.1 L527.5,212.1 L528.0,212.2 L528.5,212.2 L529.0,212.2 L529.5,212.2 L530.0,212.2 L530.5,212.3 L531.0,212.3 L531.5,212.3 L532.0,212.3 L532.5,212.3 L533.0,212.4 L533.5,212.4 L534.0,212.4 L534.5,212.4 L535.0,212.4 L535.5,212.4 L536.0,212.5 L536.5,212.5 L537.0,212.5 L537.5,212.5 L538.0,212.5 L538.5,212.6 L539.0,212.6 L539.5,212.6 L540.0,212.6 L540.5,212.6 L541.0,212.6 L541.5,212.7 L542.0,212.7 L542.5,212.7 L543.0,212.7 L543.5,212.7 L544.0,212.7 L544.5,212.7 L545.0,212.8 L545.5,212.8 L546.0,212.8 L546.5,212.8 L547.0,212.8 L547.5,212.8 L548.0,212.8 L548.5,212.9 L549.0,212.9 L549.5,212.9 L550.0,212.9 L550.5,212.9 L551.0,212.9 L551.5,212.9 L552.0,212.9 L552.5,213.0 L553.0,213.0 L553.5,213.0 L554.0,213.0 L554.5,213.0 L555.0,213.0 L555.5,213.0 L556.0,213.0 L556.5,213.0 L557.0,213.0 L557.5,213.0 L558.0,213.1 L558.5,213.1 L559.0,213.1 L559.5,213.1 L560.0,213.1 L560.5,213.1 L561.0,213.1 L561.5,213.1 L562.0,213.1 L562.5,213.2 L563.0,213.2 L563.5,213.2 L564.0,213.2 L564.5,213.2 L565.0,213.2 L565.5,213.2 L566.0,213.2 L566.5,213.2 L567.0,213.2 L567.5,213.2 L568.0,213.2 L568.5,213.2 L569.0,213.2 L569.5,213.2 L570.0,213.2 L570.5,213.2 L571.0,213.2 L571.5,213.1 L572.0,213.1 L572.5,213.0 L573.0,213.0 L573.5,212.9 L574.0,212.8 L574.5,212.7 L575.0,212.5 L575.5,212.3 L576.0,212.1 L576.5,211.8 L577.0,211.3 L577.5,210.8 L578.0,210.1 L578.5,209.2 L579.0,208.2 L579.5,206.8 L580.0,205.2 L580.5,203.3 L581.0,200.9 L581.5,198.2 L582.0,194.9 L582.5,191.2 L583.0,186.9 L583.5,182.0 L584.0,176.6 L584.5,170.5 L585.0,163.9 L585.5,156.8 L586.0,149.2 L586.5,141.2 L587.0,133.0 L587.5,124.6 L588.0,116.1 L588.5,107.8 L589.0,99.9 L589.5,92.4 L590.0,85.6 L590.5,79.8 L591.0,75.0 L591.5,71.5 L592.0,69.3 L592.5,68.6 L593.0,69.4 L593.5,71.6 L594.0,75.2 L594.5,80.0 L595.0,85.9 L595.5,92.8 L596.0,100.3 L596.5,108.4 L597.0,116.8 L597.5,125.3 L598.0,133.9 L598.5,142.3 L599.0,150.4 L599.5,158.1 L600.0,165.4 L600.5,172.2 L601.0,178.4 L601.5,184.0 L602.0,189.1 L602.5,193.6 L603.0,197.6 L603.5,201.1 L604.0,204.1 L604.5,206.7 L605.0,208.9 L605.5,210.8 L606.0,212.4 L606.5,213.7 L607.0,214.9 L607.5,215.8 L608.0,216.6 L608.5,217.3 L609.0,217.8 L609.5,218.3 L610.0,218.7 L610.5,219.1 L611.0,219.4 L611.5,219.6 L612.0,219.9 L612.5,220.1 L613.0,220.3 L613.5,220.4 L614.0,220.6 L614.5,220.7 L615.0,220.9 L615.5,221.0 L616.0,221.1 L616.5,221.2 L617.0,221.3 L617.5,221.4 L618.0,221.4 L618.5,221.5 L619.0,221.6 L619.5,221.7 L620.0,221.7 L620.5,221.8 L621.0,221.8 L621.5,221.9 L622.0,221.9 L622.5,222.0 L623.0,222.0 L623.5,222.1 L624.0,222.1 L624.5,222.1 L625.0,222.2 L625.5,222.2 L626.0,222.2 L626.5,222.3 L627.0,222.3 L627.5,222.3 L628.0,222.4 L628.5,222.4 L629.0,222.4 L629.5,222.5 L630.0,222.5 L630.5,222.5 L631.0,222.5 L631.5,222.6 L632.0,222.6 L632.5,222.6 L633.0,222.6 L633.5,222.7 L634.0,222.7 L634.5,222.7 L635.0,222.7 L635.5,222.8 L636.0,222.8 L636.5,222.8 L637.0,222.8 L637.5,222.8 L638.0,222.9 L638.5,222.9 L639.0,222.9 L639.5,222.9 L640.0,222.9 L640.5,222.9 L641.0,223.0 L641.5,223.0 L642.0,223.0 L642.5,223.0 L643.0,223.0 L643.5,223.0 L644.0,223.1 L644.5,223.1 L645.0,223.1 L645.5,223.1 L646.0,223.1 L646.5,223.1 L647.0,223.1 L647.5,223.2 L648.0,223.2 L648.5,223.2 L649.0,223.2 L649.5,223.2 L650.0,223.2 L650.5,223.2 L651.0,223.2 L651.5,223.3 L652.0,223.3 L652.5,223.3 L653.0,223.3 L653.5,223.3 L654.0,223.3 L654.5,223.3 L655.0,223.3 L655.5,223.4 L656.0,223.4 L656.5,223.4 L657.0,223.4 L657.5,223.4 L658.0,223.4 L658.5,223.4 L659.0,223.4 L659.5,223.5 L660.0,223.5 L660.5,223.5 L661.0,223.5 L661.5,223.5 L662.0,223.5 L662.5,223.5 L663.0,223.5 L663.5,223.5 L664.0,223.6 L664.5,223.6 L665.0,223.6 L665.5,223.6 L666.0,223.6 L666.5,223.6 L667.0,223.6 L667.5,223.6 L668.0,223.6 L668.5,223.6" fill="none" stroke="#ff00ff" stroke-width="2.9" stroke-linejoin="round" stroke-linecap="round" />
<path d="M396.0,203.2 L396.5,203.2 L397.0,203.2 L397.5,203.2 L398.0,203.2 L398.5,203.2 L399.0,203.1 L399.5,203.1 L400.0,203.1 L400.5,203.1 L401.0,203.1 L401.5,203.0 L402.0,203.0 L402.5,202.9 L403.0,202.9 L403.5,202.9 L404.0,202.8 L404.5,202.7 L405.0,202.7 L405.5,202.6 L406.0,202.5 L406.5,202.4 L407.0,202.3 L407.5,202.2 L408.0,202.1 L408.5,202.0 L409.0,201.9 L409.5,201.7 L410.0,201.6 L410.5,201.4 L411.0,201.2 L411.5,201.0 L412.0,200.8 L412.5,200.6 L413.0,200.4 L413.5,200.1 L414.0,199.9 L414.5,199.6 L415.0,199.3 L415.5,199.0 L416.0,198.7 L416.5,198.3 L417.0,197.9 L417.5,197.5 L418.0,197.1 L418.5,196.7 L419.0,196.3 L419.5,195.8 L420.0,195.3 L420.5,194.8 L421.0,194.3 L421.5,193.8 L422.0,193.2 L422.5,192.6 L423.0,192.0 L423.5,191.4 L424.0,190.8 L424.5,190.2 L425.0,189.5 L425.5,188.8 L426.0,188.1 L426.5,187.4 L427.0,186.7 L427.5,186.0 L428.0,185.3 L428.5,184.6 L429.0,183.8 L429.5,183.1 L430.0,182.4 L430.5,181.6 L431.0,180.9 L431.5,180.2 L432.0,179.4 L432.5,178.7 L433.0,178.0 L433.5,177.3 L434.0,176.7 L434.5,176.0 L435.0,175.4 L435.5,174.8 L436.0,174.2 L436.5,173.6 L437.0,173.1 L437.5,172.6 L438.0,172.2 L438.5,171.7 L439.0,171.4 L439.5,171.0 L440.0,170.7 L440.5,170.4 L441.0,170.2 L441.5,170.0 L442.0,169.9 L442.5,169.8 L443.0,169.8 L443.5,169.8 L444.0,169.9 L444.5,170.0 L445.0,170.1 L445.5,170.3 L446.0,170.5 L446.5,170.8 L447.0,171.1 L447.5,171.5 L448.0,171.9 L448.5,172.3 L449.0,172.8 L449.5,173.3 L450.0,173.9 L450.5,174.4 L451.0,175.0 L451.5,175.7 L452.0,176.3 L452.5,177.0 L453.0,177.8 L453.5,178.5 L454.0,179.3 L454.5,180.0 L455.0,180.8 L455.5,181.7 L456.0,182.5 L456.5,183.3 L457.0,184.2 L457.5,185.0 L458.0,185.9 L458.5,186.7 L459.0,187.6 L459.5,188.4 L460.0,189.3 L460.5,190.1 L461.0,191.0 L461.5,191.8 L462.0,192.6 L462.5,193.4 L463.0,194.2 L463.5,194.9 L464.0,195.7 L464.5,196.4 L465.0,197.1 L465.5,197.8 L466.0,198.5 L466.5,199.1 L467.0,199.7 L467.5,200.3 L468.0,200.9 L468.5,201.5 L469.0,202.1 L469.5,202.6 L470.0,203.1 L470.5,203.6 L471.0,204.1 L471.5,204.5 L472.0,204.9 L472.5,205.3 L473.0,205.7 L473.5,206.1 L474.0,206.4 L474.5,206.7 L475.0,207.0 L475.5,207.3 L476.0,207.6 L476.5,207.8 L477.0,208.1 L477.5,208.3 L478.0,208.5 L478.5,208.6 L479.0,208.8 L479.5,209.0 L480.0,209.1 L480.5,209.2 L481.0,209.4 L481.5,209.5 L482.0,209.6 L482.5,209.7 L483.0,209.8 L483.5,209.9 L484.0,209.9 L484.5,210.0 L485.0,210.1 L485.5,210.2 L486.0,210.2 L486.5,210.3 L487.0,210.3 L487.5,210.4 L488.0,210.4 L488.5,210.5 L489.0,210.5 L489.5,210.6 L490.0,210.6 L490.5,210.7 L491.0,210.7 L491.5,210.7 L492.0,210.8 L492.5,210.8 L493.0,210.9 L493.5,210.9 L494.0,210.9 L494.5,210.9 L495.0,211.0 L495.5,211.0 L496.0,211.0 L496.5,211.1 L497.0,211.1 L497.5,211.1 L498.0,211.1 L498.5,211.2 L499.0,211.2 L499.5,211.2 L500.0,211.2 L500.5,211.3 L501.0,211.3 L501.5,211.3 L502.0,211.3 L502.5,211.3 L503.0,211.4 L503.5,211.4 L504.0,211.4 L504.5,211.4 L505.0,211.4 L505.5,211.4 L506.0,211.5 L506.5,211.5 L507.0,211.5 L507.5,211.5 L508.0,211.5 L508.5,211.5 L509.0,211.6 L509.5,211.6 L510.0,211.6 L510.5,211.6 L511.0,211.6 L511.5,211.6 L512.0,211.7 L512.5,211.7 L513.0,211.7 L513.5,211.7 L514.0,211.7 L514.5,211.7 L515.0,211.8 L515.5,211.8 L516.0,211.8 L516.5,211.8 L517.0,211.8 L517.5,211.8 L518.0,211.9 L518.5,211.9 L519.0,211.9 L519.5,211.9 L520.0,211.9 L520.5,212.0 L521.0,212.0 L521.5,212.0 L522.0,212.0 L522.5,212.0 L523.0,212.1 L523.5,212.1 L524.0,212.1 L524.5,212.1 L525.0,212.2 L525.5,212.2 L526.0,212.2 L526.5,212.2 L527.0,212.2 L527.5,212.3 L528.0,212.3 L528.5,212.3 L529.0,212.3 L529.5,212.4 L530.0,212.4 L530.5,212.4 L531.0,212.4 L531.5,212.5 L532.0,212.5 L532.5,212.5 L533.0,212.5 L533.5,212.6 L534.0,212.6 L534.5,212.6 L535.0,212.6 L535.5,212.6 L536.0,212.7 L536.5,212.7 L537.0,212.7 L537.5,212.7 L538.0,212.8 L538.5,212.8 L539.0,212.8 L539.5,212.8 L540.0,212.9 L540.5,212.9 L541.0,212.9 L541.5,212.9 L542.0,212.9 L542.5,213.0 L543.0,213.0 L543.5,213.0 L544.0,213.0 L544.5,213.1 L545.0,213.1 L545.5,213.1 L546.0,213.1 L546.5,213.1 L547.0,213.2 L547.5,213.2 L548.0,213.2 L548.5,213.2 L549.0,213.3 L549.5,213.3 L550.0,213.3 L550.5,213.3 L551.0,213.4 L551.5,213.4 L552.0,213.4 L552.5,213.4 L553.0,213.4 L553.5,213.5 L554.0,213.5 L554.5,213.5 L555.0,213.5 L555.5,213.6 L556.0,213.6 L556.5,213.6 L557.0,213.6 L557.5,213.7 L558.0,213.7 L558.5,213.7 L559.0,213.8 L559.5,213.8 L560.0,213.8 L560.5,213.9 L561.0,213.9 L561.5,213.9 L562.0,214.0 L562.5,214.0 L563.0,214.1 L563.5,214.1 L564.0,214.1 L564.5,214.2 L565.0,214.2 L565.5,214.3 L566.0,214.3 L566.5,214.4 L567.0,214.4 L567.5,214.5 L568.0,214.5 L568.5,214.6 L569.0,214.6 L569.5,214.7 L570.0,214.7 L570.5,214.8 L571.0,214.8 L571.5,214.9 L572.0,214.9 L572.5,215.0 L573.0,215.1 L573.5,215.1 L574.0,215.2 L574.5,215.3 L575.0,215.4 L575.5,215.5 L576.0,215.5 L576.5,215.6 L577.0,215.8 L577.5,215.9 L578.0,216.0 L578.5,216.1 L579.0,216.2 L579.5,216.3 L580.0,216.4 L580.5,216.5 L581.0,216.6 L581.5,216.7 L582.0,216.8 L582.5,216.9 L583.0,217.0 L583.5,217.1 L584.0,217.2 L584.5,217.2 L585.0,217.3 L585.5,217.4 L586.0,217.4 L586.5,217.5 L587.0,217.5 L587.5,217.5 L588.0,217.6 L588.5,217.6 L589.0,217.6 L589.5,217.6 L590.0,217.7 L590.5,217.7 L591.0,217.7 L591.5,217.7 L592.0,217.7 L592.5,217.8 L593.0,217.8 L593.5,217.8 L594.0,217.9 L594.5,217.9 L595.0,218.0 L595.5,218.0 L596.0,218.1 L596.5,218.1 L597.0,218.2 L597.5,218.3 L598.0,218.4 L598.5,218.5 L599.0,218.6 L599.5,218.7 L600.0,218.8 L600.5,218.9 L601.0,219.0 L601.5,219.1 L602.0,219.2 L602.5,219.4 L603.0,219.5 L603.5,219.7 L604.0,219.8 L604.5,220.0 L605.0,220.1 L605.5,220.3 L606.0,220.4 L606.5,220.6 L607.0,220.7 L607.5,220.9 L608.0,221.0 L608.5,221.2 L609.0,221.3 L609.5,221.4 L610.0,221.5 L610.5,221.7 L611.0,221.8 L611.5,221.9 L612.0,222.0 L612.5,222.0 L613.0,222.1 L613.5,222.2 L614.0,222.3 L614.5,222.3 L615.0,222.4 L615.5,222.4 L616.0,222.5 L616.5,222.5 L617.0,222.6 L617.5,222.6 L618.0,222.6 L618.5,222.7 L619.0,222.7 L619.5,222.7 L620.0,222.7 L620.5,222.8 L621.0,222.8 L621.5,222.8 L622.0,222.8 L622.5,222.8 L623.0,222.9 L623.5,222.9 L624.0,222.9 L624.5,222.9 L625.0,222.9 L625.5,222.9 L626.0,223.0 L626.5,223.0 L627.0,223.0 L627.5,223.0 L628.0,223.0 L628.5,223.0 L629.0,223.0 L629.5,223.0 L630.0,223.1 L630.5,223.1 L631.0,223.1 L631.5,223.1 L632.0,223.1 L632.5,223.1 L633.0,223.1 L633.5,223.1 L634.0,223.1 L634.5,223.2 L635.0,223.2 L635.5,223.2 L636.0,223.2 L636.5,223.2 L637.0,223.2 L637.5,223.2 L638.0,223.2 L638.5,223.2 L639.0,223.3 L639.5,223.3 L640.0,223.3 L640.5,223.3 L641.0,223.3 L641.5,223.3 L642.0,223.3 L642.5,223.3 L643.0,223.3 L643.5,223.3 L644.0,223.4 L644.5,223.4 L645.0,223.4 L645.5,223.4 L646.0,223.4 L646.5,223.4 L647.0,223.4 L647.5,223.4 L648.0,223.4 L648.5,223.4 L649.0,223.4 L649.5,223.5 L650.0,223.5 L650.5,223.5 L651.0,223.5 L651.5,223.5 L652.0,223.5 L652.5,223.5 L653.0,223.5 L653.5,223.5 L654.0,223.5 L654.5,223.5 L655.0,223.5 L655.5,223.6 L656.0,223.6 L656.5,223.6 L657.0,223.6 L657.5,223.6 L658.0,223.6 L658.5,223.6 L659.0,223.6 L659.5,223.6 L660.0,223.6 L660.5,223.6 L661.0,223.7 L661.5,223.7 L662.0,223.7 L662.5,223.7 L663.0,223.7 L663.5,223.7 L664.0,223.7 L664.5,223.7 L665.0,223.7 L665.5,223.7 L666.0,223.7 L666.5,223.7 L667.0,223.7 L667.5,223.8 L668.0,223.8 L668.5,223.8" fill="none" stroke="#808000" stroke-width="2.9" stroke-linejoin="round" stroke-linecap="round" />
<path d="M396.0,203.5 L396.5,203.5 L397.0,203.5 L397.5,203.5 L398.0,203.5 L398.5,203.5 L399.0,203.5 L399.5,203.6 L400.0,203.6 L400.5,203.6 L401.0,203.6 L401.5,203.6 L402.0,203.6 L402.5,203.6 L403.0,203.6 L403.5,203.6 L404.0,203.7 L404.5,203.7 L405.0,203.7 L405.5,203.7 L406.0,203.7 L406.5,203.7 L407.0,203.7 L407.5,203.7 L408.0,203.7 L408.5,203.8 L409.0,203.8 L409.5,203.8 L410.0,203.8 L410.5,203.8 L411.0,203.8 L411.5,203.8 L412.0,203.8 L412.5,203.8 L413.0,203.9 L413.5,203.9 L414.0,203.9 L414.5,203.9 L415.0,203.9 L415.5,203.9 L416.0,203.9 L416.5,203.9 L417.0,203.9 L417.5,204.0 L418.0,204.0 L418.5,204.0 L419.0,204.0 L419.5,204.0 L420.0,204.0 L420.5,204.0 L421.0,204.0 L421.5,204.0 L422.0,204.1 L422.5,204.1 L423.0,204.1 L423.5,204.1 L424.0,204.1 L424.5,204.1 L425.0,204.1 L425.5,204.1 L426.0,204.1 L426.5,204.2 L427.0,204.2 L427.5,204.2 L428.0,204.2 L428.5,204.2 L429.0,204.2 L429.5,204.2 L430.0,204.2 L430.5,204.2 L431.0,204.3 L431.5,204.3 L432.0,204.3 L432.5,204.3 L433.0,204.3 L433.5,204.3 L434.0,204.3 L434.5,204.3 L435.0,204.3 L435.5,204.4 L436.0,204.4 L436.5,204.4 L437.0,204.4 L437.5,204.4 L438.0,204.4 L438.5,204.4 L439.0,204.5 L439.5,204.5 L440.0,204.5 L440.5,204.5 L441.0,204.6 L441.5,204.6 L442.0,204.6 L442.5,204.6 L443.0,204.7 L443.5,204.7 L444.0,204.7 L444.5,204.8 L445.0,204.8 L445.5,204.8 L446.0,204.9 L446.5,204.9 L447.0,204.9 L447.5,205.0 L448.0,205.0 L448.5,205.0 L449.0,205.1 L449.5,205.1 L450.0,205.1 L450.5,205.2 L451.0,205.2 L451.5,205.2 L452.0,205.3 L452.5,205.3 L453.0,205.4 L453.5,205.5 L454.0,205.5 L454.5,205.6 L455.0,205.7 L455.5,205.7 L456.0,205.8 L456.5,205.9 L457.0,206.0 L457.5,206.1 L458.0,206.2 L458.5,206.3 L459.0,206.5 L459.5,206.6 L460.0,206.7 L460.5,206.8 L461.0,206.9 L461.5,207.1 L462.0,207.2 L462.5,207.3 L463.0,207.4 L463.5,207.6 L464.0,207.7 L464.5,207.8 L465.0,207.9 L465.5,208.0 L466.0,208.1 L466.5,208.3 L467.0,208.4 L467.5,208.5 L468.0,208.6 L468.5,208.7 L469.0,208.8 L469.5,209.0 L470.0,209.1 L470.5,209.2 L471.0,209.3 L471.5,209.4 L472.0,209.5 L472.5,209.6 L473.0,209.7 L473.5,209.8 L474.0,209.9 L474.5,209.9 L475.0,210.0 L475.5,210.1 L476.0,210.1 L476.5,210.2 L477.0,210.2 L477.5,210.3 L478.0,210.3 L478.5,210.3 L479.0,210.4 L479.5,210.4 L480.0,210.4 L480.5,210.4 L481.0,210.5 L481.5,210.5 L482.0,210.5 L482.5,210.5 L483.0,210.6 L483.5,210.6 L484.0,210.6 L484.5,210.6 L485.0,210.6 L485.5,210.7 L486.0,210.7 L486.5,210.7 L487.0,210.7 L487.5,210.7 L488.0,210.8 L488.5,210.8 L489.0,210.8 L489.5,210.8 L490.0,210.9 L490.5,210.9 L491.0,210.9 L491.5,210.9 L492.0,210.9 L492.5,211.0 L493.0,211.0 L493.5,211.0 L494.0,211.0 L494.5,211.0 L495.0,211.1 L495.5,211.1 L496.0,211.1 L496.5,211.1 L497.0,211.1 L497.5,211.2 L498.0,211.2 L498.5,211.2 L499.0,211.2 L499.5,211.2 L500.0,211.2 L500.5,211.3 L501.0,211.3 L501.5,211.3 L502.0,211.3 L502.5,211.3 L503.0,211.3 L503.5,211.3 L504.0,211.4 L504.5,211.4 L505.0,211.4 L505.5,211.4 L506.0,211.4 L506.5,211.4 L507.0,211.4 L507.5,211.4 L508.0,211.5 L508.5,211.5 L509.0,211.5 L509.5,211.5 L510.0,211.5 L510.5,211.5 L511.0,211.5 L511.5,211.5 L512.0,211.6 L512.5,211.6 L513.0,211.6 L513.5,211.6 L514.0,211.6 L514.5,211.6 L515.0,211.6 L515.5,211.6 L516.0,211.6 L516.5,211.6 L517.0,211.6 L517.5,211.6 L518.0,211.7 L518.5,211.7 L519.0,211.7 L519.5,211.7 L520.0,211.7 L520.5,211.7 L521.0,211.7 L521.5,211.7 L522.0,211.7 L522.5,211.7 L523.0,211.7 L523.5,211.7 L524.0,211.7 L524.5,211.7 L525.0,211.6 L525.5,211.6 L526.0,211.6 L526.5,211.6 L527.0,211.6 L527.5,211.5 L528.0,211.5 L528.5,211.4 L529.0,211.4 L529.5,211.3 L530.0,211.3 L530.5,211.2 L531.0,211.1 L531.5,211.0 L532.0,210.9 L532.5,210.8 L533.0,210.7 L533.5,210.6 L534.0,210.4 L534.5,210.3 L535.0,210.1 L535.5,209.9 L536.0,209.8 L536.5,209.5 L537.0,209.3 L537.5,209.1 L538.0,208.8 L538.5,208.5 L539.0,208.2 L539.5,207.9 L540.0,207.6 L540.5,207.2 L541.0,206.8 L541.5,206.4 L542.0,206.0 L542.5,205.5 L543.0,205.0 L543.5,204.5 L544.0,203.9 L544.5,203.4 L545.0,202.8 L545.5,202.1 L546.0,201.5 L546.5,200.8 L547.0,200.1 L547.5,199.3 L548.0,198.6 L548.5,197.8 L549.0,196.9 L549.5,196.1 L550.0,195.2 L550.5,194.3 L551.0,193.4 L551.5,192.4 L552.0,191.4 L552.5,190.4 L553.0,189.4 L553.5,188.4 L554.0,187.3 L554.5,186.2 L555.0,185.2 L555.5,184.1 L556.0,183.0 L556.5,181.9 L557.0,180.8 L557.5,179.7 L558.0,178.6 L558.5,177.5 L559.0,176.4 L559.5,175.3 L560.0,174.3 L560.5,173.2 L561.0,172.2 L561.5,171.2 L562.0,170.3 L562.5,169.4 L563.0,168.5 L563.5,167.6 L564.0,166.8 L564.5,166.1 L565.0,165.4 L565.5,164.7 L566.0,164.1 L566.5,163.5 L567.0,163.0 L567.5,162.6 L568.0,162.2 L568.5,161.9 L569.0,161.6 L569.5,161.5 L570.0,161.3 L570.5,161.3 L571.0,161.3 L571.5,161.4 L572.0,161.5 L572.5,161.8 L573.0,162.1 L573.5,162.4 L574.0,162.9 L574.5,163.4 L575.0,164.0 L575.5,164.6 L576.0,165.3 L576.5,166.1 L577.0,166.9 L577.5,167.7 L578.0,168.7 L578.5,169.6 L579.0,170.6 L579.5,171.6 L580.0,172.7 L580.5,173.8 L581.0,174.9 L581.5,176.1 L582.0,177.2 L582.5,178.4 L583.0,179.6 L583.5,180.8 L584.0,182.0 L584.5,183.2 L585.0,184.4 L585.5,185.6 L586.0,186.8 L586.5,187.9 L587.0,189.1 L587.5,190.2 L588.0,191.4 L588.5,192.5 L589.0,193.6 L589.5,194.6 L590.0,195.7 L590.5,196.7 L591.0,197.7 L591.5,198.7 L592.0,199.6 L592.5,200.5 L593.0,201.5 L593.5,202.3 L594.0,203.2 L594.5,204.0 L595.0,204.8 L595.5,205.6 L596.0,206.4 L596.5,207.1 L597.0,207.9 L597.5,208.6 L598.0,209.2 L598.5,209.9 L599.0,210.5 L599.5,211.1 L600.0,211.7 L600.5,212.3 L601.0,212.9 L601.5,213.4 L602.0,213.9 L602.5,214.4 L603.0,214.9 L603.5,215.4 L604.0,215.8 L604.5,216.3 L605.0,216.7 L605.5,217.1 L606.0,217.5 L606.5,217.8 L607.0,218.2 L607.5,218.5 L608.0,218.8 L608.5,219.2 L609.0,219.4 L609.5,219.7 L610.0,220.0 L610.5,220.2 L611.0,220.4 L611.5,220.6 L612.0,220.8 L612.5,221.0 L613.0,221.1 L613.5,221.3 L614.0,221.4 L614.5,221.5 L615.0,221.6 L615.5,221.7 L616.0,221.8 L616.5,221.9 L617.0,222.0 L617.5,222.1 L618.0,222.1 L618.5,222.2 L619.0,222.3 L619.5,222.3 L620.0,222.3 L620.5,222.4 L621.0,222.4 L621.5,222.5 L622.0,222.5 L622.5,222.5 L623.0,222.6 L623.5,222.6 L624.0,222.6 L624.5,222.6 L625.0,222.7 L625.5,222.7 L626.0,222.7 L626.5,222.7 L627.0,222.8 L627.5,222.8 L628.0,222.8 L628.5,222.8 L629.0,222.8 L629.5,222.8 L630.0,222.9 L630.5,222.9 L631.0,222.9 L631.5,222.9 L632.0,222.9 L632.5,222.9 L633.0,223.0 L633.5,223.0 L634.0,223.0 L634.5,223.0 L635.0,223.0 L635.5,223.0 L636.0,223.0 L636.5,223.1 L637.0,223.1 L637.5,223.1 L638.0,223.1 L638.5,223.1 L639.0,223.1 L639.5,223.1 L640.0,223.1 L640.5,223.2 L641.0,223.2 L641.5,223.2 L642.0,223.2 L642.5,223.2 L643.0,223.2 L643.5,223.2 L644.0,223.2 L644.5,223.2 L645.0,223.3 L645.5,223.3 L646.0,223.3 L646.5,223.3 L647.0,223.3 L647.5,223.3 L648.0,223.3 L648.5,223.3 L649.0,223.3 L649.5,223.3 L650.0,223.4 L650.5,223.4 L651.0,223.4 L651.5,223.4 L652.0,223.4 L652.5,223.4 L653.0,223.4 L653.5,223.4 L654.0,223.4 L654.5,223.4 L655.0,223.5 L655.5,223.5 L656.0,223.5 L656.5,223.5 L657.0,223.5 L657.5,223.5 L658.0,223.5 L658.5,223.5 L659.0,223.5 L659.5,223.5 L660.0,223.6 L660.5,223.6 L661.0,223.6 L661.5,223.6 L662.0,223.6 L662.5,223.6 L663.0,223.6 L663.5,223.6 L664.0,223.6 L664.5,223.6 L665.0,223.6 L665.5,223.7 L666.0,223.7 L666.5,223.7 L667.0,223.7 L667.5,223.7 L668.0,223.7 L668.5,223.7" fill="none" stroke="#808000" stroke-width="2.9" stroke-linejoin="round" stroke-linecap="round" />
<path d="M21.0,502.0 L22.2,477.0 L25.8,491.1 L31.0,478.7 L33.1,483.8 L37.5,475.0 L40.4,488.2 L44.1,476.5 L47.7,479.4 L50.7,476.5 L52.8,486.7 L55.0,474.3 L58.7,478.0 L60.9,498.4 L63.8,483.8 L66.7,482.3 L68.2,491.1 L71.8,476.5 L74.7,499.9 L77.7,480.9 L79.1,498.4 L81.3,481.6 L85.0,494.0 L88.6,495.5 L92.3,496.9 L94.5,483.8 L98.8,475.0 L101.8,491.1 L106.1,476.5 L109.0,495.5 L112.0,491.1 L114.9,495.5 L116.7,490.8 L118.5,496.0 L121.1,471.6 L123.7,482.0 L125.5,475.0 L129.0,463.7 L132.5,483.8 L135.9,476.8 L138.6,490.8 L141.2,471.6 L143.8,478.5 L145.5,475.0 L147.3,480.3 L150.8,462.0 L153.4,468.1 L156.0,458.5 L157.8,480.3 L159.5,452.4 L161.2,442.8 L163.9,445.4 L165.6,436.6 L168.5,421.4 L170.8,420.0 L173.1,402.8 L175.5,421.4 L177.8,391.2 L180.1,386.5 L182.4,392.3 L185.5,383.0 L188.3,393.5 L191.7,397.0 L194.1,386.5 L196.4,362.1 L198.7,360.9 L201.0,363.3 L202.7,374.9 L204.5,358.6 L206.4,349.3 L208.0,377.2 L210.3,370.2 L212.7,379.5 L215.5,400.0 L218.5,428.4 L222.0,440.0 L223.1,449.3 L224.3,465.6 L224.8,484.5 L226.9,487.5 L229.2,476.8 L232.3,493.7 L235.3,479.9 L237.6,464.5 L239.9,495.2 L243.0,467.6 L246.1,454.6 L249.1,467.6 L253.0,492.1 L256.0,478.3 L259.1,464.5 L261.4,487.5 L265.2,486.0 L267.5,470.7 L270.6,472.2 L272.9,489.1 L275.2,466.1 L277.5,482.9 L280.6,482.9 L282.9,485.2 L286.0,481.4 L289.0,478.3 L292.1,463.0 L295.2,475.3 L298.2,470.7 L300.5,458.4 L303.6,469.9 L307.4,484.5 L311.3,457.6 L313.6,470.7 L315.9,456.1 L318.9,472.2 L322.0,477.3 L323.9,472.0" fill="none" stroke="#000000" stroke-width="3.2" stroke-linejoin="round" stroke-linecap="round" />
<path d="M21.5,494.9 L22.0,494.9 L22.5,494.8 L23.0,494.8 L23.5,494.8 L24.0,494.7 L24.5,494.7 L25.0,494.6 L25.5,494.6 L26.0,494.6 L26.5,494.5 L27.0,494.5 L27.5,494.4 L28.0,494.4 L28.5,494.3 L29.0,494.3 L29.5,494.3 L30.0,494.2 L30.5,494.2 L31.0,494.1 L31.5,494.1 L32.0,494.0 L32.5,494.0 L33.0,494.0 L33.5,493.9 L34.0,493.9 L34.5,493.8 L35.0,493.8 L35.5,493.7 L36.0,493.7 L36.5,493.6 L37.0,493.6 L37.5,493.6 L38.0,493.5 L38.5,493.5 L39.0,493.4 L39.5,493.4 L40.0,493.3 L40.5,493.3 L41.0,493.3 L41.5,493.2 L42.0,493.2 L42.5,493.1 L43.0,493.1 L43.5,493.0 L44.0,493.0 L44.5,492.9 L45.0,492.9 L45.5,492.9 L46.0,492.8 L46.5,492.8 L47.0,492.7 L47.5,492.7 L48.0,492.6 L48.5,492.6 L49.0,492.5 L49.5,492.5 L50.0,492.5 L50.5,492.4 L51.0,492.4 L51.5,492.3 L52.0,492.3 L52.5,492.2 L53.0,492.2 L53.5,492.1 L54.0,492.1 L54.5,492.1 L55.0,492.0 L55.5,492.0 L56.0,491.9 L56.5,491.9 L57.0,491.8 L57.5,491.8 L58.0,491.7 L58.5,491.7 L59.0,491.6 L59.5,491.6 L60.0,491.5 L60.5,491.5 L61.0,491.5 L61.5,491.4 L62.0,491.4 L62.5,491.3 L63.0,491.3 L63.5,491.2 L64.0,491.2 L64.5,491.1 L65.0,491.1 L65.5,491.0 L66.0,491.0 L66.5,490.9 L67.0,490.9 L67.5,490.8 L68.0,490.8 L68.5,490.7 L69.0,490.7 L69.5,490.6 L70.0,490.6 L70.5,490.6 L71.0,490.5 L71.5,490.5 L72.0,490.4 L72.5,490.4 L73.0,490.3 L73.5,490.3 L74.0,490.2 L74.5,490.2 L75.0,490.1 L75.5,490.1 L76.0,490.0 L76.5,490.0 L77.0,489.9 L77.5,489.9 L78.0,489.8 L78.5,489.8 L79.0,489.7 L79.5,489.7 L80.0,489.6 L80.5,489.6 L81.0,489.5 L81.5,489.5 L82.0,489.4 L82.5,489.3 L83.0,489.3 L83.5,489.2 L84.0,489.2 L84.5,489.1 L85.0,489.1 L85.5,489.0 L86.0,489.0 L86.5,488.9 L87.0,488.9 L87.5,488.8 L88.0,488.8 L88.5,488.7 L89.0,488.7 L89.5,488.6 L90.0,488.5 L90.5,488.5 L91.0,488.4 L91.5,488.4 L92.0,488.3 L92.5,488.3 L93.0,488.2 L93.5,488.2 L94.0,488.1 L94.5,488.0 L95.0,488.0 L95.5,487.9 L96.0,487.9 L96.5,487.8 L97.0,487.7 L97.5,487.7 L98.0,487.6 L98.5,487.6 L99.0,487.5 L99.5,487.4 L100.0,487.4 L100.5,487.3 L101.0,487.3 L101.5,487.2 L102.0,487.1 L102.5,487.1 L103.0,487.0 L103.5,486.9 L104.0,486.9 L104.5,486.8 L105.0,486.7 L105.5,486.7 L106.0,486.6 L106.5,486.5 L107.0,486.5 L107.5,486.4 L108.0,486.3 L108.5,486.3 L109.0,486.2 L109.5,486.1 L110.0,486.1 L110.5,486.0 L111.0,485.9 L111.5,485.8 L112.0,485.8 L112.5,485.7 L113.0,485.6 L113.5,485.5 L114.0,485.5 L114.5,485.4 L115.0,485.3 L115.5,485.2 L116.0,485.1 L116.5,485.1 L117.0,485.0 L117.5,484.9 L118.0,484.8 L118.5,484.7 L119.0,484.6 L119.5,484.6 L120.0,484.5 L120.5,484.4 L121.0,484.3 L121.5,484.2 L122.0,484.1 L122.5,484.0 L123.0,483.9 L123.5,483.8 L124.0,483.7 L124.5,483.6 L125.0,483.5 L125.5,483.4 L126.0,483.3 L126.5,483.2 L127.0,483.1 L127.5,483.0 L128.0,482.9 L128.5,482.8 L129.0,482.6 L129.5,482.5 L130.0,482.4 L130.5,482.3 L131.0,482.2 L131.5,482.0 L132.0,481.9 L132.5,481.8 L133.0,481.6 L133.5,481.5 L134.0,481.3 L134.5,481.2 L135.0,481.0 L135.5,480.9 L136.0,480.7 L136.5,480.5 L137.0,480.3 L137.5,480.2 L138.0,480.0 L138.5,479.8 L139.0,479.6 L139.5,479.4 L140.0,479.1 L140.5,478.9 L141.0,478.7 L141.5,478.4 L142.0,478.2 L142.5,477.9 L143.0,477.6 L143.5,477.3 L144.0,477.0 L144.5,476.7 L145.0,476.4 L145.5,476.0 L146.0,475.7 L146.5,475.3 L147.0,474.9 L147.5,474.5 L148.0,474.0 L148.5,473.6 L149.0,473.1 L149.5,472.6 L150.0,472.0 L150.5,471.5 L151.0,470.9 L151.5,470.3 L152.0,469.6 L152.5,469.0 L153.0,468.3 L153.5,467.5 L154.0,466.8 L154.5,466.0 L155.0,465.1 L155.5,464.2 L156.0,463.3 L156.5,462.4 L157.0,461.4 L157.5,460.4 L158.0,459.3 L158.5,458.2 L159.0,457.0 L159.5,455.8 L160.0,454.6 L160.5,453.3 L161.0,452.0 L161.5,450.6 L162.0,449.2 L162.5,447.8 L163.0,446.3 L163.5,444.8 L164.0,443.2 L164.5,441.6 L165.0,440.0 L165.5,438.3 L166.0,436.6 L166.5,434.8 L167.0,433.1 L167.5,431.3 L168.0,429.5 L168.5,427.6 L169.0,425.8 L169.5,423.9 L170.0,422.0 L170.5,420.2 L171.0,418.3 L171.5,416.5 L172.0,414.6 L172.5,412.8 L173.0,411.0 L173.5,409.3 L174.0,407.5 L174.5,405.9 L175.0,404.3 L175.5,402.7 L176.0,401.3 L176.5,399.9 L177.0,398.6 L177.5,397.4 L178.0,396.3 L178.5,395.4 L179.0,394.5 L179.5,393.7 L180.0,393.1 L180.5,392.6 L181.0,392.1 L181.5,391.8 L182.0,391.6 L182.5,391.5 L183.0,391.5 L183.5,391.6 L184.0,391.7 L184.5,391.9 L185.0,392.1 L185.5,392.4 L186.0,392.6 L186.5,392.9 L187.0,393.1 L187.5,393.3 L188.0,393.5 L188.5,393.6 L189.0,393.6 L189.5,393.5 L190.0,393.3 L190.5,393.0 L191.0,392.6 L191.5,392.0 L192.0,391.3 L192.5,390.5 L193.0,389.5 L193.5,388.4 L194.0,387.2 L194.5,385.9 L195.0,384.4 L195.5,382.8 L196.0,381.1 L196.5,379.4 L197.0,377.6 L197.5,375.7 L198.0,373.9 L198.5,372.0 L199.0,370.1 L199.5,368.4 L200.0,366.6 L200.5,365.0 L201.0,363.6 L201.5,362.2 L202.0,361.1 L202.5,360.2 L203.0,359.5 L203.5,359.0 L204.0,358.8 L204.5,358.9 L205.0,359.3 L205.5,360.0 L206.0,361.0 L206.5,362.4 L207.0,364.0 L207.5,365.9 L208.0,368.1 L208.5,370.6 L209.0,373.3 L209.5,376.2 L210.0,379.4 L210.5,382.7 L211.0,386.1 L211.5,389.7 L212.0,393.4 L212.5,397.2 L213.0,401.0 L213.5,404.8 L214.0,408.7 L214.5,412.5 L215.0,416.2 L215.5,419.9 L216.0,423.5 L216.5,427.0 L217.0,430.4 L217.5,433.7 L218.0,436.8 L218.5,439.8 L219.0,442.6 L219.5,445.3 L220.0,447.8 L220.5,450.2 L221.0,452.4 L221.5,454.5 L222.0,456.4 L222.5,458.1 L223.0,459.8 L223.5,461.2 L224.0,462.6 L224.5,463.8 L225.0,465.0 L225.5,466.0 L226.0,466.9 L226.5,467.7 L227.0,468.4 L227.5,469.1 L228.0,469.7 L228.5,470.2 L229.0,470.7 L229.5,471.1 L230.0,471.5 L230.5,471.8 L231.0,472.1 L231.5,472.3 L232.0,472.6 L232.5,472.8 L233.0,473.0 L233.5,473.1 L234.0,473.3 L234.5,473.4 L235.0,473.5 L235.5,473.6 L236.0,473.7 L236.5,473.8 L237.0,473.8 L237.5,473.9 L238.0,474.0 L238.5,474.0 L239.0,474.1 L239.5,474.1 L240.0,474.2 L240.5,474.2 L241.0,474.2 L241.5,474.3 L242.0,474.3 L242.5,474.3 L243.0,474.4 L243.5,474.4 L244.0,474.4 L244.5,474.4 L245.0,474.4 L245.5,474.5 L246.0,474.5 L246.5,474.5 L247.0,474.5 L247.5,474.5 L248.0,474.5 L248.5,474.5 L249.0,474.5 L249.5,474.5 L250.0,474.5 L250.5,474.6 L251.0,474.6 L251.5,474.6 L252.0,474.6 L252.5,474.6 L253.0,474.6 L253.5,474.6 L254.0,474.6 L254.5,474.6 L255.0,474.6 L255.5,474.6 L256.0,474.5 L256.5,474.5 L257.0,474.5 L257.5,474.5 L258.0,474.5 L258.5,474.5 L259.0,474.5 L259.5,474.5 L260.0,474.5 L260.5,474.5 L261.0,474.5 L261.5,474.5 L262.0,474.4 L262.5,474.4 L263.0,474.4 L263.5,474.4 L264.0,474.4 L264.5,474.4 L265.0,474.4 L265.5,474.3 L266.0,474.3 L266.5,474.3 L267.0,474.3 L267.5,474.3 L268.0,474.3 L268.5,474.2 L269.0,474.2 L269.5,474.2 L270.0,474.2 L270.5,474.2 L271.0,474.1 L271.5,474.1 L272.0,474.1 L272.5,474.1 L273.0,474.1 L273.5,474.0 L274.0,474.0 L274.5,474.0 L275.0,474.0 L275.5,474.0 L276.0,473.9 L276.5,473.9 L277.0,473.9 L277.5,473.9 L278.0,473.8 L278.5,473.8 L279.0,473.8 L279.5,473.8 L280.0,473.7 L280.5,473.7 L281.0,473.7 L281.5,473.7 L282.0,473.6 L282.5,473.6 L283.0,473.6 L283.5,473.6 L284.0,473.5 L284.5,473.5 L285.0,473.5 L285.5,473.5 L286.0,473.4 L286.5,473.4 L287.0,473.4 L287.5,473.3 L288.0,473.3 L288.5,473.3 L289.0,473.3 L289.5,473.2 L290.0,473.2 L290.5,473.2 L291.0,473.2 L291.5,473.1 L292.0,473.1 L292.5,473.1 L293.0,473.0 L293.5,473.0 L294.0,473.0 L294.5,472.9 L295.0,472.9 L295.5,472.9 L296.0,472.9 L296.5,472.8 L297.0,472.8 L297.5,472.8 L298.0,472.7 L298.5,472.7 L299.0,472.7 L299.5,472.6 L300.0,472.6 L300.5,472.6 L301.0,472.5 L301.5,472.5 L302.0,472.5 L302.5,472.5 L303.0,472.4 L303.5,472.4 L304.0,472.4 L304.5,472.3 L305.0,472.3 L305.5,472.3 L306.0,472.2 L306.5,472.2 L307.0,472.2 L307.5,472.1 L308.0,472.1 L308.5,472.1 L309.0,472.0 L309.5,472.0 L310.0,472.0 L310.5,471.9 L311.0,471.9 L311.5,471.9 L312.0,471.8 L312.5,471.8 L313.0,471.8 L313.5,471.7 L314.0,471.7 L314.5,471.7 L315.0,471.6 L315.5,471.6 L316.0,471.6 L316.5,471.5 L317.0,471.5 L317.5,471.5 L318.0,471.4 L318.5,471.4 L319.0,471.4 L319.5,471.3 L320.0,471.3 L320.5,471.3 L321.0,471.2 L321.5,471.2 L322.0,471.2 L322.5,471.1 L323.0,471.1 L323.5,471.1 L324.0,471.0" fill="none" stroke="#ff0000" stroke-width="3.2" stroke-linejoin="round" stroke-linecap="round" />
<path d="M21.5,495.4 L22.0,495.4 L22.5,495.4 L23.0,495.3 L23.5,495.3 L24.0,495.2 L24.5,495.2 L25.0,495.2 L25.5,495.1 L26.0,495.1 L26.5,495.1 L27.0,495.0 L27.5,495.0 L28.0,494.9 L28.5,494.9 L29.0,494.9 L29.5,494.8 L30.0,494.8 L30.5,494.7 L31.0,494.7 L31.5,494.7 L32.0,494.6 L32.5,494.6 L33.0,494.5 L33.5,494.5 L34.0,494.5 L34.5,494.4 L35.0,494.4 L35.5,494.3 L36.0,494.3 L36.5,494.3 L37.0,494.2 L37.5,494.2 L38.0,494.1 L38.5,494.1 L39.0,494.1 L39.5,494.0 L40.0,494.0 L40.5,494.0 L41.0,493.9 L41.5,493.9 L42.0,493.8 L42.5,493.8 L43.0,493.8 L43.5,493.7 L44.0,493.7 L44.5,493.6 L45.0,493.6 L45.5,493.6 L46.0,493.5 L46.5,493.5 L47.0,493.4 L47.5,493.4 L48.0,493.4 L48.5,493.3 L49.0,493.3 L49.5,493.2 L50.0,493.2 L50.5,493.2 L51.0,493.1 L51.5,493.1 L52.0,493.1 L52.5,493.0 L53.0,493.0 L53.5,492.9 L54.0,492.9 L54.5,492.9 L55.0,492.8 L55.5,492.8 L56.0,492.7 L56.5,492.7 L57.0,492.7 L57.5,492.6 L58.0,492.6 L58.5,492.5 L59.0,492.5 L59.5,492.5 L60.0,492.4 L60.5,492.4 L61.0,492.3 L61.5,492.3 L62.0,492.3 L62.5,492.2 L63.0,492.2 L63.5,492.1 L64.0,492.1 L64.5,492.1 L65.0,492.0 L65.5,492.0 L66.0,492.0 L66.5,491.9 L67.0,491.9 L67.5,491.8 L68.0,491.8 L68.5,491.8 L69.0,491.7 L69.5,491.7 L70.0,491.6 L70.5,491.6 L71.0,491.6 L71.5,491.5 L72.0,491.5 L72.5,491.4 L73.0,491.4 L73.5,491.4 L74.0,491.3 L74.5,491.3 L75.0,491.2 L75.5,491.2 L76.0,491.2 L76.5,491.1 L77.0,491.1 L77.5,491.0 L78.0,491.0 L78.5,491.0 L79.0,490.9 L79.5,490.9 L80.0,490.9 L80.5,490.8 L81.0,490.8 L81.5,490.7 L82.0,490.7 L82.5,490.7 L83.0,490.6 L83.5,490.6 L84.0,490.5 L84.5,490.5 L85.0,490.5 L85.5,490.4 L86.0,490.4 L86.5,490.3 L87.0,490.3 L87.5,490.3 L88.0,490.2 L88.5,490.2 L89.0,490.1 L89.5,490.1 L90.0,490.1 L90.5,490.0 L91.0,490.0 L91.5,490.0 L92.0,489.9 L92.5,489.9 L93.0,489.8 L93.5,489.8 L94.0,489.8 L94.5,489.7 L95.0,489.7 L95.5,489.6 L96.0,489.6 L96.5,489.6 L97.0,489.5 L97.5,489.5 L98.0,489.4 L98.5,489.4 L99.0,489.4 L99.5,489.3 L100.0,489.3 L100.5,489.2 L101.0,489.2 L101.5,489.2 L102.0,489.1 L102.5,489.1 L103.0,489.0 L103.5,489.0 L104.0,489.0 L104.5,488.9 L105.0,488.9 L105.5,488.9 L106.0,488.8 L106.5,488.8 L107.0,488.7 L107.5,488.7 L108.0,488.7 L108.5,488.6 L109.0,488.6 L109.5,488.5 L110.0,488.5 L110.5,488.5 L111.0,488.4 L111.5,488.4 L112.0,488.3 L112.5,488.3 L113.0,488.3 L113.5,488.2 L114.0,488.2 L114.5,488.1 L115.0,488.1 L115.5,488.1 L116.0,488.0 L116.5,488.0 L117.0,487.9 L117.5,487.9 L118.0,487.9 L118.5,487.8 L119.0,487.8 L119.5,487.8 L120.0,487.7 L120.5,487.7 L121.0,487.6 L121.5,487.6 L122.0,487.6 L122.5,487.5 L123.0,487.5 L123.5,487.4 L124.0,487.4 L124.5,487.4 L125.0,487.3 L125.5,487.3 L126.0,487.2 L126.5,487.2 L127.0,487.2 L127.5,487.1 L128.0,487.1 L128.5,487.0 L129.0,487.0 L129.5,487.0 L130.0,486.9 L130.5,486.9 L131.0,486.8 L131.5,486.8 L132.0,486.8 L132.5,486.7 L133.0,486.7 L133.5,486.7 L134.0,486.6 L134.5,486.6 L135.0,486.5 L135.5,486.5 L136.0,486.5 L136.5,486.4 L137.0,486.4 L137.5,486.3 L138.0,486.3 L138.5,486.3 L139.0,486.2 L139.5,486.2 L140.0,486.1 L140.5,486.1 L141.0,486.1 L141.5,486.0 L142.0,486.0 L142.5,485.9 L143.0,485.9 L143.5,485.9 L144.0,485.8 L144.5,485.8 L145.0,485.8 L145.5,485.7 L146.0,485.7 L146.5,485.6 L147.0,485.6 L147.5,485.6 L148.0,485.5 L148.5,485.5 L149.0,485.4 L149.5,485.4 L150.0,485.4 L150.5,485.3 L151.0,485.3 L151.5,485.2 L152.0,485.2 L152.5,485.2 L153.0,485.1 L153.5,485.1 L154.0,485.0 L154.5,485.0 L155.0,485.0 L155.5,484.9 L156.0,484.9 L156.5,484.8 L157.0,484.8 L157.5,484.8 L158.0,484.7 L158.5,484.7 L159.0,484.7 L159.5,484.6 L160.0,484.6 L160.5,484.5 L161.0,484.5 L161.5,484.5 L162.0,484.4 L162.5,484.4 L163.0,484.3 L163.5,484.3 L164.0,484.3 L164.5,484.2 L165.0,484.2 L165.5,484.1 L166.0,484.1 L166.5,484.1 L167.0,484.0 L167.5,484.0 L168.0,483.9 L168.5,483.9 L169.0,483.9 L169.5,483.8 L170.0,483.8 L170.5,483.7 L171.0,483.7 L171.5,483.7 L172.0,483.6 L172.5,483.6 L173.0,483.6 L173.5,483.5 L174.0,483.5 L174.5,483.4 L175.0,483.4 L175.5,483.4 L176.0,483.3 L176.5,483.3 L177.0,483.2 L177.5,483.2 L178.0,483.2 L178.5,483.1 L179.0,483.1 L179.5,483.0 L180.0,483.0 L180.5,483.0 L181.0,482.9 L181.5,482.9 L182.0,482.8 L182.5,482.8 L183.0,482.8 L183.5,482.7 L184.0,482.7 L184.5,482.7 L185.0,482.6 L185.5,482.6 L186.0,482.5 L186.5,482.5 L187.0,482.5 L187.5,482.4 L188.0,482.4 L188.5,482.3 L189.0,482.3 L189.5,482.3 L190.0,482.2 L190.5,482.2 L191.0,482.1 L191.5,482.1 L192.0,482.1 L192.5,482.0 L193.0,482.0 L193.5,481.9 L194.0,481.9 L194.5,481.9 L195.0,481.8 L195.5,481.8 L196.0,481.7 L196.5,481.7 L197.0,481.7 L197.5,481.6 L198.0,481.6 L198.5,481.6 L199.0,481.5 L199.5,481.5 L200.0,481.4 L200.5,481.4 L201.0,481.4 L201.5,481.3 L202.0,481.3 L202.5,481.2 L203.0,481.2 L203.5,481.2 L204.0,481.1 L204.5,481.1 L205.0,481.0 L205.5,481.0 L206.0,481.0 L206.5,480.9 L207.0,480.9 L207.5,480.8 L208.0,480.8 L208.5,480.8 L209.0,480.7 L209.5,480.7 L210.0,480.6 L210.5,480.6 L211.0,480.6 L211.5,480.5 L212.0,480.5 L212.5,480.5 L213.0,480.4 L213.5,480.4 L214.0,480.3 L214.5,480.3 L215.0,480.3 L215.5,480.2 L216.0,480.2 L216.5,480.1 L217.0,480.1 L217.5,480.1 L218.0,480.0 L218.5,480.0 L219.0,479.9 L219.5,479.9 L220.0,479.9 L220.5,479.8 L221.0,479.8 L221.5,479.7 L222.0,479.7 L222.5,479.7 L223.0,479.6 L223.5,479.6 L224.0,479.5 L224.5,479.5 L225.0,479.5 L225.5,479.4 L226.0,479.4 L226.5,479.4 L227.0,479.3 L227.5,479.3 L228.0,479.2 L228.5,479.2 L229.0,479.2 L229.5,479.1 L230.0,479.1 L230.5,479.0 L231.0,479.0 L231.5,479.0 L232.0,478.9 L232.5,478.9 L233.0,478.8 L233.5,478.8 L234.0,478.8 L234.5,478.7 L235.0,478.7 L235.5,478.6 L236.0,478.6 L236.5,478.6 L237.0,478.5 L237.5,478.5 L238.0,478.5 L238.5,478.4 L239.0,478.4 L239.5,478.3 L240.0,478.3 L240.5,478.3 L241.0,478.2 L241.5,478.2 L242.0,478.1 L242.5,478.1 L243.0,478.1 L243.5,478.0 L244.0,478.0 L244.5,477.9 L245.0,477.9 L245.5,477.9 L246.0,477.8 L246.5,477.8 L247.0,477.7 L247.5,477.7 L248.0,477.7 L248.5,477.6 L249.0,477.6 L249.5,477.5 L250.0,477.5 L250.5,477.5 L251.0,477.4 L251.5,477.4 L252.0,477.4 L252.5,477.3 L253.0,477.3 L253.5,477.2 L254.0,477.2 L254.5,477.2 L255.0,477.1 L255.5,477.1 L256.0,477.0 L256.5,477.0 L257.0,477.0 L257.5,476.9 L258.0,476.9 L258.5,476.8 L259.0,476.8 L259.5,476.8 L260.0,476.7 L260.5,476.7 L261.0,476.6 L261.5,476.6 L262.0,476.6 L262.5,476.5 L263.0,476.5 L263.5,476.4 L264.0,476.4 L264.5,476.4 L265.0,476.3 L265.5,476.3 L266.0,476.3 L266.5,476.2 L267.0,476.2 L267.5,476.1 L268.0,476.1 L268.5,476.1 L269.0,476.0 L269.5,476.0 L270.0,475.9 L270.5,475.9 L271.0,475.9 L271.5,475.8 L272.0,475.8 L272.5,475.7 L273.0,475.7 L273.5,475.7 L274.0,475.6 L274.5,475.6 L275.0,475.5 L275.5,475.5 L276.0,475.5 L276.5,475.4 L277.0,475.4 L277.5,475.4 L278.0,475.3 L278.5,475.3 L279.0,475.2 L279.5,475.2 L280.0,475.2 L280.5,475.1 L281.0,475.1 L281.5,475.0 L282.0,475.0 L282.5,475.0 L283.0,474.9 L283.5,474.9 L284.0,474.8 L284.5,474.8 L285.0,474.8 L285.5,474.7 L286.0,474.7 L286.5,474.6 L287.0,474.6 L287.5,474.6 L288.0,474.5 L288.5,474.5 L289.0,474.4 L289.5,474.4 L290.0,474.4 L290.5,474.3 L291.0,474.3 L291.5,474.3 L292.0,474.2 L292.5,474.2 L293.0,474.1 L293.5,474.1 L294.0,474.1 L294.5,474.0 L295.0,474.0 L295.5,473.9 L296.0,473.9 L296.5,473.9 L297.0,473.8 L297.5,473.8 L298.0,473.7 L298.5,473.7 L299.0,473.7 L299.5,473.6 L300.0,473.6 L300.5,473.5 L301.0,473.5 L301.5,473.5 L302.0,473.4 L302.5,473.4 L303.0,473.3 L303.5,473.3 L304.0,473.3 L304.5,473.2 L305.0,473.2 L305.5,473.2 L306.0,473.1 L306.5,473.1 L307.0,473.0 L307.5,473.0 L308.0,473.0 L308.5,472.9 L309.0,472.9 L309.5,472.8 L310.0,472.8 L310.5,472.8 L311.0,472.7 L311.5,472.7 L312.0,472.6 L312.5,472.6 L313.0,472.6 L313.5,472.5 L314.0,472.5 L314.5,472.4 L315.0,472.4 L315.5,472.4 L316.0,472.3 L316.5,472.3 L317.0,472.2 L317.5,472.2 L318.0,472.2 L318.5,472.1 L319.0,472.1 L319.5,472.1 L320.0,472.0 L320.5,472.0 L321.0,471.9 L321.5,471.9 L322.0,471.9 L322.5,471.8 L323.0,471.8 L323.5,471.7 L324.0,471.7" fill="none" stroke="#0000ff" stroke-width="2.2" stroke-linejoin="round" stroke-linecap="round" />
<path d="M21.5,495.0 L22.0,494.9 L22.5,494.9 L23.0,494.8 L23.5,494.8 L24.0,494.8 L24.5,494.7 L25.0,494.7 L25.5,494.6 L26.0,494.6 L26.5,494.5 L27.0,494.5 L27.5,494.5 L28.0,494.4 L28.5,494.4 L29.0,494.3 L29.5,494.3 L30.0,494.2 L30.5,494.2 L31.0,494.2 L31.5,494.1 L32.0,494.1 L32.5,494.0 L33.0,494.0 L33.5,493.9 L34.0,493.9 L34.5,493.9 L35.0,493.8 L35.5,493.8 L36.0,493.7 L36.5,493.7 L37.0,493.6 L37.5,493.6 L38.0,493.6 L38.5,493.5 L39.0,493.5 L39.5,493.4 L40.0,493.4 L40.5,493.3 L41.0,493.3 L41.5,493.2 L42.0,493.2 L42.5,493.2 L43.0,493.1 L43.5,493.1 L44.0,493.0 L44.5,493.0 L45.0,492.9 L45.5,492.9 L46.0,492.9 L46.5,492.8 L47.0,492.8 L47.5,492.7 L48.0,492.7 L48.5,492.6 L49.0,492.6 L49.5,492.5 L50.0,492.5 L50.5,492.5 L51.0,492.4 L51.5,492.4 L52.0,492.3 L52.5,492.3 L53.0,492.2 L53.5,492.2 L54.0,492.1 L54.5,492.1 L55.0,492.0 L55.5,492.0 L56.0,492.0 L56.5,491.9 L57.0,491.9 L57.5,491.8 L58.0,491.8 L58.5,491.7 L59.0,491.7 L59.5,491.6 L60.0,491.6 L60.5,491.5 L61.0,491.5 L61.5,491.5 L62.0,491.4 L62.5,491.4 L63.0,491.3 L63.5,491.3 L64.0,491.2 L64.5,491.2 L65.0,491.1 L65.5,491.1 L66.0,491.0 L66.5,491.0 L67.0,490.9 L67.5,490.9 L68.0,490.8 L68.5,490.8 L69.0,490.8 L69.5,490.7 L70.0,490.7 L70.5,490.6 L71.0,490.6 L71.5,490.5 L72.0,490.5 L72.5,490.4 L73.0,490.4 L73.5,490.3 L74.0,490.3 L74.5,490.2 L75.0,490.2 L75.5,490.1 L76.0,490.1 L76.5,490.0 L77.0,490.0 L77.5,489.9 L78.0,489.9 L78.5,489.8 L79.0,489.8 L79.5,489.7 L80.0,489.7 L80.5,489.6 L81.0,489.6 L81.5,489.5 L82.0,489.5 L82.5,489.4 L83.0,489.4 L83.5,489.3 L84.0,489.3 L84.5,489.2 L85.0,489.2 L85.5,489.1 L86.0,489.1 L86.5,489.0 L87.0,488.9 L87.5,488.9 L88.0,488.8 L88.5,488.8 L89.0,488.7 L89.5,488.7 L90.0,488.6 L90.5,488.6 L91.0,488.5 L91.5,488.5 L92.0,488.4 L92.5,488.3 L93.0,488.3 L93.5,488.2 L94.0,488.2 L94.5,488.1 L95.0,488.1 L95.5,488.0 L96.0,487.9 L96.5,487.9 L97.0,487.8 L97.5,487.8 L98.0,487.7 L98.5,487.7 L99.0,487.6 L99.5,487.5 L100.0,487.5 L100.5,487.4 L101.0,487.3 L101.5,487.3 L102.0,487.2 L102.5,487.2 L103.0,487.1 L103.5,487.0 L104.0,487.0 L104.5,486.9 L105.0,486.8 L105.5,486.8 L106.0,486.7 L106.5,486.6 L107.0,486.6 L107.5,486.5 L108.0,486.4 L108.5,486.4 L109.0,486.3 L109.5,486.2 L110.0,486.2 L110.5,486.1 L111.0,486.0 L111.5,486.0 L112.0,485.9 L112.5,485.8 L113.0,485.7 L113.5,485.7 L114.0,485.6 L114.5,485.5 L115.0,485.4 L115.5,485.4 L116.0,485.3 L116.5,485.2 L117.0,485.1 L117.5,485.0 L118.0,484.9 L118.5,484.9 L119.0,484.8 L119.5,484.7 L120.0,484.6 L120.5,484.5 L121.0,484.4 L121.5,484.3 L122.0,484.3 L122.5,484.2 L123.0,484.1 L123.5,484.0 L124.0,483.9 L124.5,483.8 L125.0,483.7 L125.5,483.6 L126.0,483.5 L126.5,483.4 L127.0,483.3 L127.5,483.2 L128.0,483.0 L128.5,482.9 L129.0,482.8 L129.5,482.7 L130.0,482.6 L130.5,482.5 L131.0,482.3 L131.5,482.2 L132.0,482.1 L132.5,481.9 L133.0,481.8 L133.5,481.7 L134.0,481.5 L134.5,481.4 L135.0,481.2 L135.5,481.1 L136.0,480.9 L136.5,480.7 L137.0,480.5 L137.5,480.4 L138.0,480.2 L138.5,480.0 L139.0,479.8 L139.5,479.6 L140.0,479.4 L140.5,479.1 L141.0,478.9 L141.5,478.7 L142.0,478.4 L142.5,478.2 L143.0,477.9 L143.5,477.6 L144.0,477.3 L144.5,477.0 L145.0,476.7 L145.5,476.3 L146.0,475.9 L146.5,475.6 L147.0,475.2 L147.5,474.8 L148.0,474.3 L148.5,473.9 L149.0,473.4 L149.5,472.9 L150.0,472.4 L150.5,471.8 L151.0,471.2 L151.5,470.6 L152.0,470.0 L152.5,469.3 L153.0,468.6 L153.5,467.9 L154.0,467.1 L154.5,466.3 L155.0,465.5 L155.5,464.6 L156.0,463.7 L156.5,462.8 L157.0,461.8 L157.5,460.8 L158.0,459.7 L158.5,458.6 L159.0,457.5 L159.5,456.3 L160.0,455.1 L160.5,453.8 L161.0,452.5 L161.5,451.1 L162.0,449.7 L162.5,448.3 L163.0,446.8 L163.5,445.3 L164.0,443.8 L164.5,442.2 L165.0,440.5 L165.5,438.9 L166.0,437.2 L166.5,435.5 L167.0,433.7 L167.5,431.9 L168.0,430.1 L168.5,428.3 L169.0,426.5 L169.5,424.7 L170.0,422.8 L170.5,421.0 L171.0,419.1 L171.5,417.3 L172.0,415.5 L172.5,413.7 L173.0,411.9 L173.5,410.2 L174.0,408.6 L174.5,407.0 L175.0,405.4 L175.5,403.9 L176.0,402.6 L176.5,401.3 L177.0,400.1 L177.5,399.0 L178.0,398.0 L178.5,397.2 L179.0,396.5 L179.5,395.9 L180.0,395.4 L180.5,395.2 L181.0,395.0 L181.5,395.0 L182.0,395.2 L182.5,395.5 L183.0,395.9 L183.5,396.5 L184.0,397.2 L184.5,398.0 L185.0,399.0 L185.5,400.1 L186.0,401.3 L186.5,402.5 L187.0,403.9 L187.5,405.3 L188.0,406.8 L188.5,408.4 L189.0,410.0 L189.5,411.7 L190.0,413.4 L190.5,415.1 L191.0,416.8 L191.5,418.6 L192.0,420.4 L192.5,422.1 L193.0,423.9 L193.5,425.6 L194.0,427.4 L194.5,429.1 L195.0,430.8 L195.5,432.5 L196.0,434.2 L196.5,435.8 L197.0,437.4 L197.5,439.0 L198.0,440.5 L198.5,442.0 L199.0,443.4 L199.5,444.8 L200.0,446.2 L200.5,447.5 L201.0,448.8 L201.5,450.1 L202.0,451.3 L202.5,452.5 L203.0,453.6 L203.5,454.7 L204.0,455.7 L204.5,456.7 L205.0,457.7 L205.5,458.6 L206.0,459.4 L206.5,460.3 L207.0,461.1 L207.5,461.9 L208.0,462.6 L208.5,463.3 L209.0,464.0 L209.5,464.6 L210.0,465.2 L210.5,465.8 L211.0,466.3 L211.5,466.8 L212.0,467.3 L212.5,467.7 L213.0,468.2 L213.5,468.6 L214.0,469.0 L214.5,469.3 L215.0,469.7 L215.5,470.0 L216.0,470.3 L216.5,470.6 L217.0,470.9 L217.5,471.1 L218.0,471.4 L218.5,471.6 L219.0,471.8 L219.5,472.0 L220.0,472.2 L220.5,472.4 L221.0,472.6 L221.5,472.7 L222.0,472.9 L222.5,473.0 L223.0,473.1 L223.5,473.3 L224.0,473.4 L224.5,473.5 L225.0,473.6 L225.5,473.7 L226.0,473.8 L226.5,473.9 L227.0,473.9 L227.5,474.0 L228.0,474.1 L228.5,474.2 L229.0,474.2 L229.5,474.3 L230.0,474.3 L230.5,474.4 L231.0,474.4 L231.5,474.5 L232.0,474.5 L232.5,474.6 L233.0,474.6 L233.5,474.7 L234.0,474.7 L234.5,474.7 L235.0,474.8 L235.5,474.8 L236.0,474.8 L236.5,474.8 L237.0,474.9 L237.5,474.9 L238.0,474.9 L238.5,474.9 L239.0,474.9 L239.5,475.0 L240.0,475.0 L240.5,475.0 L241.0,475.0 L241.5,475.0 L242.0,475.0 L242.5,475.0 L243.0,475.0 L243.5,475.0 L244.0,475.0 L244.5,475.0 L245.0,475.0 L245.5,475.1 L246.0,475.1 L246.5,475.1 L247.0,475.1 L247.5,475.1 L248.0,475.0 L248.5,475.0 L249.0,475.0 L249.5,475.0 L250.0,475.0 L250.5,475.0 L251.0,475.0 L251.5,475.0 L252.0,475.0 L252.5,475.0 L253.0,475.0 L253.5,475.0 L254.0,475.0 L254.5,475.0 L255.0,475.0 L255.5,474.9 L256.0,474.9 L256.5,474.9 L257.0,474.9 L257.5,474.9 L258.0,474.9 L258.5,474.9 L259.0,474.8 L259.5,474.8 L260.0,474.8 L260.5,474.8 L261.0,474.8 L261.5,474.8 L262.0,474.7 L262.5,474.7 L263.0,474.7 L263.5,474.7 L264.0,474.7 L264.5,474.7 L265.0,474.6 L265.5,474.6 L266.0,474.6 L266.5,474.6 L267.0,474.6 L267.5,474.5 L268.0,474.5 L268.5,474.5 L269.0,474.5 L269.5,474.4 L270.0,474.4 L270.5,474.4 L271.0,474.4 L271.5,474.4 L272.0,474.3 L272.5,474.3 L273.0,474.3 L273.5,474.3 L274.0,474.2 L274.5,474.2 L275.0,474.2 L275.5,474.2 L276.0,474.1 L276.5,474.1 L277.0,474.1 L277.5,474.1 L278.0,474.0 L278.5,474.0 L279.0,474.0 L279.5,473.9 L280.0,473.9 L280.5,473.9 L281.0,473.9 L281.5,473.8 L282.0,473.8 L282.5,473.8 L283.0,473.8 L283.5,473.7 L284.0,473.7 L284.5,473.7 L285.0,473.6 L285.5,473.6 L286.0,473.6 L286.5,473.6 L287.0,473.5 L287.5,473.5 L288.0,473.5 L288.5,473.4 L289.0,473.4 L289.5,473.4 L290.0,473.3 L290.5,473.3 L291.0,473.3 L291.5,473.3 L292.0,473.2 L292.5,473.2 L293.0,473.2 L293.5,473.1 L294.0,473.1 L294.5,473.1 L295.0,473.0 L295.5,473.0 L296.0,473.0 L296.5,472.9 L297.0,472.9 L297.5,472.9 L298.0,472.9 L298.5,472.8 L299.0,472.8 L299.5,472.8 L300.0,472.7 L300.5,472.7 L301.0,472.7 L301.5,472.6 L302.0,472.6 L302.5,472.6 L303.0,472.5 L303.5,472.5 L304.0,472.5 L304.5,472.4 L305.0,472.4 L305.5,472.4 L306.0,472.3 L306.5,472.3 L307.0,472.3 L307.5,472.2 L308.0,472.2 L308.5,472.2 L309.0,472.1 L309.5,472.1 L310.0,472.1 L310.5,472.0 L311.0,472.0 L311.5,472.0 L312.0,471.9 L312.5,471.9 L313.0,471.9 L313.5,471.8 L314.0,471.8 L314.5,471.8 L315.0,471.7 L315.5,471.7 L316.0,471.7 L316.5,471.6 L317.0,471.6 L317.5,471.6 L318.0,471.5 L318.5,471.5 L319.0,471.5 L319.5,471.4 L320.0,471.4 L320.5,471.3 L321.0,471.3 L321.5,471.3 L322.0,471.2 L322.5,471.2 L323.0,471.2 L323.5,471.1 L324.0,471.1" fill="none" stroke="#0b7f7f" stroke-width="2.8" stroke-linejoin="round" stroke-linecap="round" />
<path d="M21.5,495.4 L22.0,495.4 L22.5,495.3 L23.0,495.3 L23.5,495.3 L24.0,495.2 L24.5,495.2 L25.0,495.1 L25.5,495.1 L26.0,495.1 L26.5,495.0 L27.0,495.0 L27.5,494.9 L28.0,494.9 L28.5,494.9 L29.0,494.8 L29.5,494.8 L30.0,494.7 L30.5,494.7 L31.0,494.7 L31.5,494.6 L32.0,494.6 L32.5,494.5 L33.0,494.5 L33.5,494.5 L34.0,494.4 L34.5,494.4 L35.0,494.4 L35.5,494.3 L36.0,494.3 L36.5,494.2 L37.0,494.2 L37.5,494.2 L38.0,494.1 L38.5,494.1 L39.0,494.0 L39.5,494.0 L40.0,494.0 L40.5,493.9 L41.0,493.9 L41.5,493.8 L42.0,493.8 L42.5,493.8 L43.0,493.7 L43.5,493.7 L44.0,493.6 L44.5,493.6 L45.0,493.6 L45.5,493.5 L46.0,493.5 L46.5,493.4 L47.0,493.4 L47.5,493.4 L48.0,493.3 L48.5,493.3 L49.0,493.2 L49.5,493.2 L50.0,493.2 L50.5,493.1 L51.0,493.1 L51.5,493.0 L52.0,493.0 L52.5,493.0 L53.0,492.9 L53.5,492.9 L54.0,492.9 L54.5,492.8 L55.0,492.8 L55.5,492.7 L56.0,492.7 L56.5,492.7 L57.0,492.6 L57.5,492.6 L58.0,492.5 L58.5,492.5 L59.0,492.5 L59.5,492.4 L60.0,492.4 L60.5,492.3 L61.0,492.3 L61.5,492.3 L62.0,492.2 L62.5,492.2 L63.0,492.1 L63.5,492.1 L64.0,492.1 L64.5,492.0 L65.0,492.0 L65.5,491.9 L66.0,491.9 L66.5,491.9 L67.0,491.8 L67.5,491.8 L68.0,491.7 L68.5,491.7 L69.0,491.7 L69.5,491.6 L70.0,491.6 L70.5,491.5 L71.0,491.5 L71.5,491.5 L72.0,491.4 L72.5,491.4 L73.0,491.3 L73.5,491.3 L74.0,491.3 L74.5,491.2 L75.0,491.2 L75.5,491.1 L76.0,491.1 L76.5,491.1 L77.0,491.0 L77.5,491.0 L78.0,490.9 L78.5,490.9 L79.0,490.9 L79.5,490.8 L80.0,490.8 L80.5,490.7 L81.0,490.7 L81.5,490.7 L82.0,490.6 L82.5,490.6 L83.0,490.6 L83.5,490.5 L84.0,490.5 L84.5,490.4 L85.0,490.4 L85.5,490.4 L86.0,490.3 L86.5,490.3 L87.0,490.2 L87.5,490.2 L88.0,490.2 L88.5,490.1 L89.0,490.1 L89.5,490.0 L90.0,490.0 L90.5,490.0 L91.0,489.9 L91.5,489.9 L92.0,489.8 L92.5,489.8 L93.0,489.8 L93.5,489.7 L94.0,489.7 L94.5,489.6 L95.0,489.6 L95.5,489.6 L96.0,489.5 L96.5,489.5 L97.0,489.4 L97.5,489.4 L98.0,489.4 L98.5,489.3 L99.0,489.3 L99.5,489.2 L100.0,489.2 L100.5,489.2 L101.0,489.1 L101.5,489.1 L102.0,489.0 L102.5,489.0 L103.0,489.0 L103.5,488.9 L104.0,488.9 L104.5,488.8 L105.0,488.8 L105.5,488.8 L106.0,488.7 L106.5,488.7 L107.0,488.6 L107.5,488.6 L108.0,488.5 L108.5,488.5 L109.0,488.5 L109.5,488.4 L110.0,488.4 L110.5,488.3 L111.0,488.3 L111.5,488.3 L112.0,488.2 L112.5,488.2 L113.0,488.1 L113.5,488.1 L114.0,488.1 L114.5,488.0 L115.0,488.0 L115.5,487.9 L116.0,487.9 L116.5,487.9 L117.0,487.8 L117.5,487.8 L118.0,487.7 L118.5,487.7 L119.0,487.7 L119.5,487.6 L120.0,487.6 L120.5,487.5 L121.0,487.5 L121.5,487.5 L122.0,487.4 L122.5,487.4 L123.0,487.3 L123.5,487.3 L124.0,487.2 L124.5,487.2 L125.0,487.2 L125.5,487.1 L126.0,487.1 L126.5,487.0 L127.0,487.0 L127.5,487.0 L128.0,486.9 L128.5,486.9 L129.0,486.8 L129.5,486.8 L130.0,486.8 L130.5,486.7 L131.0,486.7 L131.5,486.6 L132.0,486.6 L132.5,486.5 L133.0,486.5 L133.5,486.5 L134.0,486.4 L134.5,486.4 L135.0,486.3 L135.5,486.3 L136.0,486.3 L136.5,486.2 L137.0,486.2 L137.5,486.1 L138.0,486.1 L138.5,486.0 L139.0,486.0 L139.5,486.0 L140.0,485.9 L140.5,485.9 L141.0,485.8 L141.5,485.8 L142.0,485.7 L142.5,485.7 L143.0,485.7 L143.5,485.6 L144.0,485.6 L144.5,485.5 L145.0,485.5 L145.5,485.4 L146.0,485.4 L146.5,485.4 L147.0,485.3 L147.5,485.3 L148.0,485.2 L148.5,485.2 L149.0,485.1 L149.5,485.1 L150.0,485.0 L150.5,485.0 L151.0,485.0 L151.5,484.9 L152.0,484.9 L152.5,484.8 L153.0,484.8 L153.5,484.7 L154.0,484.7 L154.5,484.6 L155.0,484.6 L155.5,484.5 L156.0,484.5 L156.5,484.4 L157.0,484.4 L157.5,484.3 L158.0,484.3 L158.5,484.3 L159.0,484.2 L159.5,484.2 L160.0,484.1 L160.5,484.1 L161.0,484.0 L161.5,484.0 L162.0,483.9 L162.5,483.9 L163.0,483.8 L163.5,483.8 L164.0,483.7 L164.5,483.7 L165.0,483.6 L165.5,483.5 L166.0,483.5 L166.5,483.4 L167.0,483.4 L167.5,483.3 L168.0,483.3 L168.5,483.2 L169.0,483.2 L169.5,483.1 L170.0,483.0 L170.5,483.0 L171.0,482.9 L171.5,482.8 L172.0,482.8 L172.5,482.7 L173.0,482.6 L173.5,482.5 L174.0,482.5 L174.5,482.4 L175.0,482.3 L175.5,482.2 L176.0,482.1 L176.5,481.9 L177.0,481.8 L177.5,481.7 L178.0,481.5 L178.5,481.3 L179.0,481.1 L179.5,480.9 L180.0,480.6 L180.5,480.4 L181.0,480.1 L181.5,479.7 L182.0,479.3 L182.5,478.9 L183.0,478.4 L183.5,477.8 L184.0,477.2 L184.5,476.5 L185.0,475.7 L185.5,474.9 L186.0,473.9 L186.5,472.8 L187.0,471.7 L187.5,470.4 L188.0,469.0 L188.5,467.4 L189.0,465.8 L189.5,464.0 L190.0,462.0 L190.5,459.9 L191.0,457.7 L191.5,455.3 L192.0,452.7 L192.5,450.0 L193.0,447.2 L193.5,444.2 L194.0,441.1 L194.5,437.9 L195.0,434.6 L195.5,431.2 L196.0,427.7 L196.5,424.2 L197.0,420.6 L197.5,417.0 L198.0,413.4 L198.5,409.9 L199.0,406.4 L199.5,403.1 L200.0,399.8 L200.5,396.7 L201.0,393.8 L201.5,391.1 L202.0,388.6 L202.5,386.4 L203.0,384.5 L203.5,382.8 L204.0,381.5 L204.5,380.6 L205.0,380.0 L205.5,379.8 L206.0,379.9 L206.5,380.5 L207.0,381.3 L207.5,382.5 L208.0,384.1 L208.5,385.9 L209.0,388.0 L209.5,390.4 L210.0,393.1 L210.5,395.9 L211.0,398.9 L211.5,402.1 L212.0,405.4 L212.5,408.8 L213.0,412.3 L213.5,415.8 L214.0,419.3 L214.5,422.8 L215.0,426.2 L215.5,429.6 L216.0,432.9 L216.5,436.2 L217.0,439.3 L217.5,442.3 L218.0,445.2 L218.5,448.0 L219.0,450.6 L219.5,453.1 L220.0,455.4 L220.5,457.6 L221.0,459.6 L221.5,461.5 L222.0,463.2 L222.5,464.8 L223.0,466.2 L223.5,467.6 L224.0,468.8 L224.5,469.9 L225.0,470.8 L225.5,471.7 L226.0,472.5 L226.5,473.2 L227.0,473.8 L227.5,474.4 L228.0,474.8 L228.5,475.3 L229.0,475.6 L229.5,475.9 L230.0,476.2 L230.5,476.4 L231.0,476.6 L231.5,476.8 L232.0,477.0 L232.5,477.1 L233.0,477.2 L233.5,477.3 L234.0,477.3 L234.5,477.4 L235.0,477.4 L235.5,477.5 L236.0,477.5 L236.5,477.5 L237.0,477.5 L237.5,477.5 L238.0,477.5 L238.5,477.5 L239.0,477.5 L239.5,477.5 L240.0,477.5 L240.5,477.5 L241.0,477.5 L241.5,477.4 L242.0,477.4 L242.5,477.4 L243.0,477.4 L243.5,477.4 L244.0,477.3 L244.5,477.3 L245.0,477.3 L245.5,477.3 L246.0,477.2 L246.5,477.2 L247.0,477.2 L247.5,477.2 L248.0,477.1 L248.5,477.1 L249.0,477.1 L249.5,477.1 L250.0,477.0 L250.5,477.0 L251.0,477.0 L251.5,476.9 L252.0,476.9 L252.5,476.9 L253.0,476.8 L253.5,476.8 L254.0,476.8 L254.5,476.8 L255.0,476.7 L255.5,476.7 L256.0,476.7 L256.5,476.6 L257.0,476.6 L257.5,476.6 L258.0,476.5 L258.5,476.5 L259.0,476.5 L259.5,476.4 L260.0,476.4 L260.5,476.4 L261.0,476.3 L261.5,476.3 L262.0,476.3 L262.5,476.2 L263.0,476.2 L263.5,476.2 L264.0,476.1 L264.5,476.1 L265.0,476.1 L265.5,476.0 L266.0,476.0 L266.5,475.9 L267.0,475.9 L267.5,475.9 L268.0,475.8 L268.5,475.8 L269.0,475.8 L269.5,475.7 L270.0,475.7 L270.5,475.7 L271.0,475.6 L271.5,475.6 L272.0,475.6 L272.5,475.5 L273.0,475.5 L273.5,475.4 L274.0,475.4 L274.5,475.4 L275.0,475.3 L275.5,475.3 L276.0,475.3 L276.5,475.2 L277.0,475.2 L277.5,475.2 L278.0,475.1 L278.5,475.1 L279.0,475.0 L279.5,475.0 L280.0,475.0 L280.5,474.9 L281.0,474.9 L281.5,474.9 L282.0,474.8 L282.5,474.8 L283.0,474.8 L283.5,474.7 L284.0,474.7 L284.5,474.6 L285.0,474.6 L285.5,474.6 L286.0,474.5 L286.5,474.5 L287.0,474.5 L287.5,474.4 L288.0,474.4 L288.5,474.3 L289.0,474.3 L289.5,474.3 L290.0,474.2 L290.5,474.2 L291.0,474.2 L291.5,474.1 L292.0,474.1 L292.5,474.0 L293.0,474.0 L293.5,474.0 L294.0,473.9 L294.5,473.9 L295.0,473.9 L295.5,473.8 L296.0,473.8 L296.5,473.7 L297.0,473.7 L297.5,473.7 L298.0,473.6 L298.5,473.6 L299.0,473.5 L299.5,473.5 L300.0,473.5 L300.5,473.4 L301.0,473.4 L301.5,473.4 L302.0,473.3 L302.5,473.3 L303.0,473.2 L303.5,473.2 L304.0,473.2 L304.5,473.1 L305.0,473.1 L305.5,473.1 L306.0,473.0 L306.5,473.0 L307.0,472.9 L307.5,472.9 L308.0,472.9 L308.5,472.8 L309.0,472.8 L309.5,472.7 L310.0,472.7 L310.5,472.7 L311.0,472.6 L311.5,472.6 L312.0,472.6 L312.5,472.5 L313.0,472.5 L313.5,472.4 L314.0,472.4 L314.5,472.4 L315.0,472.3 L315.5,472.3 L316.0,472.2 L316.5,472.2 L317.0,472.2 L317.5,472.1 L318.0,472.1 L318.5,472.1 L319.0,472.0 L319.5,472.0 L320.0,471.9 L320.5,471.9 L321.0,471.9 L321.5,471.8 L322.0,471.8 L322.5,471.7 L323.0,471.7 L323.5,471.7 L324.0,471.6" fill="none" stroke="#ff00ff" stroke-width="2.8" stroke-linejoin="round" stroke-linecap="round" />
<path d="M367.6,505.7 L369.2,508.1 L370.8,511.3 L373.2,509.7 L375.6,512.9 L378.8,509.7 L382.1,506.5 L384.5,511.3 L386.9,516.9 L388.5,510.5 L390.9,504.9 L392.5,512.1 L394.9,504.9 L396.5,510.5 L398.1,504.1 L399.7,509.7 L402.1,505.7 L405.3,507.3 L407.8,509.7 L411.0,507.3 L413.4,505.7 L415.8,509.7 L417.4,504.1 L419.8,511.3 L421.4,507.3 L423.8,514.5 L425.4,505.7 L427.8,509.7 L430.2,504.9 L432.6,510.5 L434.3,505.7 L436.7,509.7 L439.1,505.7 L441.5,502.5 L443.1,499.3 L445.5,509.7 L447.9,504.9 L452.7,504.9 L457.5,505.7 L460.7,502.5 L462.4,498.5 L464.0,497.7 L465.6,505.7 L468.8,500.9 L471.2,497.7 L472.8,504.1 L475.2,499.3 L477.4,493.5 L482.1,484.1 L484.4,479.4 L486.7,474.8 L489.1,465.4 L491.4,458.4 L493.7,453.7 L497.2,446.7 L499.6,450.2 L501.9,439.7 L504.5,420.0 L507.7,406.1 L510.4,395.2 L513.2,385.7 L515.9,376.1 L517.9,365.2 L520.0,353.0 L521.1,351.6 L522.7,353.7 L524.1,350.9 L525.4,358.4 L526.8,357.1 L528.1,353.7 L529.5,357.1 L531.5,355.0 L532.9,357.7 L534.3,356.4 L535.6,359.1 L537.0,359.8 L538.4,370.7 L540.4,368.0 L543.1,365.2 L545.2,369.3 L546.5,377.5 L547.9,392.5 L549.9,406.1 L552.0,418.3 L554.5,440.0 L556.8,465.4 L559.4,474.0 L561.5,488.8 L563.8,498.1 L567.3,507.5 L570.8,514.5 L573.7,519.0 L575.8,524.2 L578.8,515.0 L581.9,520.1 L585.0,521.1 L588.0,518.0 L591.1,510.9 L593.1,518.0 L596.2,516.0 L599.3,519.0 L602.3,510.9 L605.4,524.2 L608.5,513.9 L611.5,511.9 L614.6,520.1 L617.7,525.2 L620.7,513.9 L623.8,510.9 L625.8,518.0 L628.9,513.9 L632.0,520.1 L635.0,511.9 L638.1,509.9 L641.2,519.0 L644.2,515.0 L648.3,511.9 L652.4,508.8 L655.5,503.7 L658.5,500.7 L661.6,505.8 L663.6,508.8 L665.7,506.8 L667.7,507.8" fill="none" stroke="#000000" stroke-width="3.2" stroke-linejoin="round" stroke-linecap="round" />
<path d="M367.5,516.3 L368.0,516.3 L368.5,516.2 L369.0,516.2 L369.5,516.2 L370.0,516.2 L370.5,516.2 L371.0,516.2 L371.5,516.1 L372.0,516.1 L372.5,516.1 L373.0,516.1 L373.5,516.1 L374.0,516.1 L374.5,516.0 L375.0,516.0 L375.5,516.0 L376.0,516.0 L376.5,516.0 L377.0,516.0 L377.5,515.9 L378.0,515.9 L378.5,515.9 L379.0,515.9 L379.5,515.9 L380.0,515.8 L380.5,515.8 L381.0,515.8 L381.5,515.8 L382.0,515.8 L382.5,515.8 L383.0,515.7 L383.5,515.7 L384.0,515.7 L384.5,515.7 L385.0,515.7 L385.5,515.7 L386.0,515.6 L386.5,515.6 L387.0,515.6 L387.5,515.6 L388.0,515.6 L388.5,515.6 L389.0,515.5 L389.5,515.5 L390.0,515.5 L390.5,515.5 L391.0,515.5 L391.5,515.4 L392.0,515.4 L392.5,515.4 L393.0,515.4 L393.5,515.4 L394.0,515.4 L394.5,515.3 L395.0,515.3 L395.5,515.3 L396.0,515.3 L396.5,515.3 L397.0,515.3 L397.5,515.2 L398.0,515.2 L398.5,515.2 L399.0,515.2 L399.5,515.2 L400.0,515.2 L400.5,515.1 L401.0,515.1 L401.5,515.1 L402.0,515.1 L402.5,515.1 L403.0,515.0 L403.5,515.0 L404.0,515.0 L404.5,515.0 L405.0,515.0 L405.5,515.0 L406.0,514.9 L406.5,514.9 L407.0,514.9 L407.5,514.9 L408.0,514.9 L408.5,514.9 L409.0,514.8 L409.5,514.8 L410.0,514.8 L410.5,514.8 L411.0,514.8 L411.5,514.8 L412.0,514.7 L412.5,514.7 L413.0,514.7 L413.5,514.7 L414.0,514.7 L414.5,514.6 L415.0,514.6 L415.5,514.6 L416.0,514.6 L416.5,514.6 L417.0,514.6 L417.5,514.5 L418.0,514.5 L418.5,514.5 L419.0,514.5 L419.5,514.5 L420.0,514.5 L420.5,514.4 L421.0,514.4 L421.5,514.4 L422.0,514.4 L422.5,514.4 L423.0,514.3 L423.5,514.3 L424.0,514.3 L424.5,514.3 L425.0,514.3 L425.5,514.3 L426.0,514.2 L426.5,514.2 L427.0,514.2 L427.5,514.2 L428.0,514.2 L428.5,514.1 L429.0,514.1 L429.5,514.1 L430.0,514.1 L430.5,514.1 L431.0,514.0 L431.5,514.0 L432.0,514.0 L432.5,514.0 L433.0,514.0 L433.5,513.9 L434.0,513.9 L434.5,513.9 L435.0,513.9 L435.5,513.8 L436.0,513.8 L436.5,513.8 L437.0,513.8 L437.5,513.7 L438.0,513.7 L438.5,513.7 L439.0,513.7 L439.5,513.6 L440.0,513.6 L440.5,513.6 L441.0,513.5 L441.5,513.5 L442.0,513.5 L442.5,513.4 L443.0,513.4 L443.5,513.4 L444.0,513.3 L444.5,513.3 L445.0,513.2 L445.5,513.2 L446.0,513.1 L446.5,513.1 L447.0,513.0 L447.5,513.0 L448.0,512.9 L448.5,512.9 L449.0,512.8 L449.5,512.7 L450.0,512.6 L450.5,512.6 L451.0,512.5 L451.5,512.4 L452.0,512.3 L452.5,512.2 L453.0,512.1 L453.5,512.0 L454.0,511.9 L454.5,511.8 L455.0,511.7 L455.5,511.5 L456.0,511.4 L456.5,511.3 L457.0,511.1 L457.5,511.0 L458.0,510.8 L458.5,510.6 L459.0,510.4 L459.5,510.2 L460.0,510.0 L460.5,509.8 L461.0,509.6 L461.5,509.4 L462.0,509.1 L462.5,508.9 L463.0,508.6 L463.5,508.3 L464.0,508.0 L464.5,507.7 L465.0,507.4 L465.5,507.1 L466.0,506.7 L466.5,506.4 L467.0,506.0 L467.5,505.6 L468.0,505.2 L468.5,504.7 L469.0,504.3 L469.5,503.8 L470.0,503.3 L470.5,502.8 L471.0,502.3 L471.5,501.8 L472.0,501.2 L472.5,500.7 L473.0,500.1 L473.5,499.4 L474.0,498.8 L474.5,498.1 L475.0,497.5 L475.5,496.8 L476.0,496.0 L476.5,495.3 L477.0,494.5 L477.5,493.7 L478.0,492.9 L478.5,492.1 L479.0,491.3 L479.5,490.4 L480.0,489.5 L480.5,488.6 L481.0,487.6 L481.5,486.7 L482.0,485.7 L482.5,484.7 L483.0,483.7 L483.5,482.7 L484.0,481.6 L484.5,480.5 L485.0,479.5 L485.5,478.3 L486.0,477.2 L486.5,476.1 L487.0,474.9 L487.5,473.7 L488.0,472.6 L488.5,471.4 L489.0,470.1 L489.5,468.9 L490.0,467.7 L490.5,466.4 L491.0,465.1 L491.5,463.9 L492.0,462.6 L492.5,461.3 L493.0,460.0 L493.5,458.7 L494.0,457.3 L494.5,456.0 L495.0,454.7 L495.5,453.3 L496.0,452.0 L496.5,450.6 L497.0,449.2 L497.5,447.9 L498.0,446.5 L498.5,445.1 L499.0,443.7 L499.5,442.3 L500.0,440.9 L500.5,439.5 L501.0,438.1 L501.5,436.6 L502.0,435.2 L502.5,433.8 L503.0,432.3 L503.5,430.8 L504.0,429.4 L504.5,427.9 L505.0,426.4 L505.5,424.9 L506.0,423.3 L506.5,421.8 L507.0,420.2 L507.5,418.7 L508.0,417.1 L508.5,415.5 L509.0,413.8 L509.5,412.2 L510.0,410.5 L510.5,408.9 L511.0,407.2 L511.5,405.4 L512.0,403.7 L512.5,402.0 L513.0,400.2 L513.5,398.4 L514.0,396.6 L514.5,394.8 L515.0,393.0 L515.5,391.1 L516.0,389.3 L516.5,387.4 L517.0,385.5 L517.5,383.6 L518.0,381.8 L518.5,379.9 L519.0,378.0 L519.5,376.2 L520.0,374.3 L520.5,372.5 L521.0,370.7 L521.5,368.9 L522.0,367.1 L522.5,365.4 L523.0,363.7 L523.5,362.1 L524.0,360.5 L524.5,358.9 L525.0,357.4 L525.5,356.0 L526.0,354.6 L526.5,353.4 L527.0,352.2 L527.5,351.0 L528.0,350.0 L528.5,349.1 L529.0,348.2 L529.5,347.5 L530.0,346.9 L530.5,346.4 L531.0,346.0 L531.5,345.8 L532.0,345.6 L532.5,345.6 L533.0,345.8 L533.5,346.0 L534.0,346.4 L534.5,347.0 L535.0,347.7 L535.5,348.5 L536.0,349.4 L536.5,350.5 L537.0,351.8 L537.5,353.2 L538.0,354.7 L538.5,356.3 L539.0,358.1 L539.5,360.0 L540.0,362.0 L540.5,364.2 L541.0,366.5 L541.5,368.8 L542.0,371.3 L542.5,373.9 L543.0,376.6 L543.5,379.3 L544.0,382.2 L544.5,385.1 L545.0,388.1 L545.5,391.1 L546.0,394.2 L546.5,397.4 L547.0,400.5 L547.5,403.7 L548.0,406.9 L548.5,410.2 L549.0,413.4 L549.5,416.7 L550.0,419.9 L550.5,423.1 L551.0,426.3 L551.5,429.5 L552.0,432.6 L552.5,435.7 L553.0,438.8 L553.5,441.8 L554.0,444.8 L554.5,447.7 L555.0,450.5 L555.5,453.3 L556.0,456.0 L556.5,458.6 L557.0,461.2 L557.5,463.6 L558.0,466.0 L558.5,468.4 L559.0,470.6 L559.5,472.8 L560.0,474.9 L560.5,476.9 L561.0,478.8 L561.5,480.6 L562.0,482.4 L562.5,484.0 L563.0,485.6 L563.5,487.2 L564.0,488.6 L564.5,490.0 L565.0,491.3 L565.5,492.5 L566.0,493.7 L566.5,494.8 L567.0,495.8 L567.5,496.8 L568.0,497.7 L568.5,498.6 L569.0,499.4 L569.5,500.1 L570.0,500.8 L570.5,501.5 L571.0,502.1 L571.5,502.6 L572.0,503.1 L572.5,503.6 L573.0,504.1 L573.5,504.5 L574.0,504.9 L574.5,505.2 L575.0,505.5 L575.5,505.8 L576.0,506.1 L576.5,506.4 L577.0,506.6 L577.5,506.8 L578.0,507.0 L578.5,507.2 L579.0,507.3 L579.5,507.4 L580.0,507.6 L580.5,507.7 L581.0,507.8 L581.5,507.9 L582.0,508.0 L582.5,508.0 L583.0,508.1 L583.5,508.1 L584.0,508.2 L584.5,508.2 L585.0,508.3 L585.5,508.3 L586.0,508.3 L586.5,508.3 L587.0,508.4 L587.5,508.4 L588.0,508.4 L588.5,508.4 L589.0,508.4 L589.5,508.4 L590.0,508.4 L590.5,508.4 L591.0,508.4 L591.5,508.4 L592.0,508.4 L592.5,508.4 L593.0,508.4 L593.5,508.4 L594.0,508.3 L594.5,508.3 L595.0,508.3 L595.5,508.3 L596.0,508.3 L596.5,508.3 L597.0,508.3 L597.5,508.3 L598.0,508.2 L598.5,508.2 L599.0,508.2 L599.5,508.2 L600.0,508.2 L600.5,508.2 L601.0,508.1 L601.5,508.1 L602.0,508.1 L602.5,508.1 L603.0,508.1 L603.5,508.1 L604.0,508.1 L604.5,508.0 L605.0,508.0 L605.5,508.0 L606.0,508.0 L606.5,508.0 L607.0,507.9 L607.5,507.9 L608.0,507.9 L608.5,507.9 L609.0,507.9 L609.5,507.9 L610.0,507.8 L610.5,507.8 L611.0,507.8 L611.5,507.8 L612.0,507.8 L612.5,507.8 L613.0,507.7 L613.5,507.7 L614.0,507.7 L614.5,507.7 L615.0,507.7 L615.5,507.7 L616.0,507.6 L616.5,507.6 L617.0,507.6 L617.5,507.6 L618.0,507.6 L618.5,507.5 L619.0,507.5 L619.5,507.5 L620.0,507.5 L620.5,507.5 L621.0,507.5 L621.5,507.4 L622.0,507.4 L622.5,507.4 L623.0,507.4 L623.5,507.4 L624.0,507.4 L624.5,507.3 L625.0,507.3 L625.5,507.3 L626.0,507.3 L626.5,507.3 L627.0,507.3 L627.5,507.2 L628.0,507.2 L628.5,507.2 L629.0,507.2 L629.5,507.2 L630.0,507.1 L630.5,507.1 L631.0,507.1 L631.5,507.1 L632.0,507.1 L632.5,507.1 L633.0,507.0 L633.5,507.0 L634.0,507.0 L634.5,507.0 L635.0,507.0 L635.5,507.0 L636.0,506.9 L636.5,506.9 L637.0,506.9 L637.5,506.9 L638.0,506.9 L638.5,506.9 L639.0,506.8 L639.5,506.8 L640.0,506.8 L640.5,506.8 L641.0,506.8 L641.5,506.7 L642.0,506.7 L642.5,506.7 L643.0,506.7 L643.5,506.7 L644.0,506.7 L644.5,506.6 L645.0,506.6 L645.5,506.6 L646.0,506.6 L646.5,506.6 L647.0,506.6 L647.5,506.5 L648.0,506.5 L648.5,506.5 L649.0,506.5 L649.5,506.5 L650.0,506.5 L650.5,506.4 L651.0,506.4 L651.5,506.4 L652.0,506.4 L652.5,506.4 L653.0,506.3 L653.5,506.3 L654.0,506.3 L654.5,506.3 L655.0,506.3 L655.5,506.3 L656.0,506.2 L656.5,506.2 L657.0,506.2 L657.5,506.2 L658.0,506.2 L658.5,506.2 L659.0,506.1 L659.5,506.1 L660.0,506.1 L660.5,506.1 L661.0,506.1 L661.5,506.1 L662.0,506.0 L662.5,506.0 L663.0,506.0 L663.5,506.0 L664.0,506.0 L664.5,505.9 L665.0,505.9 L665.5,505.9 L666.0,505.9 L666.5,505.9 L667.0,505.9 L667.5,505.8 L668.0,505.8 L668.5,505.8 L669.0,505.8 L669.5,505.8" fill="none" stroke="#ff0000" stroke-width="3.1" stroke-linejoin="round" stroke-linecap="round" />
<path d="M367.5,516.3 L368.0,516.3 L368.5,516.2 L369.0,516.2 L369.5,516.2 L370.0,516.2 L370.5,516.2 L371.0,516.2 L371.5,516.1 L372.0,516.1 L372.5,516.1 L373.0,516.1 L373.5,516.1 L374.0,516.1 L374.5,516.0 L375.0,516.0 L375.5,516.0 L376.0,516.0 L376.5,516.0 L377.0,516.0 L377.5,515.9 L378.0,515.9 L378.5,515.9 L379.0,515.9 L379.5,515.9 L380.0,515.8 L380.5,515.8 L381.0,515.8 L381.5,515.8 L382.0,515.8 L382.5,515.8 L383.0,515.7 L383.5,515.7 L384.0,515.7 L384.5,515.7 L385.0,515.7 L385.5,515.7 L386.0,515.6 L386.5,515.6 L387.0,515.6 L387.5,515.6 L388.0,515.6 L388.5,515.6 L389.0,515.5 L389.5,515.5 L390.0,515.5 L390.5,515.5 L391.0,515.5 L391.5,515.4 L392.0,515.4 L392.5,515.4 L393.0,515.4 L393.5,515.4 L394.0,515.4 L394.5,515.3 L395.0,515.3 L395.5,515.3 L396.0,515.3 L396.5,515.3 L397.0,515.3 L397.5,515.2 L398.0,515.2 L398.5,515.2 L399.0,515.2 L399.5,515.2 L400.0,515.2 L400.5,515.1 L401.0,515.1 L401.5,515.1 L402.0,515.1 L402.5,515.1 L403.0,515.0 L403.5,515.0 L404.0,515.0 L404.5,515.0 L405.0,515.0 L405.5,515.0 L406.0,514.9 L406.5,514.9 L407.0,514.9 L407.5,514.9 L408.0,514.9 L408.5,514.9 L409.0,514.8 L409.5,514.8 L410.0,514.8 L410.5,514.8 L411.0,514.8 L411.5,514.8 L412.0,514.7 L412.5,514.7 L413.0,514.7 L413.5,514.7 L414.0,514.7 L414.5,514.6 L415.0,514.6 L415.5,514.6 L416.0,514.6 L416.5,514.6 L417.0,514.6 L417.5,514.5 L418.0,514.5 L418.5,514.5 L419.0,514.5 L419.5,514.5 L420.0,514.5 L420.5,514.4 L421.0,514.4 L421.5,514.4 L422.0,514.4 L422.5,514.4 L423.0,514.4 L423.5,514.3 L424.0,514.3 L424.5,514.3 L425.0,514.3 L425.5,514.3 L426.0,514.2 L426.5,514.2 L427.0,514.2 L427.5,514.2 L428.0,514.2 L428.5,514.2 L429.0,514.1 L429.5,514.1 L430.0,514.1 L430.5,514.1 L431.0,514.1 L431.5,514.1 L432.0,514.0 L432.5,514.0 L433.0,514.0 L433.5,514.0 L434.0,514.0 L434.5,514.0 L435.0,513.9 L435.5,513.9 L436.0,513.9 L436.5,513.9 L437.0,513.9 L437.5,513.8 L438.0,513.8 L438.5,513.8 L439.0,513.8 L439.5,513.8 L440.0,513.8 L440.5,513.7 L441.0,513.7 L441.5,513.7 L442.0,513.7 L442.5,513.7 L443.0,513.7 L443.5,513.6 L444.0,513.6 L444.5,513.6 L445.0,513.6 L445.5,513.6 L446.0,513.6 L446.5,513.5 L447.0,513.5 L447.5,513.5 L448.0,513.5 L448.5,513.5 L449.0,513.4 L449.5,513.4 L450.0,513.4 L450.5,513.4 L451.0,513.4 L451.5,513.4 L452.0,513.3 L452.5,513.3 L453.0,513.3 L453.5,513.3 L454.0,513.3 L454.5,513.3 L455.0,513.2 L455.5,513.2 L456.0,513.2 L456.5,513.2 L457.0,513.2 L457.5,513.2 L458.0,513.1 L458.5,513.1 L459.0,513.1 L459.5,513.1 L460.0,513.1 L460.5,513.0 L461.0,513.0 L461.5,513.0 L462.0,513.0 L462.5,513.0 L463.0,513.0 L463.5,512.9 L464.0,512.9 L464.5,512.9 L465.0,512.9 L465.5,512.9 L466.0,512.9 L466.5,512.8 L467.0,512.8 L467.5,512.8 L468.0,512.8 L468.5,512.8 L469.0,512.8 L469.5,512.7 L470.0,512.7 L470.5,512.7 L471.0,512.7 L471.5,512.7 L472.0,512.6 L472.5,512.6 L473.0,512.6 L473.5,512.6 L474.0,512.6 L474.5,512.6 L475.0,512.5 L475.5,512.5 L476.0,512.5 L476.5,512.5 L477.0,512.5 L477.5,512.5 L478.0,512.4 L478.5,512.4 L479.0,512.4 L479.5,512.4 L480.0,512.4 L480.5,512.4 L481.0,512.3 L481.5,512.3 L482.0,512.3 L482.5,512.3 L483.0,512.3 L483.5,512.2 L484.0,512.2 L484.5,512.2 L485.0,512.2 L485.5,512.2 L486.0,512.2 L486.5,512.1 L487.0,512.1 L487.5,512.1 L488.0,512.1 L488.5,512.1 L489.0,512.1 L489.5,512.0 L490.0,512.0 L490.5,512.0 L491.0,512.0 L491.5,512.0 L492.0,512.0 L492.5,511.9 L493.0,511.9 L493.5,511.9 L494.0,511.9 L494.5,511.9 L495.0,511.8 L495.5,511.8 L496.0,511.8 L496.5,511.8 L497.0,511.8 L497.5,511.8 L498.0,511.7 L498.5,511.7 L499.0,511.7 L499.5,511.7 L500.0,511.7 L500.5,511.7 L501.0,511.6 L501.5,511.6 L502.0,511.6 L502.5,511.6 L503.0,511.6 L503.5,511.6 L504.0,511.5 L504.5,511.5 L505.0,511.5 L505.5,511.5 L506.0,511.5 L506.5,511.4 L507.0,511.4 L507.5,511.4 L508.0,511.4 L508.5,511.4 L509.0,511.4 L509.5,511.3 L510.0,511.3 L510.5,511.3 L511.0,511.3 L511.5,511.3 L512.0,511.3 L512.5,511.2 L513.0,511.2 L513.5,511.2 L514.0,511.2 L514.5,511.2 L515.0,511.2 L515.5,511.1 L516.0,511.1 L516.5,511.1 L517.0,511.1 L517.5,511.1 L518.0,511.0 L518.5,511.0 L519.0,511.0 L519.5,511.0 L520.0,511.0 L520.5,511.0 L521.0,510.9 L521.5,510.9 L522.0,510.9 L522.5,510.9 L523.0,510.9 L523.5,510.9 L524.0,510.8 L524.5,510.8 L525.0,510.8 L525.5,510.8 L526.0,510.8 L526.5,510.8 L527.0,510.7 L527.5,510.7 L528.0,510.7 L528.5,510.7 L529.0,510.7 L529.5,510.6 L530.0,510.6 L530.5,510.6 L531.0,510.6 L531.5,510.6 L532.0,510.6 L532.5,510.5 L533.0,510.5 L533.5,510.5 L534.0,510.5 L534.5,510.5 L535.0,510.5 L535.5,510.4 L536.0,510.4 L536.5,510.4 L537.0,510.4 L537.5,510.4 L538.0,510.4 L538.5,510.3 L539.0,510.3 L539.5,510.3 L540.0,510.3 L540.5,510.3 L541.0,510.2 L541.5,510.2 L542.0,510.2 L542.5,510.2 L543.0,510.2 L543.5,510.2 L544.0,510.1 L544.5,510.1 L545.0,510.1 L545.5,510.1 L546.0,510.1 L546.5,510.1 L547.0,510.0 L547.5,510.0 L548.0,510.0 L548.5,510.0 L549.0,510.0 L549.5,510.0 L550.0,509.9 L550.5,509.9 L551.0,509.9 L551.5,509.9 L552.0,509.9 L552.5,509.8 L553.0,509.8 L553.5,509.8 L554.0,509.8 L554.5,509.8 L555.0,509.8 L555.5,509.7 L556.0,509.7 L556.5,509.7 L557.0,509.7 L557.5,509.7 L558.0,509.7 L558.5,509.6 L559.0,509.6 L559.5,509.6 L560.0,509.6 L560.5,509.6 L561.0,509.6 L561.5,509.5 L562.0,509.5 L562.5,509.5 L563.0,509.5 L563.5,509.5 L564.0,509.4 L564.5,509.4 L565.0,509.4 L565.5,509.4 L566.0,509.4 L566.5,509.4 L567.0,509.3 L567.5,509.3 L568.0,509.3 L568.5,509.3 L569.0,509.3 L569.5,509.3 L570.0,509.2 L570.5,509.2 L571.0,509.2 L571.5,509.2 L572.0,509.2 L572.5,509.2 L573.0,509.1 L573.5,509.1 L574.0,509.1 L574.5,509.1 L575.0,509.1 L575.5,509.0 L576.0,509.0 L576.5,509.0 L577.0,509.0 L577.5,509.0 L578.0,509.0 L578.5,508.9 L579.0,508.9 L579.5,508.9 L580.0,508.9 L580.5,508.9 L581.0,508.9 L581.5,508.8 L582.0,508.8 L582.5,508.8 L583.0,508.8 L583.5,508.8 L584.0,508.8 L584.5,508.7 L585.0,508.7 L585.5,508.7 L586.0,508.7 L586.5,508.7 L587.0,508.6 L587.5,508.6 L588.0,508.6 L588.5,508.6 L589.0,508.6 L589.5,508.6 L590.0,508.5 L590.5,508.5 L591.0,508.5 L591.5,508.5 L592.0,508.5 L592.5,508.5 L593.0,508.4 L593.5,508.4 L594.0,508.4 L594.5,508.4 L595.0,508.4 L595.5,508.4 L596.0,508.3 L596.5,508.3 L597.0,508.3 L597.5,508.3 L598.0,508.3 L598.5,508.2 L599.0,508.2 L599.5,508.2 L600.0,508.2 L600.5,508.2 L601.0,508.2 L601.5,508.1 L602.0,508.1 L602.5,508.1 L603.0,508.1 L603.5,508.1 L604.0,508.1 L604.5,508.0 L605.0,508.0 L605.5,508.0 L606.0,508.0 L606.5,508.0 L607.0,508.0 L607.5,507.9 L608.0,507.9 L608.5,507.9 L609.0,507.9 L609.5,507.9 L610.0,507.8 L610.5,507.8 L611.0,507.8 L611.5,507.8 L612.0,507.8 L612.5,507.8 L613.0,507.7 L613.5,507.7 L614.0,507.7 L614.5,507.7 L615.0,507.7 L615.5,507.7 L616.0,507.6 L616.5,507.6 L617.0,507.6 L617.5,507.6 L618.0,507.6 L618.5,507.6 L619.0,507.5 L619.5,507.5 L620.0,507.5 L620.5,507.5 L621.0,507.5 L621.5,507.4 L622.0,507.4 L622.5,507.4 L623.0,507.4 L623.5,507.4 L624.0,507.4 L624.5,507.3 L625.0,507.3 L625.5,507.3 L626.0,507.3 L626.5,507.3 L627.0,507.3 L627.5,507.2 L628.0,507.2 L628.5,507.2 L629.0,507.2 L629.5,507.2 L630.0,507.1 L630.5,507.1 L631.0,507.1 L631.5,507.1 L632.0,507.1 L632.5,507.1 L633.0,507.0 L633.5,507.0 L634.0,507.0 L634.5,507.0 L635.0,507.0 L635.5,507.0 L636.0,506.9 L636.5,506.9 L637.0,506.9 L637.5,506.9 L638.0,506.9 L638.5,506.9 L639.0,506.8 L639.5,506.8 L640.0,506.8 L640.5,506.8 L641.0,506.8 L641.5,506.7 L642.0,506.7 L642.5,506.7 L643.0,506.7 L643.5,506.7 L644.0,506.7 L644.5,506.6 L645.0,506.6 L645.5,506.6 L646.0,506.6 L646.5,506.6 L647.0,506.6 L647.5,506.5 L648.0,506.5 L648.5,506.5 L649.0,506.5 L649.5,506.5 L650.0,506.5 L650.5,506.4 L651.0,506.4 L651.5,506.4 L652.0,506.4 L652.5,506.4 L653.0,506.3 L653.5,506.3 L654.0,506.3 L654.5,506.3 L655.0,506.3 L655.5,506.3 L656.0,506.2 L656.5,506.2 L657.0,506.2 L657.5,506.2 L658.0,506.2 L658.5,506.2 L659.0,506.1 L659.5,506.1 L660.0,506.1 L660.5,506.1 L661.0,506.1 L661.5,506.1 L662.0,506.0 L662.5,506.0 L663.0,506.0 L663.5,506.0 L664.0,506.0 L664.5,505.9 L665.0,505.9 L665.5,505.9 L666.0,505.9 L666.5,505.9 L667.0,505.9 L667.5,505.8 L668.0,505.8 L668.5,505.8 L669.0,505.8 L669.5,505.8" fill="none" stroke="#0000ff" stroke-width="2.2" stroke-linejoin="round" stroke-linecap="round" />
<path d="M367.5,516.3 L368.0,516.3 L368.5,516.2 L369.0,516.2 L369.5,516.2 L370.0,516.2 L370.5,516.2 L371.0,516.2 L371.5,516.1 L372.0,516.1 L372.5,516.1 L373.0,516.1 L373.5,516.1 L374.0,516.1 L374.5,516.0 L375.0,516.0 L375.5,516.0 L376.0,516.0 L376.5,516.0 L377.0,516.0 L377.5,515.9 L378.0,515.9 L378.5,515.9 L379.0,515.9 L379.5,515.9 L380.0,515.8 L380.5,515.8 L381.0,515.8 L381.5,515.8 L382.0,515.8 L382.5,515.8 L383.0,515.7 L383.5,515.7 L384.0,515.7 L384.5,515.7 L385.0,515.7 L385.5,515.7 L386.0,515.6 L386.5,515.6 L387.0,515.6 L387.5,515.6 L388.0,515.6 L388.5,515.6 L389.0,515.5 L389.5,515.5 L390.0,515.5 L390.5,515.5 L391.0,515.5 L391.5,515.4 L392.0,515.4 L392.5,515.4 L393.0,515.4 L393.5,515.4 L394.0,515.4 L394.5,515.3 L395.0,515.3 L395.5,515.3 L396.0,515.3 L396.5,515.3 L397.0,515.3 L397.5,515.2 L398.0,515.2 L398.5,515.2 L399.0,515.2 L399.5,515.2 L400.0,515.2 L400.5,515.1 L401.0,515.1 L401.5,515.1 L402.0,515.1 L402.5,515.1 L403.0,515.0 L403.5,515.0 L404.0,515.0 L404.5,515.0 L405.0,515.0 L405.5,515.0 L406.0,514.9 L406.5,514.9 L407.0,514.9 L407.5,514.9 L408.0,514.9 L408.5,514.9 L409.0,514.8 L409.5,514.8 L410.0,514.8 L410.5,514.8 L411.0,514.8 L411.5,514.8 L412.0,514.7 L412.5,514.7 L413.0,514.7 L413.5,514.7 L414.0,514.7 L414.5,514.6 L415.0,514.6 L415.5,514.6 L416.0,514.6 L416.5,514.6 L417.0,514.6 L417.5,514.5 L418.0,514.5 L418.5,514.5 L419.0,514.5 L419.5,514.5 L420.0,514.5 L420.5,514.4 L421.0,514.4 L421.5,514.4 L422.0,514.4 L422.5,514.4 L423.0,514.4 L423.5,514.3 L424.0,514.3 L424.5,514.3 L425.0,514.3 L425.5,514.3 L426.0,514.2 L426.5,514.2 L427.0,514.2 L427.5,514.2 L428.0,514.2 L428.5,514.2 L429.0,514.1 L429.5,514.1 L430.0,514.1 L430.5,514.1 L431.0,514.1 L431.5,514.1 L432.0,514.0 L432.5,514.0 L433.0,514.0 L433.5,514.0 L434.0,514.0 L434.5,514.0 L435.0,513.9 L435.5,513.9 L436.0,513.9 L436.5,513.9 L437.0,513.9 L437.5,513.8 L438.0,513.8 L438.5,513.8 L439.0,513.8 L439.5,513.8 L440.0,513.8 L440.5,513.7 L441.0,513.7 L441.5,513.7 L442.0,513.7 L442.5,513.7 L443.0,513.7 L443.5,513.6 L444.0,513.6 L444.5,513.6 L445.0,513.6 L445.5,513.6 L446.0,513.6 L446.5,513.5 L447.0,513.5 L447.5,513.5 L448.0,513.5 L448.5,513.5 L449.0,513.4 L449.5,513.4 L450.0,513.4 L450.5,513.4 L451.0,513.4 L451.5,513.4 L452.0,513.3 L452.5,513.3 L453.0,513.3 L453.5,513.3 L454.0,513.3 L454.5,513.3 L455.0,513.2 L455.5,513.2 L456.0,513.2 L456.5,513.2 L457.0,513.2 L457.5,513.2 L458.0,513.1 L458.5,513.1 L459.0,513.1 L459.5,513.1 L460.0,513.1 L460.5,513.0 L461.0,513.0 L461.5,513.0 L462.0,513.0 L462.5,513.0 L463.0,513.0 L463.5,512.9 L464.0,512.9 L464.5,512.9 L465.0,512.9 L465.5,512.9 L466.0,512.9 L466.5,512.8 L467.0,512.8 L467.5,512.8 L468.0,512.8 L468.5,512.8 L469.0,512.7 L469.5,512.7 L470.0,512.7 L470.5,512.7 L471.0,512.7 L471.5,512.7 L472.0,512.6 L472.5,512.6 L473.0,512.6 L473.5,512.6 L474.0,512.6 L474.5,512.5 L475.0,512.5 L475.5,512.5 L476.0,512.5 L476.5,512.5 L477.0,512.5 L477.5,512.4 L478.0,512.4 L478.5,512.4 L479.0,512.4 L479.5,512.3 L480.0,512.3 L480.5,512.3 L481.0,512.3 L481.5,512.2 L482.0,512.2 L482.5,512.2 L483.0,512.1 L483.5,512.1 L484.0,512.1 L484.5,512.0 L485.0,512.0 L485.5,512.0 L486.0,511.9 L486.5,511.9 L487.0,511.8 L487.5,511.7 L488.0,511.7 L488.5,511.6 L489.0,511.5 L489.5,511.5 L490.0,511.4 L490.5,511.3 L491.0,511.2 L491.5,511.1 L492.0,510.9 L492.5,510.8 L493.0,510.7 L493.5,510.5 L494.0,510.3 L494.5,510.1 L495.0,509.9 L495.5,509.7 L496.0,509.5 L496.5,509.2 L497.0,508.9 L497.5,508.6 L498.0,508.3 L498.5,507.9 L499.0,507.5 L499.5,507.1 L500.0,506.7 L500.5,506.2 L501.0,505.7 L501.5,505.1 L502.0,504.5 L502.5,503.9 L503.0,503.2 L503.5,502.5 L504.0,501.7 L504.5,500.9 L505.0,500.0 L505.5,499.1 L506.0,498.1 L506.5,497.1 L507.0,496.0 L507.5,494.8 L508.0,493.6 L508.5,492.3 L509.0,490.9 L509.5,489.5 L510.0,488.0 L510.5,486.4 L511.0,484.8 L511.5,483.1 L512.0,481.4 L512.5,479.5 L513.0,477.6 L513.5,475.6 L514.0,473.6 L514.5,471.5 L515.0,469.3 L515.5,467.1 L516.0,464.8 L516.5,462.5 L517.0,460.1 L517.5,457.6 L518.0,455.1 L518.5,452.6 L519.0,450.0 L519.5,447.4 L520.0,444.8 L520.5,442.1 L521.0,439.4 L521.5,436.7 L522.0,434.0 L522.5,431.3 L523.0,428.7 L523.5,426.0 L524.0,423.4 L524.5,420.8 L525.0,418.2 L525.5,415.7 L526.0,413.2 L526.5,410.8 L527.0,408.4 L527.5,406.2 L528.0,404.0 L528.5,401.9 L529.0,399.9 L529.5,398.0 L530.0,396.2 L530.5,394.6 L531.0,393.0 L531.5,391.6 L532.0,390.3 L532.5,389.2 L533.0,388.2 L533.5,387.3 L534.0,386.6 L534.5,386.0 L535.0,385.6 L535.5,385.4 L536.0,385.3 L536.5,385.4 L537.0,385.6 L537.5,385.9 L538.0,386.5 L538.5,387.1 L539.0,388.0 L539.5,388.9 L540.0,390.0 L540.5,391.3 L541.0,392.7 L541.5,394.2 L542.0,395.8 L542.5,397.5 L543.0,399.4 L543.5,401.4 L544.0,403.4 L544.5,405.6 L545.0,407.8 L545.5,410.1 L546.0,412.5 L546.5,414.9 L547.0,417.4 L547.5,420.0 L548.0,422.5 L548.5,425.1 L549.0,427.8 L549.5,430.4 L550.0,433.1 L550.5,435.7 L551.0,438.4 L551.5,441.0 L552.0,443.6 L552.5,446.2 L553.0,448.8 L553.5,451.4 L554.0,453.9 L554.5,456.3 L555.0,458.7 L555.5,461.1 L556.0,463.4 L556.5,465.7 L557.0,467.9 L557.5,470.0 L558.0,472.1 L558.5,474.1 L559.0,476.0 L559.5,477.9 L560.0,479.7 L560.5,481.4 L561.0,483.1 L561.5,484.7 L562.0,486.2 L562.5,487.7 L563.0,489.0 L563.5,490.4 L564.0,491.6 L564.5,492.8 L565.0,493.9 L565.5,495.0 L566.0,496.0 L566.5,497.0 L567.0,497.9 L567.5,498.7 L568.0,499.5 L568.5,500.2 L569.0,500.9 L569.5,501.6 L570.0,502.2 L570.5,502.7 L571.0,503.2 L571.5,503.7 L572.0,504.2 L572.5,504.6 L573.0,505.0 L573.5,505.3 L574.0,505.6 L574.5,505.9 L575.0,506.2 L575.5,506.5 L576.0,506.7 L576.5,506.9 L577.0,507.1 L577.5,507.2 L578.0,507.4 L578.5,507.5 L579.0,507.7 L579.5,507.8 L580.0,507.9 L580.5,508.0 L581.0,508.0 L581.5,508.1 L582.0,508.2 L582.5,508.2 L583.0,508.3 L583.5,508.3 L584.0,508.3 L584.5,508.4 L585.0,508.4 L585.5,508.4 L586.0,508.4 L586.5,508.4 L587.0,508.5 L587.5,508.5 L588.0,508.5 L588.5,508.5 L589.0,508.5 L589.5,508.5 L590.0,508.5 L590.5,508.4 L591.0,508.4 L591.5,508.4 L592.0,508.4 L592.5,508.4 L593.0,508.4 L593.5,508.4 L594.0,508.4 L594.5,508.4 L595.0,508.3 L595.5,508.3 L596.0,508.3 L596.5,508.3 L597.0,508.3 L597.5,508.3 L598.0,508.3 L598.5,508.2 L599.0,508.2 L599.5,508.2 L600.0,508.2 L600.5,508.2 L601.0,508.2 L601.5,508.1 L602.0,508.1 L602.5,508.1 L603.0,508.1 L603.5,508.1 L604.0,508.1 L604.5,508.0 L605.0,508.0 L605.5,508.0 L606.0,508.0 L606.5,508.0 L607.0,507.9 L607.5,507.9 L608.0,507.9 L608.5,507.9 L609.0,507.9 L609.5,507.9 L610.0,507.8 L610.5,507.8 L611.0,507.8 L611.5,507.8 L612.0,507.8 L612.5,507.8 L613.0,507.7 L613.5,507.7 L614.0,507.7 L614.5,507.7 L615.0,507.7 L615.5,507.7 L616.0,507.6 L616.5,507.6 L617.0,507.6 L617.5,507.6 L618.0,507.6 L618.5,507.5 L619.0,507.5 L619.5,507.5 L620.0,507.5 L620.5,507.5 L621.0,507.5 L621.5,507.4 L622.0,507.4 L622.5,507.4 L623.0,507.4 L623.5,507.4 L624.0,507.4 L624.5,507.3 L625.0,507.3 L625.5,507.3 L626.0,507.3 L626.5,507.3 L627.0,507.3 L627.5,507.2 L628.0,507.2 L628.5,507.2 L629.0,507.2 L629.5,507.2 L630.0,507.1 L630.5,507.1 L631.0,507.1 L631.5,507.1 L632.0,507.1 L632.5,507.1 L633.0,507.0 L633.5,507.0 L634.0,507.0 L634.5,507.0 L635.0,507.0 L635.5,507.0 L636.0,506.9 L636.5,506.9 L637.0,506.9 L637.5,506.9 L638.0,506.9 L638.5,506.9 L639.0,506.8 L639.5,506.8 L640.0,506.8 L640.5,506.8 L641.0,506.8 L641.5,506.7 L642.0,506.7 L642.5,506.7 L643.0,506.7 L643.5,506.7 L644.0,506.7 L644.5,506.6 L645.0,506.6 L645.5,506.6 L646.0,506.6 L646.5,506.6 L647.0,506.6 L647.5,506.5 L648.0,506.5 L648.5,506.5 L649.0,506.5 L649.5,506.5 L650.0,506.5 L650.5,506.4 L651.0,506.4 L651.5,506.4 L652.0,506.4 L652.5,506.4 L653.0,506.3 L653.5,506.3 L654.0,506.3 L654.5,506.3 L655.0,506.3 L655.5,506.3 L656.0,506.2 L656.5,506.2 L657.0,506.2 L657.5,506.2 L658.0,506.2 L658.5,506.2 L659.0,506.1 L659.5,506.1 L660.0,506.1 L660.5,506.1 L661.0,506.1 L661.5,506.1 L662.0,506.0 L662.5,506.0 L663.0,506.0 L663.5,506.0 L664.0,506.0 L664.5,505.9 L665.0,505.9 L665.5,505.9 L666.0,505.9 L666.5,505.9 L667.0,505.9 L667.5,505.8 L668.0,505.8 L668.5,505.8 L669.0,505.8 L669.5,505.8" fill="none" stroke="#ff00ff" stroke-width="2.8" stroke-linejoin="round" stroke-linecap="round" />
<path d="M367.5,516.3 L368.0,516.3 L368.5,516.2 L369.0,516.2 L369.5,516.2 L370.0,516.2 L370.5,516.2 L371.0,516.2 L371.5,516.1 L372.0,516.1 L372.5,516.1 L373.0,516.1 L373.5,516.1 L374.0,516.1 L374.5,516.0 L375.0,516.0 L375.5,516.0 L376.0,516.0 L376.5,516.0 L377.0,516.0 L377.5,515.9 L378.0,515.9 L378.5,515.9 L379.0,515.9 L379.5,515.9 L380.0,515.8 L380.5,515.8 L381.0,515.8 L381.5,515.8 L382.0,515.8 L382.5,515.8 L383.0,515.7 L383.5,515.7 L384.0,515.7 L384.5,515.7 L385.0,515.7 L385.5,515.7 L386.0,515.6 L386.5,515.6 L387.0,515.6 L387.5,515.6 L388.0,515.6 L388.5,515.6 L389.0,515.5 L389.5,515.5 L390.0,515.5 L390.5,515.5 L391.0,515.5 L391.5,515.4 L392.0,515.4 L392.5,515.4 L393.0,515.4 L393.5,515.4 L394.0,515.4 L394.5,515.3 L395.0,515.3 L395.5,515.3 L396.0,515.3 L396.5,515.3 L397.0,515.3 L397.5,515.2 L398.0,515.2 L398.5,515.2 L399.0,515.2 L399.5,515.2 L400.0,515.2 L400.5,515.1 L401.0,515.1 L401.5,515.1 L402.0,515.1 L402.5,515.1 L403.0,515.0 L403.5,515.0 L404.0,515.0 L404.5,515.0 L405.0,515.0 L405.5,515.0 L406.0,514.9 L406.5,514.9 L407.0,514.9 L407.5,514.9 L408.0,514.9 L408.5,514.9 L409.0,514.8 L409.5,514.8 L410.0,514.8 L410.5,514.8 L411.0,514.8 L411.5,514.8 L412.0,514.7 L412.5,514.7 L413.0,514.7 L413.5,514.7 L414.0,514.7 L414.5,514.6 L415.0,514.6 L415.5,514.6 L416.0,514.6 L416.5,514.6 L417.0,514.6 L417.5,514.5 L418.0,514.5 L418.5,514.5 L419.0,514.5 L419.5,514.5 L420.0,514.5 L420.5,514.4 L421.0,514.4 L421.5,514.4 L422.0,514.4 L422.5,514.4 L423.0,514.3 L423.5,514.3 L424.0,514.3 L424.5,514.3 L425.0,514.3 L425.5,514.3 L426.0,514.2 L426.5,514.2 L427.0,514.2 L427.5,514.2 L428.0,514.2 L428.5,514.1 L429.0,514.1 L429.5,514.1 L430.0,514.1 L430.5,514.1 L431.0,514.0 L431.5,514.0 L432.0,514.0 L432.5,514.0 L433.0,514.0 L433.5,513.9 L434.0,513.9 L434.5,513.9 L435.0,513.9 L435.5,513.8 L436.0,513.8 L436.5,513.8 L437.0,513.8 L437.5,513.7 L438.0,513.7 L438.5,513.7 L439.0,513.7 L439.5,513.6 L440.0,513.6 L440.5,513.6 L441.0,513.5 L441.5,513.5 L442.0,513.5 L442.5,513.4 L443.0,513.4 L443.5,513.4 L444.0,513.3 L444.5,513.3 L445.0,513.2 L445.5,513.2 L446.0,513.1 L446.5,513.1 L447.0,513.0 L447.5,513.0 L448.0,512.9 L448.5,512.9 L449.0,512.8 L449.5,512.7 L450.0,512.6 L450.5,512.6 L451.0,512.5 L451.5,512.4 L452.0,512.3 L452.5,512.2 L453.0,512.1 L453.5,512.0 L454.0,511.9 L454.5,511.8 L455.0,511.7 L455.5,511.5 L456.0,511.4 L456.5,511.3 L457.0,511.1 L457.5,511.0 L458.0,510.8 L458.5,510.6 L459.0,510.4 L459.5,510.2 L460.0,510.0 L460.5,509.8 L461.0,509.6 L461.5,509.4 L462.0,509.1 L462.5,508.9 L463.0,508.6 L463.5,508.3 L464.0,508.0 L464.5,507.7 L465.0,507.4 L465.5,507.1 L466.0,506.7 L466.5,506.4 L467.0,506.0 L467.5,505.6 L468.0,505.2 L468.5,504.7 L469.0,504.3 L469.5,503.8 L470.0,503.3 L470.5,502.8 L471.0,502.3 L471.5,501.8 L472.0,501.2 L472.5,500.7 L473.0,500.1 L473.5,499.4 L474.0,498.8 L474.5,498.2 L475.0,497.5 L475.5,496.8 L476.0,496.1 L476.5,495.3 L477.0,494.6 L477.5,493.8 L478.0,493.0 L478.5,492.1 L479.0,491.3 L479.5,490.4 L480.0,489.5 L480.5,488.6 L481.0,487.7 L481.5,486.8 L482.0,485.8 L482.5,484.8 L483.0,483.8 L483.5,482.8 L484.0,481.8 L484.5,480.7 L485.0,479.6 L485.5,478.6 L486.0,477.5 L486.5,476.4 L487.0,475.2 L487.5,474.1 L488.0,473.0 L488.5,471.8 L489.0,470.7 L489.5,469.5 L490.0,468.3 L490.5,467.1 L491.0,466.0 L491.5,464.8 L492.0,463.6 L492.5,462.4 L493.0,461.2 L493.5,460.1 L494.0,458.9 L494.5,457.7 L495.0,456.6 L495.5,455.4 L496.0,454.3 L496.5,453.2 L497.0,452.1 L497.5,451.0 L498.0,449.9 L498.5,448.9 L499.0,447.9 L499.5,446.8 L500.0,445.9 L500.5,444.9 L501.0,444.0 L501.5,443.1 L502.0,442.2 L502.5,441.4 L503.0,440.6 L503.5,439.8 L504.0,439.1 L504.5,438.4 L505.0,437.7 L505.5,437.1 L506.0,436.5 L506.5,436.0 L507.0,435.5 L507.5,435.0 L508.0,434.6 L508.5,434.3 L509.0,433.9 L509.5,433.7 L510.0,433.4 L510.5,433.3 L511.0,433.1 L511.5,433.0 L512.0,433.0 L512.5,433.0 L513.0,433.1 L513.5,433.2 L514.0,433.3 L514.5,433.5 L515.0,433.7 L515.5,434.0 L516.0,434.4 L516.5,434.7 L517.0,435.1 L517.5,435.6 L518.0,436.1 L518.5,436.7 L519.0,437.2 L519.5,437.9 L520.0,438.5 L520.5,439.2 L521.0,440.0 L521.5,440.7 L522.0,441.5 L522.5,442.4 L523.0,443.2 L523.5,444.1 L524.0,445.0 L524.5,446.0 L525.0,446.9 L525.5,447.9 L526.0,449.0 L526.5,450.0 L527.0,451.0 L527.5,452.1 L528.0,453.2 L528.5,454.3 L529.0,455.4 L529.5,456.5 L530.0,457.6 L530.5,458.8 L531.0,459.9 L531.5,461.1 L532.0,462.2 L532.5,463.3 L533.0,464.5 L533.5,465.6 L534.0,466.8 L534.5,467.9 L535.0,469.1 L535.5,470.2 L536.0,471.3 L536.5,472.4 L537.0,473.5 L537.5,474.6 L538.0,475.7 L538.5,476.7 L539.0,477.8 L539.5,478.8 L540.0,479.8 L540.5,480.8 L541.0,481.8 L541.5,482.8 L542.0,483.7 L542.5,484.6 L543.0,485.6 L543.5,486.4 L544.0,487.3 L544.5,488.2 L545.0,489.0 L545.5,489.8 L546.0,490.6 L546.5,491.4 L547.0,492.1 L547.5,492.8 L548.0,493.6 L548.5,494.2 L549.0,494.9 L549.5,495.5 L550.0,496.2 L550.5,496.8 L551.0,497.3 L551.5,497.9 L552.0,498.5 L552.5,499.0 L553.0,499.5 L553.5,500.0 L554.0,500.4 L554.5,500.9 L555.0,501.3 L555.5,501.7 L556.0,502.1 L556.5,502.5 L557.0,502.8 L557.5,503.2 L558.0,503.5 L558.5,503.8 L559.0,504.1 L559.5,504.4 L560.0,504.7 L560.5,505.0 L561.0,505.2 L561.5,505.4 L562.0,505.7 L562.5,505.9 L563.0,506.1 L563.5,506.2 L564.0,506.4 L564.5,506.6 L565.0,506.7 L565.5,506.9 L566.0,507.0 L566.5,507.2 L567.0,507.3 L567.5,507.4 L568.0,507.5 L568.5,507.6 L569.0,507.7 L569.5,507.8 L570.0,507.9 L570.5,507.9 L571.0,508.0 L571.5,508.1 L572.0,508.1 L572.5,508.2 L573.0,508.2 L573.5,508.3 L574.0,508.3 L574.5,508.4 L575.0,508.4 L575.5,508.4 L576.0,508.5 L576.5,508.5 L577.0,508.5 L577.5,508.5 L578.0,508.5 L578.5,508.6 L579.0,508.6 L579.5,508.6 L580.0,508.6 L580.5,508.6 L581.0,508.6 L581.5,508.6 L582.0,508.6 L582.5,508.6 L583.0,508.6 L583.5,508.6 L584.0,508.6 L584.5,508.6 L585.0,508.6 L585.5,508.6 L586.0,508.6 L586.5,508.6 L587.0,508.6 L587.5,508.5 L588.0,508.5 L588.5,508.5 L589.0,508.5 L589.5,508.5 L590.0,508.5 L590.5,508.5 L591.0,508.5 L591.5,508.5 L592.0,508.4 L592.5,508.4 L593.0,508.4 L593.5,508.4 L594.0,508.4 L594.5,508.4 L595.0,508.3 L595.5,508.3 L596.0,508.3 L596.5,508.3 L597.0,508.3 L597.5,508.3 L598.0,508.3 L598.5,508.2 L599.0,508.2 L599.5,508.2 L600.0,508.2 L600.5,508.2 L601.0,508.2 L601.5,508.1 L602.0,508.1 L602.5,508.1 L603.0,508.1 L603.5,508.1 L604.0,508.1 L604.5,508.0 L605.0,508.0 L605.5,508.0 L606.0,508.0 L606.5,508.0 L607.0,507.9 L607.5,507.9 L608.0,507.9 L608.5,507.9 L609.0,507.9 L609.5,507.9 L610.0,507.8 L610.5,507.8 L611.0,507.8 L611.5,507.8 L612.0,507.8 L612.5,507.8 L613.0,507.7 L613.5,507.7 L614.0,507.7 L614.5,507.7 L615.0,507.7 L615.5,507.7 L616.0,507.6 L616.5,507.6 L617.0,507.6 L617.5,507.6 L618.0,507.6 L618.5,507.5 L619.0,507.5 L619.5,507.5 L620.0,507.5 L620.5,507.5 L621.0,507.5 L621.5,507.4 L622.0,507.4 L622.5,507.4 L623.0,507.4 L623.5,507.4 L624.0,507.4 L624.5,507.3 L625.0,507.3 L625.5,507.3 L626.0,507.3 L626.5,507.3 L627.0,507.3 L627.5,507.2 L628.0,507.2 L628.5,507.2 L629.0,507.2 L629.5,507.2 L630.0,507.1 L630.5,507.1 L631.0,507.1 L631.5,507.1 L632.0,507.1 L632.5,507.1 L633.0,507.0 L633.5,507.0 L634.0,507.0 L634.5,507.0 L635.0,507.0 L635.5,507.0 L636.0,506.9 L636.5,506.9 L637.0,506.9 L637.5,506.9 L638.0,506.9 L638.5,506.9 L639.0,506.8 L639.5,506.8 L640.0,506.8 L640.5,506.8 L641.0,506.8 L641.5,506.7 L642.0,506.7 L642.5,506.7 L643.0,506.7 L643.5,506.7 L644.0,506.7 L644.5,506.6 L645.0,506.6 L645.5,506.6 L646.0,506.6 L646.5,506.6 L647.0,506.6 L647.5,506.5 L648.0,506.5 L648.5,506.5 L649.0,506.5 L649.5,506.5 L650.0,506.5 L650.5,506.4 L651.0,506.4 L651.5,506.4 L652.0,506.4 L652.5,506.4 L653.0,506.3 L653.5,506.3 L654.0,506.3 L654.5,506.3 L655.0,506.3 L655.5,506.3 L656.0,506.2 L656.5,506.2 L657.0,506.2 L657.5,506.2 L658.0,506.2 L658.5,506.2 L659.0,506.1 L659.5,506.1 L660.0,506.1 L660.5,506.1 L661.0,506.1 L661.5,506.1 L662.0,506.0 L662.5,506.0 L663.0,506.0 L663.5,506.0 L664.0,506.0 L664.5,505.9 L665.0,505.9 L665.5,505.9 L666.0,505.9 L666.5,505.9 L667.0,505.9 L667.5,505.8 L668.0,505.8 L668.5,505.8 L669.0,505.8 L669.5,505.8" fill="none" stroke="#0b7f7f" stroke-width="2.8" stroke-linejoin="round" stroke-linecap="round" />
</g>
<g id="static">
<path d="M20.8,241.4 L20.8,18.6 L324.8,18.6 L324.8,241.4 Z" fill="none" stroke="#000" stroke-width="2.6" stroke-linejoin="round"/>
<line x1="20.80" y1="241.40" x2="20.80" y2="251.70" stroke="#000" stroke-width="2.6" stroke-linecap="round"/>
<text x="5.78" y="270.00" font-size="18" font-weight="normal" textLength="30.03" lengthAdjust="spacingAndGlyphs" fill="#000" >500</text>
<line x1="96.80" y1="241.40" x2="96.80" y2="251.70" stroke="#000" stroke-width="2.6" stroke-linecap="round"/>
<text x="81.96" y="270.00" font-size="18" font-weight="normal" textLength="30.03" lengthAdjust="spacingAndGlyphs" fill="#000" >495</text>
<line x1="172.80" y1="241.40" x2="172.80" y2="251.70" stroke="#000" stroke-width="2.6" stroke-linecap="round"/>
<text x="157.93" y="270.00" font-size="18" font-weight="normal" textLength="30.03" lengthAdjust="spacingAndGlyphs" fill="#000" >490</text>
<line x1="248.80" y1="241.40" x2="248.80" y2="251.70" stroke="#000" stroke-width="2.6" stroke-linecap="round"/>
<text x="233.96" y="270.00" font-size="18" font-weight="normal" textLength="30.03" lengthAdjust="spacingAndGlyphs" fill="#000" >485</text>
<line x1="324.80" y1="241.40" x2="324.80" y2="251.70" stroke="#000" stroke-width="2.6" stroke-linecap="round"/>
<text x="309.93" y="270.00" font-size="18" font-weight="normal" textLength="30.03" lengthAdjust="spacingAndGlyphs" fill="#000" >480</text>
<path d="M366.2,241.4 L366.2,18.4 L670.3,18.4 L670.3,241.4 Z" fill="none" stroke="#000" stroke-width="2.6" stroke-linejoin="round"/>
<line x1="366.20" y1="241.40" x2="366.20" y2="251.70" stroke="#000" stroke-width="2.6" stroke-linecap="round"/>
<text x="351.18" y="270.00" font-size="18" font-weight="normal" textLength="30.03" lengthAdjust="spacingAndGlyphs" fill="#000" >500</text>
<line x1="442.22" y1="241.40" x2="442.22" y2="251.70" stroke="#000" stroke-width="2.6" stroke-linecap="round"/>
<text x="427.38" y="270.00" font-size="18" font-weight="normal" textLength="30.03" lengthAdjust="spacingAndGlyphs" fill="#000" >495</text>
<line x1="518.25" y1="241.40" x2="518.25" y2="251.70" stroke="#000" stroke-width="2.6" stroke-linecap="round"/>
<text x="503.38" y="270.00" font-size="18" font-weight="normal" textLength="30.03" lengthAdjust="spacingAndGlyphs" fill="#000" >490</text>
<line x1="594.27" y1="241.40" x2="594.27" y2="251.70" stroke="#000" stroke-width="2.6" stroke-linecap="round"/>
<text x="579.43" y="270.00" font-size="18" font-weight="normal" textLength="30.03" lengthAdjust="spacingAndGlyphs" fill="#000" >485</text>
<line x1="670.30" y1="241.40" x2="670.30" y2="251.70" stroke="#000" stroke-width="2.6" stroke-linecap="round"/>
<text x="655.43" y="270.00" font-size="18" font-weight="normal" textLength="30.03" lengthAdjust="spacingAndGlyphs" fill="#000" >480</text>
<path d="M20.8,553.2 L20.8,329.5 L325.0,329.5 L325.0,553.2 Z" fill="none" stroke="#000" stroke-width="2.6" stroke-linejoin="round"/>
<line x1="20.80" y1="553.20" x2="20.80" y2="563.50" stroke="#000" stroke-width="2.6" stroke-linecap="round"/>
<text x="5.45" y="580.80" font-size="18" font-weight="normal" textLength="30.03" lengthAdjust="spacingAndGlyphs" fill="#000" >170</text>
<line x1="122.20" y1="553.20" x2="122.20" y2="563.50" stroke="#000" stroke-width="2.6" stroke-linecap="round"/>
<text x="106.88" y="580.80" font-size="18" font-weight="normal" textLength="30.03" lengthAdjust="spacingAndGlyphs" fill="#000" >165</text>
<line x1="223.60" y1="553.20" x2="223.60" y2="563.50" stroke="#000" stroke-width="2.6" stroke-linecap="round"/>
<text x="208.25" y="580.80" font-size="18" font-weight="normal" textLength="30.03" lengthAdjust="spacingAndGlyphs" fill="#000" >160</text>
<line x1="325.00" y1="553.20" x2="325.00" y2="563.50" stroke="#000" stroke-width="2.6" stroke-linecap="round"/>
<text x="309.68" y="580.80" font-size="18" font-weight="normal" textLength="30.03" lengthAdjust="spacingAndGlyphs" fill="#000" >155</text>
<path d="M366.6,553.2 L366.6,329.5 L670.3,329.5 L670.3,553.2 Z" fill="none" stroke="#000" stroke-width="2.6" stroke-linejoin="round"/>
<line x1="366.60" y1="553.20" x2="366.60" y2="563.50" stroke="#000" stroke-width="2.6" stroke-linecap="round"/>
<text x="351.25" y="580.60" font-size="18" font-weight="normal" textLength="30.03" lengthAdjust="spacingAndGlyphs" fill="#000" >170</text>
<line x1="467.83" y1="553.20" x2="467.83" y2="563.50" stroke="#000" stroke-width="2.6" stroke-linecap="round"/>
<text x="452.51" y="580.60" font-size="18" font-weight="normal" textLength="30.03" lengthAdjust="spacingAndGlyphs" fill="#000" >165</text>
<line x1="569.07" y1="553.20" x2="569.07" y2="563.50" stroke="#000" stroke-width="2.6" stroke-linecap="round"/>
<text x="553.72" y="580.60" font-size="18" font-weight="normal" textLength="30.03" lengthAdjust="spacingAndGlyphs" fill="#000" >160</text>
<line x1="670.30" y1="553.20" x2="670.30" y2="563.50" stroke="#000" stroke-width="2.6" stroke-linecap="round"/>
<text x="654.98" y="580.60" font-size="18" font-weight="normal" textLength="30.03" lengthAdjust="spacingAndGlyphs" fill="#000" >155</text>
<text x="81.41" y="288.80" font-size="19.3" font-weight="bold" textLength="184.86" lengthAdjust="spacingAndGlyphs" fill="#000" >Binding Energy (eV)</text>
<text x="426.91" y="288.40" font-size="19.3" font-weight="bold" textLength="184.45" lengthAdjust="spacingAndGlyphs" fill="#000" >Binding Energy (eV)</text>
<text x="85.51" y="598.00" font-size="19.3" font-weight="bold" textLength="183.74" lengthAdjust="spacingAndGlyphs" fill="#000" >Binding Energy (eV)</text>
<text x="434.81" y="597.70" font-size="19.3" font-weight="bold" textLength="184.65" lengthAdjust="spacingAndGlyphs" fill="#000" >Binding Energy (eV)</text>
<text transform="rotate(-90)" x="-182.24" y="14.75" font-size="20" font-weight="bold" textLength="135.64" lengthAdjust="spacingAndGlyphs">Intensity (a.u.)</text>
<text transform="rotate(-90)" x="-177.24" y="360.00" font-size="20" font-weight="bold" textLength="136.25" lengthAdjust="spacingAndGlyphs">Intensity (a.u.)</text>
<text transform="rotate(-90)" x="-496.24" y="14.60" font-size="20" font-weight="bold" textLength="136.25" lengthAdjust="spacingAndGlyphs">Intensity (a.u.)</text>
<text transform="rotate(-90)" x="-494.64" y="359.40" font-size="20" font-weight="bold" textLength="136.04" lengthAdjust="spacingAndGlyphs">Intensity (a.u.)</text>
<text x="106.41" y="9.70" font-size="12.6" font-weight="bold" textLength="70.81" lengthAdjust="spacingAndGlyphs" fill="#000" >Sn 3d: SnS</text>
<text x="177.65" y="15.40" font-size="7" font-weight="bold" textLength="4.10" lengthAdjust="spacingAndGlyphs" fill="#000" >x</text>
<text x="181.53" y="9.70" font-size="12.6" font-weight="bold" textLength="57.82" lengthAdjust="spacingAndGlyphs" fill="#000" >@NF-180</text>
<text x="443.81" y="9.50" font-size="12.6" font-weight="bold" textLength="70.81" lengthAdjust="spacingAndGlyphs" fill="#000" >Sn 3d: SnS</text>
<text x="515.15" y="15.20" font-size="7" font-weight="bold" textLength="4.10" lengthAdjust="spacingAndGlyphs" fill="#000" >x</text>
<text x="519.03" y="9.50" font-size="12.6" font-weight="bold" textLength="57.71" lengthAdjust="spacingAndGlyphs" fill="#000" >@NF-160</text>
<text x="111.82" y="321.60" font-size="12.6" font-weight="bold" textLength="62.00" lengthAdjust="spacingAndGlyphs" fill="#000" >S 2p: SnS</text>
<text x="175.05" y="326.60" font-size="7" font-weight="bold" textLength="4.10" lengthAdjust="spacingAndGlyphs" fill="#000" >x</text>
<text x="178.83" y="321.60" font-size="12.6" font-weight="bold" textLength="57.92" lengthAdjust="spacingAndGlyphs" fill="#000" >@NF-180</text>
<text x="459.41" y="321.60" font-size="12.6" font-weight="bold" textLength="62.71" lengthAdjust="spacingAndGlyphs" fill="#000" >S 2p: SnS</text>
<text x="522.85" y="326.60" font-size="7" font-weight="bold" textLength="4.10" lengthAdjust="spacingAndGlyphs" fill="#000" >x</text>
<text x="526.62" y="321.60" font-size="12.6" font-weight="bold" textLength="58.94" lengthAdjust="spacingAndGlyphs" fill="#000" >@NF-160</text>
<text x="22.61" y="35.70" font-size="23" font-weight="bold" textLength="11.26" lengthAdjust="spacingAndGlyphs" fill="#000" >a</text>
<text x="367.76" y="36.60" font-size="22" font-weight="bold" textLength="14.30" lengthAdjust="spacingAndGlyphs" fill="#000" >b</text>
<text x="23.11" y="345.00" font-size="23" font-weight="bold" textLength="12.66" lengthAdjust="spacingAndGlyphs" fill="#000" >c</text>
<text x="367.36" y="347.70" font-size="22" font-weight="bold" textLength="14.06" lengthAdjust="spacingAndGlyphs" fill="#000" >d</text>
<line x1="21.50" y1="62.70" x2="44.80" y2="62.70" stroke="#000000" stroke-width="3.6" stroke-linecap="round"/>
<text x="48.22" y="65.90" font-size="10.0" font-weight="bold" textLength="45.02" lengthAdjust="spacingAndGlyphs" fill="#000" >Envelope</text>
<line x1="21.50" y1="75.60" x2="45.00" y2="75.60" stroke="#ff0000" stroke-width="3.2" stroke-linecap="round"/>
<text x="48.61" y="78.90" font-size="10.0" font-weight="bold" textLength="53.78" lengthAdjust="spacingAndGlyphs" fill="#000" >Sn 3d :CPS</text>
<line x1="21.50" y1="88.60" x2="45.00" y2="88.60" stroke="#0b7f7f" stroke-width="3.2" stroke-linecap="round"/>
<text x="48.61" y="92.30" font-size="10.0" font-weight="bold" textLength="42.55" lengthAdjust="spacingAndGlyphs" fill="#000" >Sn (0) 3d</text>
<text x="90.76" y="96.90" font-size="5.8" font-weight="bold" textLength="8.59" lengthAdjust="spacingAndGlyphs" fill="#000" >3/2</text>
<line x1="21.50" y1="105.50" x2="45.00" y2="105.50" stroke="#ff00ff" stroke-width="3.2" stroke-linecap="round"/>
<text x="48.61" y="108.80" font-size="10.0" font-weight="bold" textLength="42.35" lengthAdjust="spacingAndGlyphs" fill="#000" >Sn (II) 3d</text>
<text x="90.56" y="113.30" font-size="5.8" font-weight="bold" textLength="8.59" lengthAdjust="spacingAndGlyphs" fill="#000" >3/2</text>
<line x1="21.50" y1="122.20" x2="45.00" y2="122.20" stroke="#808000" stroke-width="3.2" stroke-linecap="round"/>
<text x="48.61" y="125.20" font-size="10.0" font-weight="bold" textLength="43.14" lengthAdjust="spacingAndGlyphs" fill="#000" >Sn(IV) 3d</text>
<text x="91.96" y="129.80" font-size="5.8" font-weight="bold" textLength="8.59" lengthAdjust="spacingAndGlyphs" fill="#000" >3/2</text>
<line x1="147.60" y1="63.30" x2="168.90" y2="63.30" stroke="#000000" stroke-width="3.6" stroke-linecap="round"/>
<text x="172.62" y="66.70" font-size="10.0" font-weight="bold" textLength="45.02" lengthAdjust="spacingAndGlyphs" fill="#000" >Envelope</text>
<line x1="147.40" y1="76.60" x2="169.10" y2="76.60" stroke="#ff0000" stroke-width="3.2" stroke-linecap="round"/>
<text x="173.01" y="79.10" font-size="10.0" font-weight="bold" textLength="53.78" lengthAdjust="spacingAndGlyphs" fill="#000" >Sn 3d :CPS</text>
<line x1="147.40" y1="89.30" x2="169.10" y2="89.30" stroke="#0b7f7f" stroke-width="3.2" stroke-linecap="round"/>
<text x="173.01" y="93.00" font-size="10.0" font-weight="bold" textLength="42.55" lengthAdjust="spacingAndGlyphs" fill="#000" >Sn (0) 3d</text>
<text x="215.11" y="97.60" font-size="5.8" font-weight="bold" textLength="8.64" lengthAdjust="spacingAndGlyphs" fill="#000" >5/2</text>
<line x1="147.40" y1="105.70" x2="169.10" y2="105.70" stroke="#ff00ff" stroke-width="3.2" stroke-linecap="round"/>
<text x="173.01" y="109.30" font-size="10.0" font-weight="bold" textLength="42.35" lengthAdjust="spacingAndGlyphs" fill="#000" >Sn (II) 3d</text>
<text x="214.91" y="113.80" font-size="5.8" font-weight="bold" textLength="8.64" lengthAdjust="spacingAndGlyphs" fill="#000" >5/2</text>
<line x1="147.40" y1="122.20" x2="169.10" y2="122.20" stroke="#808000" stroke-width="3.2" stroke-linecap="round"/>
<text x="173.01" y="125.80" font-size="10.0" font-weight="bold" textLength="43.14" lengthAdjust="spacingAndGlyphs" fill="#000" >Sn(IV) 3d</text>
<text x="216.31" y="130.40" font-size="5.8" font-weight="bold" textLength="8.64" lengthAdjust="spacingAndGlyphs" fill="#000" >5/2</text>
<line x1="367.00" y1="78.20" x2="391.70" y2="78.20" stroke="#000000" stroke-width="3.6" stroke-linecap="round"/>
<text x="395.00" y="81.60" font-size="10.0" font-weight="bold" textLength="46.60" lengthAdjust="spacingAndGlyphs" fill="#000" >Envelope</text>
<line x1="367.00" y1="91.40" x2="391.90" y2="91.40" stroke="#ff0000" stroke-width="3.2" stroke-linecap="round"/>
<text x="395.40" y="94.70" font-size="10.0" font-weight="bold" textLength="55.66" lengthAdjust="spacingAndGlyphs" fill="#000" >Sn 3d :CPS</text>
<line x1="367.00" y1="105.30" x2="391.90" y2="105.30" stroke="#0b7f7f" stroke-width="3.2" stroke-linecap="round"/>
<text x="395.40" y="108.60" font-size="10.0" font-weight="bold" textLength="44.04" lengthAdjust="spacingAndGlyphs" fill="#000" >Sn (0) 3d</text>
<text x="439.01" y="113.20" font-size="5.8" font-weight="bold" textLength="8.59" lengthAdjust="spacingAndGlyphs" fill="#000" >3/2</text>
<line x1="367.00" y1="122.00" x2="391.90" y2="122.00" stroke="#ff00ff" stroke-width="3.2" stroke-linecap="round"/>
<text x="395.40" y="125.70" font-size="10.0" font-weight="bold" textLength="43.83" lengthAdjust="spacingAndGlyphs" fill="#000" >Sn (II) 3d</text>
<text x="438.81" y="130.20" font-size="5.8" font-weight="bold" textLength="8.59" lengthAdjust="spacingAndGlyphs" fill="#000" >3/2</text>
<line x1="367.00" y1="139.40" x2="391.90" y2="139.40" stroke="#808000" stroke-width="3.2" stroke-linecap="round"/>
<text x="395.40" y="142.60" font-size="10.0" font-weight="bold" textLength="44.65" lengthAdjust="spacingAndGlyphs" fill="#000" >Sn(IV) 3d</text>
<text x="440.24" y="147.20" font-size="5.8" font-weight="bold" textLength="8.59" lengthAdjust="spacingAndGlyphs" fill="#000" >3/2</text>
<line x1="493.70" y1="77.80" x2="515.30" y2="77.80" stroke="#000000" stroke-width="3.6" stroke-linecap="round"/>
<text x="519.60" y="81.40" font-size="10.0" font-weight="bold" textLength="46.60" lengthAdjust="spacingAndGlyphs" fill="#000" >Envelope</text>
<line x1="493.50" y1="91.80" x2="515.50" y2="91.80" stroke="#ff0000" stroke-width="3.2" stroke-linecap="round"/>
<text x="520.00" y="95.00" font-size="10.0" font-weight="bold" textLength="55.66" lengthAdjust="spacingAndGlyphs" fill="#000" >Sn 3d :CPS</text>
<line x1="493.50" y1="105.30" x2="515.50" y2="105.30" stroke="#0b7f7f" stroke-width="3.2" stroke-linecap="round"/>
<text x="520.00" y="108.80" font-size="10.0" font-weight="bold" textLength="44.04" lengthAdjust="spacingAndGlyphs" fill="#000" >Sn (0) 3d</text>
<text x="563.56" y="113.40" font-size="5.8" font-weight="bold" textLength="8.64" lengthAdjust="spacingAndGlyphs" fill="#000" >5/2</text>
<line x1="493.50" y1="121.90" x2="515.50" y2="121.90" stroke="#ff00ff" stroke-width="3.2" stroke-linecap="round"/>
<text x="520.00" y="125.50" font-size="10.0" font-weight="bold" textLength="43.83" lengthAdjust="spacingAndGlyphs" fill="#000" >Sn (II) 3d</text>
<text x="563.36" y="130.00" font-size="5.8" font-weight="bold" textLength="8.64" lengthAdjust="spacingAndGlyphs" fill="#000" >5/2</text>
<line x1="493.50" y1="138.90" x2="515.50" y2="138.90" stroke="#808000" stroke-width="3.2" stroke-linecap="round"/>
<text x="520.00" y="142.30" font-size="10.0" font-weight="bold" textLength="44.65" lengthAdjust="spacingAndGlyphs" fill="#000" >Sn(IV) 3d</text>
<text x="564.79" y="146.90" font-size="5.8" font-weight="bold" textLength="8.64" lengthAdjust="spacingAndGlyphs" fill="#000" >5/2</text>
<line x1="227.50" y1="390.20" x2="251.90" y2="390.20" stroke="#ff00ff" stroke-width="2.8" stroke-linecap="round"/>
<line x1="227.50" y1="417.20" x2="251.90" y2="417.20" stroke="#0b7f7f" stroke-width="2.8" stroke-linecap="round"/>
<text x="255.34" y="394.20" font-size="15.7" font-weight="bold" textLength="33.92" lengthAdjust="spacingAndGlyphs" fill="#000" >S 2p</text>
<text x="291.56" y="400.90" font-size="9.6" font-weight="bold" textLength="14.25" lengthAdjust="spacingAndGlyphs" fill="#000" >3/2</text>
<text x="255.34" y="421.00" font-size="15.7" font-weight="bold" textLength="33.92" lengthAdjust="spacingAndGlyphs" fill="#000" >S 2p</text>
<text x="291.15" y="428.10" font-size="9.6" font-weight="bold" textLength="14.26" lengthAdjust="spacingAndGlyphs" fill="#000" >1/2</text>
<line x1="574.40" y1="415.10" x2="598.60" y2="415.10" stroke="#ff00ff" stroke-width="2.8" stroke-linecap="round"/>
<line x1="574.40" y1="443.10" x2="598.60" y2="443.10" stroke="#0b7f7f" stroke-width="2.8" stroke-linecap="round"/>
<text x="602.24" y="417.70" font-size="15.7" font-weight="bold" textLength="33.92" lengthAdjust="spacingAndGlyphs" fill="#000" >S 2p</text>
<text x="638.46" y="425.50" font-size="9.6" font-weight="bold" textLength="14.25" lengthAdjust="spacingAndGlyphs" fill="#000" >3/2</text>
<text x="603.64" y="446.30" font-size="15.7" font-weight="bold" textLength="33.92" lengthAdjust="spacingAndGlyphs" fill="#000" >S 2p</text>
<text x="640.25" y="453.60" font-size="9.6" font-weight="bold" textLength="14.26" lengthAdjust="spacingAndGlyphs" fill="#000" >1/2</text>
</g>
</g>
</svg>
</body></html>
